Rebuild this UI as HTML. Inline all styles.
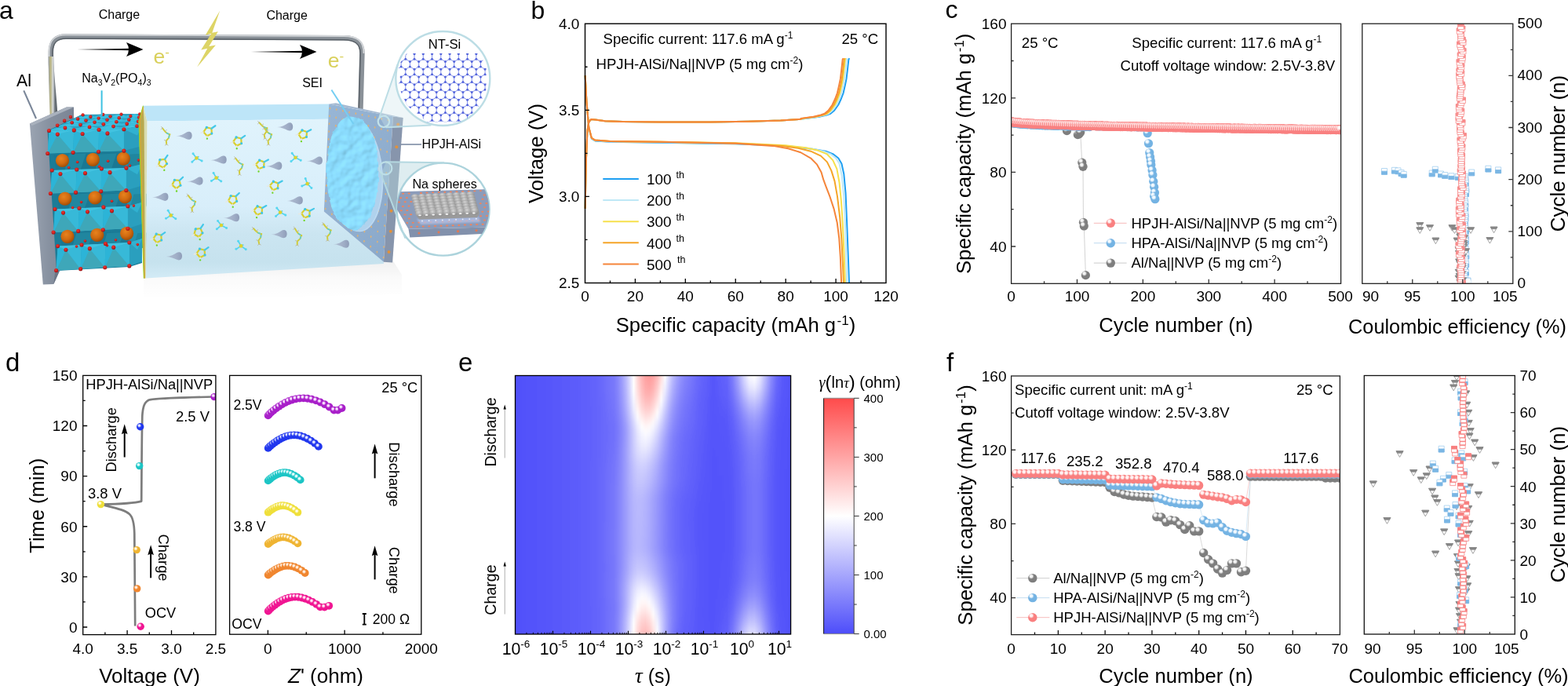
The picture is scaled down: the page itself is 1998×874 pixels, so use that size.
<!DOCTYPE html>
<html lang="en">
<head>
<meta charset="utf-8">
<title>Figure</title>
<style>
html,body{margin:0;padding:0;background:#fff;}
body{width:1998px;height:874px;overflow:hidden;}
svg{display:block;font-family:'Liberation Sans', sans-serif;}
</style>
</head>
<body>
<svg width="1998" height="874" viewBox="0 0 1998 874">
<defs>
<radialGradient id="aOr" cx="0.4" cy="0.35" r="0.7"><stop offset="0" stop-color="#e8821e"/><stop offset="0.55" stop-color="#d06a10"/><stop offset="1" stop-color="#9c4a06"/></radialGradient>
<radialGradient id="aRd" cx="0.42" cy="0.36" r="0.68"><stop offset="0" stop-color="#e8392f"/><stop offset="0.55" stop-color="#cf2020"/><stop offset="1" stop-color="#8f1010"/></radialGradient>
<linearGradient id="aAl" x1="0" y1="0" x2="1" y2="0"><stop offset="0" stop-color="#9ba4b2"/><stop offset="0.45" stop-color="#8791a0"/><stop offset="1" stop-color="#7a8494"/></linearGradient>
<linearGradient id="aBox" x1="0" y1="0" x2="0" y2="1"><stop offset="0" stop-color="#e0f3fc"/><stop offset="0.55" stop-color="#d8eefa"/><stop offset="0.72" stop-color="#cbe5f1"/><stop offset="0.9" stop-color="#c6e2ee"/><stop offset="1" stop-color="#d3ebf6"/></linearGradient>
<linearGradient id="aPl" x1="0" y1="0" x2="1" y2="1"><stop offset="0" stop-color="#98b6d6"/><stop offset="1" stop-color="#8aa8c9"/></linearGradient>
<linearGradient id="aSh" x1="0" y1="0" x2="0" y2="1"><stop offset="0" stop-color="#000" stop-opacity="0.06"/><stop offset="0.45" stop-color="#000" stop-opacity="0.02"/><stop offset="1" stop-color="#000" stop-opacity="0"/></linearGradient>
<linearGradient id="aTd" x1="0" y1="0" x2="1" y2="0"><stop offset="0" stop-color="#b0bccf" stop-opacity="0.35"/><stop offset="0.3" stop-color="#a9b6cc" stop-opacity="0.95"/><stop offset="0.7" stop-color="#9eacc5"/><stop offset="1" stop-color="#8f9db8"/></linearGradient>
<linearGradient id="aWh" x1="0" y1="0" x2="0" y2="1"><stop offset="0" stop-color="#aeb4ba"/><stop offset="0.3" stop-color="#e4e7ea"/><stop offset="0.55" stop-color="#4f565e"/><stop offset="0.8" stop-color="#8a9199"/><stop offset="1" stop-color="#6c737b"/></linearGradient>
<linearGradient id="aWv" x1="0" y1="0" x2="1" y2="0"><stop offset="0" stop-color="#9aa0a6"/><stop offset="0.3" stop-color="#dfe2e5"/><stop offset="0.6" stop-color="#555c64"/><stop offset="1" stop-color="#868d95"/></linearGradient>
<linearGradient id="aWv2" x1="0" y1="0" x2="1" y2="0"><stop offset="0" stop-color="#9da3a8"/><stop offset="0.22" stop-color="#b9b47e"/><stop offset="0.5" stop-color="#d4d7da"/><stop offset="0.72" stop-color="#6d747a"/><stop offset="1" stop-color="#4e555b"/></linearGradient>
<radialGradient id="aSei" cx="0.45" cy="0.4" r="0.75"><stop offset="0" stop-color="#6fcdf3"/><stop offset="0.7" stop-color="#58c0ec"/><stop offset="1" stop-color="#4bb3e2"/></radialGradient>
<radialGradient id="aNa" cx="0.4" cy="0.3" r="0.8"><stop offset="0" stop-color="#d4d4d4"/><stop offset="0.5" stop-color="#a9a9a9"/><stop offset="1" stop-color="#878787"/></radialGradient>
<clipPath id="aC1"><circle cx="564.3" cy="100" r="59.6"/></clipPath>
<clipPath id="aC2"><circle cx="564.6" cy="266.6" r="58.6"/></clipPath>
<filter id="aB1" x="-20%" y="-20%" width="140%" height="140%"><feGaussianBlur stdDeviation="1.1"/></filter>
<filter id="aB2" x="-20%" y="-20%" width="140%" height="140%"><feGaussianBlur stdDeviation="2.2"/></filter>
<filter id="aTex" x="-5%" y="-5%" width="110%" height="110%"><feTurbulence type="fractalNoise" baseFrequency="0.085" numOctaves="2" seed="7" result="n"/><feDiffuseLighting in="n" lighting-color="#8adbfd" surfaceScale="1.7" diffuseConstant="1.14" result="l"><feDistantLight azimuth="230" elevation="62"/></feDiffuseLighting><feDisplacementMap in="SourceGraphic" in2="n" scale="5" xChannelSelector="R" yChannelSelector="G" result="d"/><feComposite in="l" in2="d" operator="in"/></filter>
<clipPath id="aCs"><ellipse cx="450" cy="220.5" rx="34.5" ry="73" transform="rotate(-4 450 220.5)"/></clipPath>
<radialGradient id="gR" cx="0.36" cy="0.32" r="0.62" fx="0.34" fy="0.28"><stop offset="0" stop-color="#fff2f2"/><stop offset="0.22" stop-color="#fff2f2"/><stop offset="0.5" stop-color="#f98080"/><stop offset="1" stop-color="#f98080"/></radialGradient>
<radialGradient id="gB" cx="0.36" cy="0.32" r="0.62" fx="0.34" fy="0.28"><stop offset="0" stop-color="#f2f9ff"/><stop offset="0.22" stop-color="#f2f9ff"/><stop offset="0.5" stop-color="#74b3e3"/><stop offset="1" stop-color="#74b3e3"/></radialGradient>
<radialGradient id="gG" cx="0.36" cy="0.32" r="0.62" fx="0.34" fy="0.28"><stop offset="0" stop-color="#f4f4f4"/><stop offset="0.22" stop-color="#f4f4f4"/><stop offset="0.5" stop-color="#7e7e7e"/><stop offset="1" stop-color="#7e7e7e"/></radialGradient>
<radialGradient id="dP" cx="0.38" cy="0.36" r="0.6" fx="0.36" fy="0.32"><stop offset="0" stop-color="#fff"/><stop offset="0.2" stop-color="#f3d4fb"/><stop offset="0.48" stop-color="#a81fc9"/><stop offset="1" stop-color="#a81fc9"/></radialGradient>
<radialGradient id="dB" cx="0.38" cy="0.36" r="0.6" fx="0.36" fy="0.32"><stop offset="0" stop-color="#fff"/><stop offset="0.2" stop-color="#d5dbff"/><stop offset="0.48" stop-color="#2137ee"/><stop offset="1" stop-color="#2137ee"/></radialGradient>
<radialGradient id="dC" cx="0.38" cy="0.36" r="0.6" fx="0.36" fy="0.32"><stop offset="0" stop-color="#fff"/><stop offset="0.2" stop-color="#d8fbfb"/><stop offset="0.48" stop-color="#1cc5c5"/><stop offset="1" stop-color="#1cc5c5"/></radialGradient>
<radialGradient id="dY" cx="0.38" cy="0.36" r="0.6" fx="0.36" fy="0.32"><stop offset="0" stop-color="#fff"/><stop offset="0.2" stop-color="#fffbd8"/><stop offset="0.48" stop-color="#efdf3a"/><stop offset="1" stop-color="#efdf3a"/></radialGradient>
<radialGradient id="dO" cx="0.38" cy="0.36" r="0.6" fx="0.36" fy="0.32"><stop offset="0" stop-color="#fff"/><stop offset="0.2" stop-color="#fff1d2"/><stop offset="0.48" stop-color="#efb432"/><stop offset="1" stop-color="#efb432"/></radialGradient>
<radialGradient id="dR" cx="0.38" cy="0.36" r="0.6" fx="0.36" fy="0.32"><stop offset="0" stop-color="#fff"/><stop offset="0.2" stop-color="#ffe6d0"/><stop offset="0.48" stop-color="#f0862f"/><stop offset="1" stop-color="#f0862f"/></radialGradient>
<radialGradient id="dM" cx="0.38" cy="0.36" r="0.6" fx="0.36" fy="0.32"><stop offset="0" stop-color="#fff"/><stop offset="0.2" stop-color="#ffd3ec"/><stop offset="0.48" stop-color="#f01592"/><stop offset="1" stop-color="#f01592"/></radialGradient>
<marker id="ah" viewBox="0 0 10 10" refX="5" refY="5" markerWidth="10" markerHeight="10" orient="auto" markerUnits="userSpaceOnUse"><path d="M0 0L10 5L0 10z"/></marker>
<linearGradient id="cbar" x1="0" y1="0" x2="0" y2="1"><stop offset="0" stop-color="#ff4b4b"/><stop offset="0.5" stop-color="#ffffff"/><stop offset="1" stop-color="#4d4dfa"/></linearGradient>
<clipPath id="eclip"><rect x="656.5" y="478.5" width="351.1" height="329.5"/></clipPath>
<filter id="ebv" x="-5%" y="-10%" width="110%" height="120%"><feGaussianBlur stdDeviation="0 4"/></filter>
<linearGradient id="er0"><stop offset="0" stop-color="#5151fa"/><stop offset=".051" stop-color="#5252fa"/><stop offset=".103" stop-color="#5555fa"/><stop offset=".154" stop-color="#5959fa"/><stop offset=".205" stop-color="#5b5bfa"/><stop offset=".256" stop-color="#5f5ffb"/><stop offset=".308" stop-color="#6767fb"/><stop offset=".359" stop-color="#7a7afb"/><stop offset=".373" stop-color="#8888fc"/><stop offset=".387" stop-color="#9d9dfc"/><stop offset=".402" stop-color="#b9b9fd"/><stop offset=".416" stop-color="#dcdcfe"/><stop offset=".43" stop-color="#fffcfc"/><stop offset=".444" stop-color="#ffd6d6"/><stop offset=".459" stop-color="#ffb5b5"/><stop offset=".473" stop-color="#ffa0a0"/><stop offset=".487" stop-color="#ff9a9a"/><stop offset=".501" stop-color="#ffa3a3"/><stop offset=".516" stop-color="#ffbaba"/><stop offset=".53" stop-color="#ffdbdb"/><stop offset=".544" stop-color="#fefeff"/><stop offset=".558" stop-color="#dadafe"/><stop offset=".572" stop-color="#bbbbfd"/><stop offset=".587" stop-color="#a3a3fc"/><stop offset=".601" stop-color="#9292fc"/><stop offset=".615" stop-color="#8585fc"/><stop offset=".666" stop-color="#6868fb"/><stop offset=".718" stop-color="#5656fa"/><stop offset=".769" stop-color="#6464fb"/><stop offset=".789" stop-color="#7d7dfb"/><stop offset=".809" stop-color="#a4a4fc"/><stop offset=".829" stop-color="#d3d3fe"/><stop offset=".849" stop-color="#f7f7ff"/><stop offset=".869" stop-color="#ffffff"/><stop offset=".889" stop-color="#e5e5fe"/><stop offset=".909" stop-color="#b7b7fd"/><stop offset=".929" stop-color="#8a8afc"/><stop offset=".948" stop-color="#6a6afb"/><stop offset=".968" stop-color="#5a5afa"/><stop offset="1" stop-color="#5252fa"/></linearGradient>
<linearGradient id="er1"><stop offset="0" stop-color="#5151fa"/><stop offset=".051" stop-color="#5252fa"/><stop offset=".103" stop-color="#5555fa"/><stop offset=".154" stop-color="#5959fa"/><stop offset=".205" stop-color="#5b5bfa"/><stop offset=".256" stop-color="#5f5ffb"/><stop offset=".308" stop-color="#6767fb"/><stop offset=".359" stop-color="#7a7afb"/><stop offset=".373" stop-color="#8888fc"/><stop offset=".387" stop-color="#9d9dfc"/><stop offset=".402" stop-color="#b9b9fd"/><stop offset=".416" stop-color="#dcdcfe"/><stop offset=".43" stop-color="#fffcfc"/><stop offset=".444" stop-color="#ffd6d6"/><stop offset=".459" stop-color="#ffb5b5"/><stop offset=".473" stop-color="#ffa0a0"/><stop offset=".487" stop-color="#ff9a9a"/><stop offset=".501" stop-color="#ffa3a3"/><stop offset=".516" stop-color="#ffbaba"/><stop offset=".53" stop-color="#ffdbdb"/><stop offset=".544" stop-color="#fefeff"/><stop offset=".558" stop-color="#dadafe"/><stop offset=".572" stop-color="#bbbbfd"/><stop offset=".587" stop-color="#a3a3fc"/><stop offset=".601" stop-color="#9292fc"/><stop offset=".615" stop-color="#8585fc"/><stop offset=".666" stop-color="#6868fb"/><stop offset=".718" stop-color="#5656fa"/><stop offset=".769" stop-color="#6464fb"/><stop offset=".789" stop-color="#7d7dfb"/><stop offset=".809" stop-color="#a4a4fc"/><stop offset=".829" stop-color="#d3d3fe"/><stop offset=".849" stop-color="#f7f7ff"/><stop offset=".869" stop-color="#ffffff"/><stop offset=".889" stop-color="#e5e5fe"/><stop offset=".909" stop-color="#b7b7fd"/><stop offset=".929" stop-color="#8a8afc"/><stop offset=".948" stop-color="#6a6afb"/><stop offset=".968" stop-color="#5a5afa"/><stop offset="1" stop-color="#5252fa"/></linearGradient>
<linearGradient id="er2"><stop offset="0" stop-color="#5151fa"/><stop offset=".051" stop-color="#5252fa"/><stop offset=".103" stop-color="#5555fa"/><stop offset=".154" stop-color="#5959fa"/><stop offset=".205" stop-color="#5b5bfa"/><stop offset=".256" stop-color="#5f5ffb"/><stop offset=".308" stop-color="#6767fb"/><stop offset=".359" stop-color="#7979fb"/><stop offset=".373" stop-color="#8787fc"/><stop offset=".387" stop-color="#9c9cfc"/><stop offset=".402" stop-color="#b8b8fd"/><stop offset=".416" stop-color="#dadafe"/><stop offset=".43" stop-color="#fffefe"/><stop offset=".444" stop-color="#ffd9d9"/><stop offset=".459" stop-color="#ffb9b9"/><stop offset=".473" stop-color="#ffa6a6"/><stop offset=".487" stop-color="#ffa1a1"/><stop offset=".501" stop-color="#ffabab"/><stop offset=".516" stop-color="#ffc3c3"/><stop offset=".53" stop-color="#ffe4e4"/><stop offset=".544" stop-color="#f5f5ff"/><stop offset=".558" stop-color="#d3d3fe"/><stop offset=".572" stop-color="#b5b5fd"/><stop offset=".587" stop-color="#9e9efc"/><stop offset=".601" stop-color="#8e8efc"/><stop offset=".615" stop-color="#8282fb"/><stop offset=".666" stop-color="#6767fb"/><stop offset=".718" stop-color="#5656fa"/><stop offset=".769" stop-color="#6363fb"/><stop offset=".789" stop-color="#7a7afb"/><stop offset=".809" stop-color="#a0a0fc"/><stop offset=".829" stop-color="#ccccfe"/><stop offset=".849" stop-color="#eeeeff"/><stop offset=".869" stop-color="#f6f6ff"/><stop offset=".889" stop-color="#dedefe"/><stop offset=".909" stop-color="#b2b2fd"/><stop offset=".929" stop-color="#8787fc"/><stop offset=".948" stop-color="#6969fb"/><stop offset=".968" stop-color="#5959fa"/><stop offset="1" stop-color="#5252fa"/></linearGradient>
<linearGradient id="er3"><stop offset="0" stop-color="#5151fa"/><stop offset=".051" stop-color="#5252fa"/><stop offset=".103" stop-color="#5555fa"/><stop offset=".154" stop-color="#5959fa"/><stop offset=".205" stop-color="#5b5bfa"/><stop offset=".256" stop-color="#5f5ffb"/><stop offset=".308" stop-color="#6767fb"/><stop offset=".359" stop-color="#7979fb"/><stop offset=".373" stop-color="#8787fc"/><stop offset=".387" stop-color="#9b9bfc"/><stop offset=".402" stop-color="#b6b6fd"/><stop offset=".416" stop-color="#d8d8fe"/><stop offset=".43" stop-color="#fefeff"/><stop offset=".444" stop-color="#ffdcdc"/><stop offset=".459" stop-color="#ffbebe"/><stop offset=".473" stop-color="#ffabab"/><stop offset=".487" stop-color="#ffa7a7"/><stop offset=".501" stop-color="#ffb3b3"/><stop offset=".516" stop-color="#ffcccc"/><stop offset=".53" stop-color="#ffeded"/><stop offset=".544" stop-color="#ededff"/><stop offset=".558" stop-color="#ccccfe"/><stop offset=".572" stop-color="#afaffd"/><stop offset=".587" stop-color="#9999fc"/><stop offset=".601" stop-color="#8a8afc"/><stop offset=".615" stop-color="#7f7ffb"/><stop offset=".666" stop-color="#6666fb"/><stop offset=".718" stop-color="#5656fa"/><stop offset=".769" stop-color="#6161fb"/><stop offset=".789" stop-color="#7777fb"/><stop offset=".809" stop-color="#9999fc"/><stop offset=".829" stop-color="#c2c2fd"/><stop offset=".849" stop-color="#e2e2fe"/><stop offset=".869" stop-color="#e9e9fe"/><stop offset=".889" stop-color="#d3d3fe"/><stop offset=".909" stop-color="#ababfd"/><stop offset=".929" stop-color="#8383fc"/><stop offset=".948" stop-color="#6767fb"/><stop offset=".968" stop-color="#5959fa"/><stop offset="1" stop-color="#5252fa"/></linearGradient>
<linearGradient id="er4"><stop offset="0" stop-color="#5151fa"/><stop offset=".051" stop-color="#5252fa"/><stop offset=".103" stop-color="#5555fa"/><stop offset=".154" stop-color="#5959fa"/><stop offset=".205" stop-color="#5b5bfa"/><stop offset=".256" stop-color="#5f5ffb"/><stop offset=".308" stop-color="#6767fb"/><stop offset=".359" stop-color="#7878fb"/><stop offset=".373" stop-color="#8585fc"/><stop offset=".387" stop-color="#9999fc"/><stop offset=".402" stop-color="#b4b4fd"/><stop offset=".416" stop-color="#d6d6fe"/><stop offset=".43" stop-color="#fafaff"/><stop offset=".444" stop-color="#ffe0e0"/><stop offset=".459" stop-color="#ffc3c3"/><stop offset=".473" stop-color="#ffb2b2"/><stop offset=".487" stop-color="#ffb0b0"/><stop offset=".501" stop-color="#ffbdbd"/><stop offset=".516" stop-color="#ffd6d6"/><stop offset=".53" stop-color="#fff6f6"/><stop offset=".544" stop-color="#e5e5fe"/><stop offset=".558" stop-color="#c4c4fd"/><stop offset=".572" stop-color="#a9a9fd"/><stop offset=".587" stop-color="#9494fc"/><stop offset=".601" stop-color="#8686fc"/><stop offset=".615" stop-color="#7c7cfb"/><stop offset=".666" stop-color="#6464fb"/><stop offset=".718" stop-color="#5656fa"/><stop offset=".769" stop-color="#6060fb"/><stop offset=".789" stop-color="#7373fb"/><stop offset=".809" stop-color="#9191fc"/><stop offset=".829" stop-color="#b5b5fd"/><stop offset=".849" stop-color="#d2d2fe"/><stop offset=".869" stop-color="#d8d8fe"/><stop offset=".889" stop-color="#c5c5fd"/><stop offset=".909" stop-color="#a1a1fc"/><stop offset=".929" stop-color="#7d7dfb"/><stop offset=".948" stop-color="#6464fb"/><stop offset=".968" stop-color="#5858fa"/><stop offset="1" stop-color="#5252fa"/></linearGradient>
<linearGradient id="er5"><stop offset="0" stop-color="#5151fa"/><stop offset=".051" stop-color="#5252fa"/><stop offset=".103" stop-color="#5555fa"/><stop offset=".154" stop-color="#5959fa"/><stop offset=".205" stop-color="#5b5bfa"/><stop offset=".256" stop-color="#5f5ffb"/><stop offset=".308" stop-color="#6666fb"/><stop offset=".359" stop-color="#7777fb"/><stop offset=".373" stop-color="#8484fc"/><stop offset=".387" stop-color="#9797fc"/><stop offset=".402" stop-color="#b1b1fd"/><stop offset=".416" stop-color="#d1d1fe"/><stop offset=".43" stop-color="#f4f4ff"/><stop offset=".444" stop-color="#ffe8e8"/><stop offset=".459" stop-color="#ffcdcd"/><stop offset=".473" stop-color="#ffbdbd"/><stop offset=".487" stop-color="#ffbcbc"/><stop offset=".501" stop-color="#ffcaca"/><stop offset=".516" stop-color="#ffe3e3"/><stop offset=".53" stop-color="#fcfcff"/><stop offset=".544" stop-color="#dadafe"/><stop offset=".558" stop-color="#bbbbfd"/><stop offset=".572" stop-color="#a2a2fc"/><stop offset=".587" stop-color="#8f8ffc"/><stop offset=".601" stop-color="#8282fb"/><stop offset=".615" stop-color="#7979fb"/><stop offset=".666" stop-color="#6363fb"/><stop offset=".718" stop-color="#5555fa"/><stop offset=".769" stop-color="#5e5efa"/><stop offset=".789" stop-color="#6e6efb"/><stop offset=".809" stop-color="#8989fc"/><stop offset=".829" stop-color="#a8a8fd"/><stop offset=".849" stop-color="#c1c1fd"/><stop offset=".869" stop-color="#c7c7fd"/><stop offset=".889" stop-color="#b7b7fd"/><stop offset=".909" stop-color="#9797fc"/><stop offset=".929" stop-color="#7878fb"/><stop offset=".948" stop-color="#6262fb"/><stop offset=".968" stop-color="#5757fa"/><stop offset="1" stop-color="#5151fa"/></linearGradient>
<linearGradient id="er6"><stop offset="0" stop-color="#5151fa"/><stop offset=".051" stop-color="#5252fa"/><stop offset=".103" stop-color="#5555fa"/><stop offset=".154" stop-color="#5959fa"/><stop offset=".205" stop-color="#5b5bfa"/><stop offset=".256" stop-color="#5f5ffb"/><stop offset=".308" stop-color="#6666fb"/><stop offset=".359" stop-color="#7676fb"/><stop offset=".373" stop-color="#8282fb"/><stop offset=".387" stop-color="#9494fc"/><stop offset=".402" stop-color="#aeaefd"/><stop offset=".416" stop-color="#ccccfe"/><stop offset=".43" stop-color="#eeeeff"/><stop offset=".444" stop-color="#fff0f0"/><stop offset=".459" stop-color="#ffd6d6"/><stop offset=".473" stop-color="#ffc9c9"/><stop offset=".487" stop-color="#ffc9c9"/><stop offset=".501" stop-color="#ffd7d7"/><stop offset=".516" stop-color="#ffefef"/><stop offset=".53" stop-color="#f0f0ff"/><stop offset=".544" stop-color="#d0d0fe"/><stop offset=".558" stop-color="#b2b2fd"/><stop offset=".572" stop-color="#9b9bfc"/><stop offset=".587" stop-color="#8989fc"/><stop offset=".601" stop-color="#7e7efb"/><stop offset=".615" stop-color="#7676fb"/><stop offset=".666" stop-color="#6262fb"/><stop offset=".718" stop-color="#5555fa"/><stop offset=".769" stop-color="#5c5cfa"/><stop offset=".789" stop-color="#6a6afb"/><stop offset=".809" stop-color="#8080fb"/><stop offset=".829" stop-color="#9b9bfc"/><stop offset=".849" stop-color="#b0b0fd"/><stop offset=".869" stop-color="#b6b6fd"/><stop offset=".889" stop-color="#a8a8fd"/><stop offset=".909" stop-color="#8d8dfc"/><stop offset=".929" stop-color="#7272fb"/><stop offset=".948" stop-color="#5f5ffb"/><stop offset=".968" stop-color="#5656fa"/><stop offset="1" stop-color="#5151fa"/></linearGradient>
<linearGradient id="er7"><stop offset="0" stop-color="#5151fa"/><stop offset=".051" stop-color="#5252fa"/><stop offset=".103" stop-color="#5555fa"/><stop offset=".154" stop-color="#5959fa"/><stop offset=".205" stop-color="#5b5bfa"/><stop offset=".256" stop-color="#5f5ffb"/><stop offset=".308" stop-color="#6666fb"/><stop offset=".359" stop-color="#7474fb"/><stop offset=".373" stop-color="#8080fb"/><stop offset=".387" stop-color="#9191fc"/><stop offset=".402" stop-color="#a9a9fd"/><stop offset=".416" stop-color="#c6c6fd"/><stop offset=".43" stop-color="#e6e6fe"/><stop offset=".444" stop-color="#fffafa"/><stop offset=".459" stop-color="#ffe3e3"/><stop offset=".473" stop-color="#ffd7d7"/><stop offset=".487" stop-color="#ffd8d8"/><stop offset=".501" stop-color="#ffe6e6"/><stop offset=".516" stop-color="#fffefe"/><stop offset=".53" stop-color="#e4e4fe"/><stop offset=".544" stop-color="#c6c6fd"/><stop offset=".558" stop-color="#ababfd"/><stop offset=".572" stop-color="#9595fc"/><stop offset=".587" stop-color="#8686fc"/><stop offset=".601" stop-color="#7b7bfb"/><stop offset=".615" stop-color="#7474fb"/><stop offset=".666" stop-color="#6161fb"/><stop offset=".718" stop-color="#5555fa"/><stop offset=".769" stop-color="#5a5afa"/><stop offset=".789" stop-color="#6666fb"/><stop offset=".809" stop-color="#7979fb"/><stop offset=".829" stop-color="#9090fc"/><stop offset=".849" stop-color="#a3a3fc"/><stop offset=".869" stop-color="#a8a8fd"/><stop offset=".889" stop-color="#9c9cfc"/><stop offset=".909" stop-color="#8585fc"/><stop offset=".929" stop-color="#6e6efb"/><stop offset=".948" stop-color="#5d5dfa"/><stop offset=".968" stop-color="#5555fa"/><stop offset="1" stop-color="#5151fa"/></linearGradient>
<linearGradient id="er8"><stop offset="0" stop-color="#5151fa"/><stop offset=".051" stop-color="#5252fa"/><stop offset=".103" stop-color="#5555fa"/><stop offset=".154" stop-color="#5959fa"/><stop offset=".205" stop-color="#5b5bfa"/><stop offset=".256" stop-color="#5f5ffb"/><stop offset=".308" stop-color="#6666fb"/><stop offset=".359" stop-color="#7373fb"/><stop offset=".373" stop-color="#7d7dfb"/><stop offset=".387" stop-color="#8d8dfc"/><stop offset=".402" stop-color="#a4a4fc"/><stop offset=".416" stop-color="#bfbffd"/><stop offset=".43" stop-color="#dcdcfe"/><stop offset=".444" stop-color="#f8f8ff"/><stop offset=".459" stop-color="#fff1f1"/><stop offset=".473" stop-color="#ffe6e6"/><stop offset=".487" stop-color="#ffe9e9"/><stop offset=".501" stop-color="#fff6f6"/><stop offset=".516" stop-color="#f2f2ff"/><stop offset=".53" stop-color="#d8d8fe"/><stop offset=".544" stop-color="#bcbcfd"/><stop offset=".558" stop-color="#a4a4fc"/><stop offset=".572" stop-color="#9090fc"/><stop offset=".587" stop-color="#8282fb"/><stop offset=".601" stop-color="#7878fb"/><stop offset=".615" stop-color="#7272fb"/><stop offset=".666" stop-color="#6161fb"/><stop offset=".718" stop-color="#5454fa"/><stop offset=".769" stop-color="#5858fa"/><stop offset=".789" stop-color="#6262fb"/><stop offset=".809" stop-color="#7373fb"/><stop offset=".829" stop-color="#8686fc"/><stop offset=".849" stop-color="#9696fc"/><stop offset=".869" stop-color="#9b9bfc"/><stop offset=".889" stop-color="#9191fc"/><stop offset=".909" stop-color="#7e7efb"/><stop offset=".929" stop-color="#6969fb"/><stop offset=".948" stop-color="#5b5bfa"/><stop offset=".968" stop-color="#5454fa"/><stop offset="1" stop-color="#5151fa"/></linearGradient>
<linearGradient id="er9"><stop offset="0" stop-color="#5151fa"/><stop offset=".051" stop-color="#5252fa"/><stop offset=".103" stop-color="#5555fa"/><stop offset=".154" stop-color="#5959fa"/><stop offset=".205" stop-color="#5b5bfa"/><stop offset=".256" stop-color="#5f5ffb"/><stop offset=".308" stop-color="#6666fb"/><stop offset=".359" stop-color="#7171fb"/><stop offset=".373" stop-color="#7b7bfb"/><stop offset=".387" stop-color="#8a8afc"/><stop offset=".402" stop-color="#9e9efc"/><stop offset=".416" stop-color="#b8b8fd"/><stop offset=".43" stop-color="#d3d3fe"/><stop offset=".444" stop-color="#ededfe"/><stop offset=".459" stop-color="#ffffff"/><stop offset=".473" stop-color="#fff6f6"/><stop offset=".487" stop-color="#fff9f9"/><stop offset=".501" stop-color="#f8f8ff"/><stop offset=".516" stop-color="#e4e4fe"/><stop offset=".53" stop-color="#ccccfe"/><stop offset=".544" stop-color="#b3b3fd"/><stop offset=".558" stop-color="#9d9dfc"/><stop offset=".572" stop-color="#8b8bfc"/><stop offset=".587" stop-color="#7e7efb"/><stop offset=".601" stop-color="#7676fb"/><stop offset=".615" stop-color="#7070fb"/><stop offset=".666" stop-color="#6060fb"/><stop offset=".718" stop-color="#5454fa"/><stop offset=".769" stop-color="#5858fa"/><stop offset=".789" stop-color="#6060fb"/><stop offset=".809" stop-color="#6f6ffb"/><stop offset=".829" stop-color="#8080fb"/><stop offset=".849" stop-color="#8e8efc"/><stop offset=".869" stop-color="#9393fc"/><stop offset=".889" stop-color="#8b8bfc"/><stop offset=".909" stop-color="#7979fb"/><stop offset=".929" stop-color="#6767fb"/><stop offset=".948" stop-color="#5a5afa"/><stop offset=".968" stop-color="#5454fa"/><stop offset="1" stop-color="#5151fa"/></linearGradient>
<linearGradient id="er10"><stop offset="0" stop-color="#5151fa"/><stop offset=".051" stop-color="#5252fa"/><stop offset=".103" stop-color="#5555fa"/><stop offset=".154" stop-color="#5959fa"/><stop offset=".205" stop-color="#5b5bfa"/><stop offset=".256" stop-color="#5f5ffb"/><stop offset=".308" stop-color="#6666fb"/><stop offset=".359" stop-color="#7171fb"/><stop offset=".373" stop-color="#7a7afb"/><stop offset=".387" stop-color="#8989fc"/><stop offset=".402" stop-color="#9c9cfc"/><stop offset=".416" stop-color="#b5b5fd"/><stop offset=".43" stop-color="#cecefe"/><stop offset=".444" stop-color="#e6e6fe"/><stop offset=".459" stop-color="#f7f7ff"/><stop offset=".473" stop-color="#fdfdff"/><stop offset=".487" stop-color="#f9f9ff"/><stop offset=".501" stop-color="#ececfe"/><stop offset=".516" stop-color="#d8d8fe"/><stop offset=".53" stop-color="#c1c1fd"/><stop offset=".544" stop-color="#ababfd"/><stop offset=".558" stop-color="#9696fc"/><stop offset=".572" stop-color="#8686fc"/><stop offset=".587" stop-color="#7b7bfb"/><stop offset=".601" stop-color="#7373fb"/><stop offset=".615" stop-color="#6d6dfb"/><stop offset=".666" stop-color="#5f5ffa"/><stop offset=".718" stop-color="#5454fa"/><stop offset=".769" stop-color="#5757fa"/><stop offset=".789" stop-color="#5e5efa"/><stop offset=".809" stop-color="#6b6bfb"/><stop offset=".829" stop-color="#7a7afb"/><stop offset=".849" stop-color="#8787fc"/><stop offset=".869" stop-color="#8b8bfc"/><stop offset=".889" stop-color="#8484fc"/><stop offset=".909" stop-color="#7575fb"/><stop offset=".929" stop-color="#6464fb"/><stop offset=".948" stop-color="#5959fa"/><stop offset=".968" stop-color="#5353fa"/><stop offset="1" stop-color="#5151fa"/></linearGradient>
<linearGradient id="er11"><stop offset="0" stop-color="#5151fa"/><stop offset=".051" stop-color="#5252fa"/><stop offset=".103" stop-color="#5555fa"/><stop offset=".154" stop-color="#5959fa"/><stop offset=".205" stop-color="#5b5bfa"/><stop offset=".256" stop-color="#5f5ffb"/><stop offset=".308" stop-color="#6666fb"/><stop offset=".359" stop-color="#7171fb"/><stop offset=".373" stop-color="#7b7bfb"/><stop offset=".387" stop-color="#8989fc"/><stop offset=".402" stop-color="#9d9dfc"/><stop offset=".416" stop-color="#b5b5fd"/><stop offset=".43" stop-color="#cdcdfe"/><stop offset=".444" stop-color="#e3e3fe"/><stop offset=".459" stop-color="#f1f1ff"/><stop offset=".473" stop-color="#f5f5ff"/><stop offset=".487" stop-color="#efefff"/><stop offset=".501" stop-color="#e2e2fe"/><stop offset=".516" stop-color="#cecefe"/><stop offset=".53" stop-color="#b8b8fd"/><stop offset=".544" stop-color="#a3a3fc"/><stop offset=".558" stop-color="#9090fc"/><stop offset=".572" stop-color="#8181fb"/><stop offset=".587" stop-color="#7777fb"/><stop offset=".601" stop-color="#7070fb"/><stop offset=".615" stop-color="#6b6bfb"/><stop offset=".666" stop-color="#5e5efa"/><stop offset=".718" stop-color="#5454fa"/><stop offset=".769" stop-color="#5656fa"/><stop offset=".789" stop-color="#5d5dfa"/><stop offset=".809" stop-color="#6868fb"/><stop offset=".829" stop-color="#7575fb"/><stop offset=".849" stop-color="#8181fb"/><stop offset=".869" stop-color="#8585fc"/><stop offset=".889" stop-color="#7f7ffb"/><stop offset=".909" stop-color="#7171fb"/><stop offset=".929" stop-color="#6262fb"/><stop offset=".948" stop-color="#5858fa"/><stop offset=".968" stop-color="#5353fa"/><stop offset="1" stop-color="#5151fa"/></linearGradient>
<linearGradient id="er12"><stop offset="0" stop-color="#5151fa"/><stop offset=".051" stop-color="#5252fa"/><stop offset=".103" stop-color="#5555fa"/><stop offset=".154" stop-color="#5959fa"/><stop offset=".205" stop-color="#5b5bfa"/><stop offset=".256" stop-color="#5f5ffb"/><stop offset=".308" stop-color="#6666fb"/><stop offset=".359" stop-color="#7272fb"/><stop offset=".373" stop-color="#7c7cfb"/><stop offset=".387" stop-color="#8b8bfc"/><stop offset=".402" stop-color="#9e9efc"/><stop offset=".416" stop-color="#b5b5fd"/><stop offset=".43" stop-color="#ccccfe"/><stop offset=".444" stop-color="#dfdffe"/><stop offset=".459" stop-color="#ebebfe"/><stop offset=".473" stop-color="#ededfe"/><stop offset=".487" stop-color="#e6e6fe"/><stop offset=".501" stop-color="#d8d8fe"/><stop offset=".516" stop-color="#c6c6fd"/><stop offset=".53" stop-color="#b2b2fd"/><stop offset=".544" stop-color="#9e9efc"/><stop offset=".558" stop-color="#8d8dfc"/><stop offset=".572" stop-color="#7f7ffb"/><stop offset=".587" stop-color="#7676fb"/><stop offset=".601" stop-color="#6f6ffb"/><stop offset=".615" stop-color="#6a6afb"/><stop offset=".666" stop-color="#5d5dfa"/><stop offset=".718" stop-color="#5454fa"/><stop offset=".769" stop-color="#5656fa"/><stop offset=".789" stop-color="#5c5cfa"/><stop offset=".809" stop-color="#6666fb"/><stop offset=".829" stop-color="#7272fb"/><stop offset=".849" stop-color="#7d7dfb"/><stop offset=".869" stop-color="#8282fb"/><stop offset=".889" stop-color="#7c7cfb"/><stop offset=".909" stop-color="#6f6ffb"/><stop offset=".929" stop-color="#6161fb"/><stop offset=".948" stop-color="#5858fa"/><stop offset=".968" stop-color="#5353fa"/><stop offset="1" stop-color="#5151fa"/></linearGradient>
<linearGradient id="er13"><stop offset="0" stop-color="#5151fa"/><stop offset=".051" stop-color="#5252fa"/><stop offset=".103" stop-color="#5555fa"/><stop offset=".154" stop-color="#5959fa"/><stop offset=".205" stop-color="#5b5bfa"/><stop offset=".256" stop-color="#5f5ffb"/><stop offset=".308" stop-color="#6666fb"/><stop offset=".359" stop-color="#7373fb"/><stop offset=".373" stop-color="#7d7dfb"/><stop offset=".387" stop-color="#8c8cfc"/><stop offset=".402" stop-color="#9f9ffc"/><stop offset=".416" stop-color="#b5b5fd"/><stop offset=".43" stop-color="#cacafe"/><stop offset=".444" stop-color="#dbdbfe"/><stop offset=".459" stop-color="#e4e4fe"/><stop offset=".473" stop-color="#e4e4fe"/><stop offset=".487" stop-color="#ddddfe"/><stop offset=".501" stop-color="#cfcffe"/><stop offset=".516" stop-color="#bebefd"/><stop offset=".53" stop-color="#acacfd"/><stop offset=".544" stop-color="#9a9afc"/><stop offset=".558" stop-color="#8a8afc"/><stop offset=".572" stop-color="#7e7efb"/><stop offset=".587" stop-color="#7575fb"/><stop offset=".601" stop-color="#6e6efb"/><stop offset=".615" stop-color="#6a6afb"/><stop offset=".666" stop-color="#5d5dfa"/><stop offset=".718" stop-color="#5353fa"/><stop offset=".769" stop-color="#5555fa"/><stop offset=".789" stop-color="#5b5bfa"/><stop offset=".809" stop-color="#6464fb"/><stop offset=".829" stop-color="#7070fb"/><stop offset=".849" stop-color="#7a7afb"/><stop offset=".869" stop-color="#7e7efb"/><stop offset=".889" stop-color="#7979fb"/><stop offset=".909" stop-color="#6d6dfb"/><stop offset=".929" stop-color="#6060fb"/><stop offset=".948" stop-color="#5757fa"/><stop offset=".968" stop-color="#5353fa"/><stop offset="1" stop-color="#5151fa"/></linearGradient>
<linearGradient id="er14"><stop offset="0" stop-color="#5151fa"/><stop offset=".051" stop-color="#5252fa"/><stop offset=".103" stop-color="#5555fa"/><stop offset=".154" stop-color="#5959fa"/><stop offset=".205" stop-color="#5b5bfa"/><stop offset=".256" stop-color="#5f5ffb"/><stop offset=".308" stop-color="#6666fb"/><stop offset=".359" stop-color="#7474fb"/><stop offset=".373" stop-color="#7e7efb"/><stop offset=".387" stop-color="#8d8dfc"/><stop offset=".402" stop-color="#9f9ffc"/><stop offset=".416" stop-color="#b4b4fd"/><stop offset=".43" stop-color="#c7c7fd"/><stop offset=".444" stop-color="#d5d5fe"/><stop offset=".459" stop-color="#dcdcfe"/><stop offset=".473" stop-color="#dadafe"/><stop offset=".487" stop-color="#d2d2fe"/><stop offset=".501" stop-color="#c6c6fd"/><stop offset=".516" stop-color="#b6b6fd"/><stop offset=".53" stop-color="#a5a5fc"/><stop offset=".544" stop-color="#9595fc"/><stop offset=".558" stop-color="#8787fc"/><stop offset=".572" stop-color="#7c7cfb"/><stop offset=".587" stop-color="#7373fb"/><stop offset=".601" stop-color="#6d6dfb"/><stop offset=".615" stop-color="#6969fb"/><stop offset=".666" stop-color="#5c5cfa"/><stop offset=".718" stop-color="#5353fa"/><stop offset=".769" stop-color="#5555fa"/><stop offset=".789" stop-color="#5a5afa"/><stop offset=".809" stop-color="#6363fb"/><stop offset=".829" stop-color="#6d6dfb"/><stop offset=".849" stop-color="#7777fb"/><stop offset=".869" stop-color="#7b7bfb"/><stop offset=".889" stop-color="#7777fb"/><stop offset=".909" stop-color="#6b6bfb"/><stop offset=".929" stop-color="#5f5ffb"/><stop offset=".948" stop-color="#5757fa"/><stop offset=".968" stop-color="#5353fa"/><stop offset="1" stop-color="#5151fa"/></linearGradient>
<linearGradient id="er15"><stop offset="0" stop-color="#5151fa"/><stop offset=".051" stop-color="#5252fa"/><stop offset=".103" stop-color="#5555fa"/><stop offset=".154" stop-color="#5959fa"/><stop offset=".205" stop-color="#5b5bfa"/><stop offset=".256" stop-color="#5f5ffb"/><stop offset=".308" stop-color="#6666fb"/><stop offset=".359" stop-color="#7575fb"/><stop offset=".373" stop-color="#7f7ffb"/><stop offset=".387" stop-color="#8d8dfc"/><stop offset=".402" stop-color="#9f9ffc"/><stop offset=".416" stop-color="#b2b2fd"/><stop offset=".43" stop-color="#c3c3fd"/><stop offset=".444" stop-color="#cfcffe"/><stop offset=".459" stop-color="#d3d3fe"/><stop offset=".473" stop-color="#d0d0fe"/><stop offset=".487" stop-color="#c8c8fd"/><stop offset=".501" stop-color="#bdbdfd"/><stop offset=".516" stop-color="#aeaefd"/><stop offset=".53" stop-color="#9f9ffc"/><stop offset=".544" stop-color="#9090fc"/><stop offset=".558" stop-color="#8484fc"/><stop offset=".572" stop-color="#7a7afb"/><stop offset=".587" stop-color="#7272fb"/><stop offset=".601" stop-color="#6c6cfb"/><stop offset=".615" stop-color="#6868fb"/><stop offset=".666" stop-color="#5c5cfa"/><stop offset=".718" stop-color="#5353fa"/><stop offset=".769" stop-color="#5555fa"/><stop offset=".789" stop-color="#5a5afa"/><stop offset=".809" stop-color="#6262fb"/><stop offset=".829" stop-color="#6c6cfb"/><stop offset=".849" stop-color="#7676fb"/><stop offset=".869" stop-color="#7a7afb"/><stop offset=".889" stop-color="#7676fb"/><stop offset=".909" stop-color="#6b6bfb"/><stop offset=".929" stop-color="#5f5ffa"/><stop offset=".948" stop-color="#5656fa"/><stop offset=".968" stop-color="#5252fa"/><stop offset="1" stop-color="#5151fa"/></linearGradient>
<linearGradient id="er16"><stop offset="0" stop-color="#5151fa"/><stop offset=".051" stop-color="#5252fa"/><stop offset=".103" stop-color="#5555fa"/><stop offset=".154" stop-color="#5959fa"/><stop offset=".205" stop-color="#5b5bfa"/><stop offset=".256" stop-color="#5f5ffb"/><stop offset=".308" stop-color="#6767fb"/><stop offset=".359" stop-color="#7676fb"/><stop offset=".373" stop-color="#8080fb"/><stop offset=".387" stop-color="#8e8efc"/><stop offset=".402" stop-color="#9f9ffc"/><stop offset=".416" stop-color="#b0b0fd"/><stop offset=".43" stop-color="#c0c0fd"/><stop offset=".444" stop-color="#cacafe"/><stop offset=".459" stop-color="#cdcdfe"/><stop offset=".473" stop-color="#cacafe"/><stop offset=".487" stop-color="#c2c2fd"/><stop offset=".501" stop-color="#b7b7fd"/><stop offset=".516" stop-color="#aaaafd"/><stop offset=".53" stop-color="#9b9bfc"/><stop offset=".544" stop-color="#8e8efc"/><stop offset=".558" stop-color="#8282fb"/><stop offset=".572" stop-color="#7979fb"/><stop offset=".587" stop-color="#7171fb"/><stop offset=".601" stop-color="#6c6cfb"/><stop offset=".615" stop-color="#6868fb"/><stop offset=".666" stop-color="#5b5bfa"/><stop offset=".718" stop-color="#5353fa"/><stop offset=".769" stop-color="#5454fa"/><stop offset=".789" stop-color="#5959fa"/><stop offset=".809" stop-color="#6161fb"/><stop offset=".829" stop-color="#6c6cfb"/><stop offset=".849" stop-color="#7575fb"/><stop offset=".869" stop-color="#7979fb"/><stop offset=".889" stop-color="#7575fb"/><stop offset=".909" stop-color="#6a6afb"/><stop offset=".929" stop-color="#5e5efa"/><stop offset=".948" stop-color="#5656fa"/><stop offset=".968" stop-color="#5252fa"/><stop offset="1" stop-color="#5151fa"/></linearGradient>
<linearGradient id="er17"><stop offset="0" stop-color="#5151fa"/><stop offset=".051" stop-color="#5252fa"/><stop offset=".103" stop-color="#5555fa"/><stop offset=".154" stop-color="#5959fa"/><stop offset=".205" stop-color="#5b5bfa"/><stop offset=".256" stop-color="#5f5ffb"/><stop offset=".308" stop-color="#6767fb"/><stop offset=".359" stop-color="#7676fb"/><stop offset=".373" stop-color="#8181fb"/><stop offset=".387" stop-color="#8e8efc"/><stop offset=".402" stop-color="#9f9ffc"/><stop offset=".416" stop-color="#b0b0fd"/><stop offset=".43" stop-color="#bebefd"/><stop offset=".444" stop-color="#c7c7fd"/><stop offset=".459" stop-color="#c9c9fd"/><stop offset=".473" stop-color="#c5c5fd"/><stop offset=".487" stop-color="#bdbdfd"/><stop offset=".501" stop-color="#b3b3fd"/><stop offset=".516" stop-color="#a6a6fd"/><stop offset=".53" stop-color="#9999fc"/><stop offset=".544" stop-color="#8d8dfc"/><stop offset=".558" stop-color="#8181fb"/><stop offset=".572" stop-color="#7878fb"/><stop offset=".587" stop-color="#7171fb"/><stop offset=".601" stop-color="#6c6cfb"/><stop offset=".615" stop-color="#6767fb"/><stop offset=".666" stop-color="#5b5bfa"/><stop offset=".718" stop-color="#5353fa"/><stop offset=".769" stop-color="#5454fa"/><stop offset=".789" stop-color="#5959fa"/><stop offset=".809" stop-color="#6161fb"/><stop offset=".829" stop-color="#6b6bfb"/><stop offset=".849" stop-color="#7373fb"/><stop offset=".869" stop-color="#7777fb"/><stop offset=".889" stop-color="#7474fb"/><stop offset=".909" stop-color="#6969fb"/><stop offset=".929" stop-color="#5e5efa"/><stop offset=".948" stop-color="#5656fa"/><stop offset=".968" stop-color="#5252fa"/><stop offset="1" stop-color="#5151fa"/></linearGradient>
<linearGradient id="er18"><stop offset="0" stop-color="#5151fa"/><stop offset=".051" stop-color="#5252fa"/><stop offset=".103" stop-color="#5555fa"/><stop offset=".154" stop-color="#5959fa"/><stop offset=".205" stop-color="#5b5bfa"/><stop offset=".256" stop-color="#5f5ffb"/><stop offset=".308" stop-color="#6767fb"/><stop offset=".359" stop-color="#7777fb"/><stop offset=".373" stop-color="#8181fb"/><stop offset=".387" stop-color="#8f8ffc"/><stop offset=".402" stop-color="#9f9ffc"/><stop offset=".416" stop-color="#afaffd"/><stop offset=".43" stop-color="#bcbcfd"/><stop offset=".444" stop-color="#c4c4fd"/><stop offset=".459" stop-color="#c4c4fd"/><stop offset=".473" stop-color="#c0c0fd"/><stop offset=".487" stop-color="#b9b9fd"/><stop offset=".501" stop-color="#aeaefd"/><stop offset=".516" stop-color="#a2a2fc"/><stop offset=".53" stop-color="#9696fc"/><stop offset=".544" stop-color="#8a8afc"/><stop offset=".558" stop-color="#7f7ffb"/><stop offset=".572" stop-color="#7676fb"/><stop offset=".587" stop-color="#7070fb"/><stop offset=".601" stop-color="#6a6afb"/><stop offset=".615" stop-color="#6666fb"/><stop offset=".666" stop-color="#5a5afa"/><stop offset=".718" stop-color="#5353fa"/><stop offset=".769" stop-color="#5454fa"/><stop offset=".789" stop-color="#5959fa"/><stop offset=".809" stop-color="#6060fb"/><stop offset=".829" stop-color="#6a6afb"/><stop offset=".849" stop-color="#7272fb"/><stop offset=".869" stop-color="#7676fb"/><stop offset=".889" stop-color="#7272fb"/><stop offset=".909" stop-color="#6868fb"/><stop offset=".929" stop-color="#5e5efa"/><stop offset=".948" stop-color="#5656fa"/><stop offset=".968" stop-color="#5252fa"/><stop offset="1" stop-color="#5151fa"/></linearGradient>
<linearGradient id="er19"><stop offset="0" stop-color="#5151fa"/><stop offset=".051" stop-color="#5252fa"/><stop offset=".103" stop-color="#5555fa"/><stop offset=".154" stop-color="#5959fa"/><stop offset=".205" stop-color="#5b5bfa"/><stop offset=".256" stop-color="#5f5ffb"/><stop offset=".308" stop-color="#6767fb"/><stop offset=".359" stop-color="#7878fb"/><stop offset=".373" stop-color="#8282fb"/><stop offset=".387" stop-color="#8f8ffc"/><stop offset=".402" stop-color="#9e9efc"/><stop offset=".416" stop-color="#adadfd"/><stop offset=".43" stop-color="#b9b9fd"/><stop offset=".444" stop-color="#c0c0fd"/><stop offset=".459" stop-color="#c0c0fd"/><stop offset=".473" stop-color="#bbbbfd"/><stop offset=".487" stop-color="#b3b3fd"/><stop offset=".501" stop-color="#a9a9fd"/><stop offset=".516" stop-color="#9e9efc"/><stop offset=".53" stop-color="#9191fc"/><stop offset=".544" stop-color="#8686fc"/><stop offset=".558" stop-color="#7c7cfb"/><stop offset=".572" stop-color="#7474fb"/><stop offset=".587" stop-color="#6d6dfb"/><stop offset=".601" stop-color="#6868fb"/><stop offset=".615" stop-color="#6565fb"/><stop offset=".666" stop-color="#5959fa"/><stop offset=".718" stop-color="#5353fa"/><stop offset=".769" stop-color="#5454fa"/><stop offset=".789" stop-color="#5858fa"/><stop offset=".809" stop-color="#6060fb"/><stop offset=".829" stop-color="#6969fb"/><stop offset=".849" stop-color="#7171fb"/><stop offset=".869" stop-color="#7575fb"/><stop offset=".889" stop-color="#7272fb"/><stop offset=".909" stop-color="#6868fb"/><stop offset=".929" stop-color="#5d5dfa"/><stop offset=".948" stop-color="#5656fa"/><stop offset=".968" stop-color="#5252fa"/><stop offset="1" stop-color="#5151fa"/></linearGradient>
<linearGradient id="er20"><stop offset="0" stop-color="#5151fa"/><stop offset=".051" stop-color="#5252fa"/><stop offset=".103" stop-color="#5555fa"/><stop offset=".154" stop-color="#5959fa"/><stop offset=".205" stop-color="#5b5bfa"/><stop offset=".256" stop-color="#5f5ffb"/><stop offset=".308" stop-color="#6767fb"/><stop offset=".359" stop-color="#7878fb"/><stop offset=".373" stop-color="#8282fb"/><stop offset=".387" stop-color="#8f8ffc"/><stop offset=".402" stop-color="#9e9efc"/><stop offset=".416" stop-color="#acacfd"/><stop offset=".43" stop-color="#b7b7fd"/><stop offset=".444" stop-color="#bcbcfd"/><stop offset=".459" stop-color="#bbbbfd"/><stop offset=".473" stop-color="#b6b6fd"/><stop offset=".487" stop-color="#aeaefd"/><stop offset=".501" stop-color="#a4a4fc"/><stop offset=".516" stop-color="#9999fc"/><stop offset=".53" stop-color="#8d8dfc"/><stop offset=".544" stop-color="#8282fb"/><stop offset=".558" stop-color="#7979fb"/><stop offset=".572" stop-color="#7171fb"/><stop offset=".587" stop-color="#6b6bfb"/><stop offset=".601" stop-color="#6666fb"/><stop offset=".615" stop-color="#6363fb"/><stop offset=".666" stop-color="#5959fa"/><stop offset=".718" stop-color="#5252fa"/><stop offset=".769" stop-color="#5454fa"/><stop offset=".789" stop-color="#5858fa"/><stop offset=".809" stop-color="#6060fb"/><stop offset=".829" stop-color="#6969fb"/><stop offset=".849" stop-color="#7171fb"/><stop offset=".869" stop-color="#7575fb"/><stop offset=".889" stop-color="#7272fb"/><stop offset=".909" stop-color="#6868fb"/><stop offset=".929" stop-color="#5d5dfa"/><stop offset=".948" stop-color="#5656fa"/><stop offset=".968" stop-color="#5252fa"/><stop offset="1" stop-color="#5151fa"/></linearGradient>
<linearGradient id="er21"><stop offset="0" stop-color="#5151fa"/><stop offset=".051" stop-color="#5252fa"/><stop offset=".103" stop-color="#5555fa"/><stop offset=".154" stop-color="#5959fa"/><stop offset=".205" stop-color="#5b5bfa"/><stop offset=".256" stop-color="#5f5ffb"/><stop offset=".308" stop-color="#6767fb"/><stop offset=".359" stop-color="#7878fb"/><stop offset=".373" stop-color="#8282fc"/><stop offset=".387" stop-color="#8f8ffc"/><stop offset=".402" stop-color="#9d9dfc"/><stop offset=".416" stop-color="#ababfd"/><stop offset=".43" stop-color="#b5b5fd"/><stop offset=".444" stop-color="#b9b9fd"/><stop offset=".459" stop-color="#b8b8fd"/><stop offset=".473" stop-color="#b3b3fd"/><stop offset=".487" stop-color="#ababfd"/><stop offset=".501" stop-color="#a1a1fc"/><stop offset=".516" stop-color="#9696fc"/><stop offset=".53" stop-color="#8b8bfc"/><stop offset=".544" stop-color="#8080fb"/><stop offset=".558" stop-color="#7777fb"/><stop offset=".572" stop-color="#6f6ffb"/><stop offset=".587" stop-color="#6969fb"/><stop offset=".601" stop-color="#6565fb"/><stop offset=".615" stop-color="#6161fb"/><stop offset=".666" stop-color="#5858fa"/><stop offset=".718" stop-color="#5252fa"/><stop offset=".769" stop-color="#5454fa"/><stop offset=".789" stop-color="#5858fa"/><stop offset=".809" stop-color="#6060fb"/><stop offset=".829" stop-color="#6969fb"/><stop offset=".849" stop-color="#7171fb"/><stop offset=".869" stop-color="#7575fb"/><stop offset=".889" stop-color="#7272fb"/><stop offset=".909" stop-color="#6868fb"/><stop offset=".929" stop-color="#5d5dfa"/><stop offset=".948" stop-color="#5656fa"/><stop offset=".968" stop-color="#5252fa"/><stop offset="1" stop-color="#5151fa"/></linearGradient>
<linearGradient id="er22"><stop offset="0" stop-color="#5151fa"/><stop offset=".051" stop-color="#5252fa"/><stop offset=".103" stop-color="#5555fa"/><stop offset=".154" stop-color="#5959fa"/><stop offset=".205" stop-color="#5b5bfa"/><stop offset=".256" stop-color="#5f5ffb"/><stop offset=".308" stop-color="#6767fb"/><stop offset=".359" stop-color="#7878fb"/><stop offset=".373" stop-color="#8282fc"/><stop offset=".387" stop-color="#8f8ffc"/><stop offset=".402" stop-color="#9d9dfc"/><stop offset=".416" stop-color="#ababfd"/><stop offset=".43" stop-color="#b5b5fd"/><stop offset=".444" stop-color="#b9b9fd"/><stop offset=".459" stop-color="#b8b8fd"/><stop offset=".473" stop-color="#b3b3fd"/><stop offset=".487" stop-color="#ababfd"/><stop offset=".501" stop-color="#a1a1fc"/><stop offset=".516" stop-color="#9696fc"/><stop offset=".53" stop-color="#8b8bfc"/><stop offset=".544" stop-color="#8080fb"/><stop offset=".558" stop-color="#7777fb"/><stop offset=".572" stop-color="#6f6ffb"/><stop offset=".587" stop-color="#6969fb"/><stop offset=".601" stop-color="#6464fb"/><stop offset=".615" stop-color="#6161fb"/><stop offset=".666" stop-color="#5757fa"/><stop offset=".718" stop-color="#5252fa"/><stop offset=".769" stop-color="#5454fa"/><stop offset=".789" stop-color="#5858fa"/><stop offset=".809" stop-color="#6060fb"/><stop offset=".829" stop-color="#6969fb"/><stop offset=".849" stop-color="#7171fb"/><stop offset=".869" stop-color="#7575fb"/><stop offset=".889" stop-color="#7272fb"/><stop offset=".909" stop-color="#6868fb"/><stop offset=".929" stop-color="#5d5dfa"/><stop offset=".948" stop-color="#5656fa"/><stop offset=".968" stop-color="#5252fa"/><stop offset="1" stop-color="#5151fa"/></linearGradient>
<linearGradient id="er23"><stop offset="0" stop-color="#5151fa"/><stop offset=".051" stop-color="#5252fa"/><stop offset=".103" stop-color="#5555fa"/><stop offset=".154" stop-color="#5959fa"/><stop offset=".205" stop-color="#5b5bfa"/><stop offset=".256" stop-color="#5f5ffb"/><stop offset=".308" stop-color="#6767fb"/><stop offset=".359" stop-color="#7878fb"/><stop offset=".373" stop-color="#8282fc"/><stop offset=".387" stop-color="#8f8ffc"/><stop offset=".402" stop-color="#9d9dfc"/><stop offset=".416" stop-color="#aaaafd"/><stop offset=".43" stop-color="#b4b4fd"/><stop offset=".444" stop-color="#b9b9fd"/><stop offset=".459" stop-color="#b7b7fd"/><stop offset=".473" stop-color="#b2b2fd"/><stop offset=".487" stop-color="#aaaafd"/><stop offset=".501" stop-color="#a1a1fc"/><stop offset=".516" stop-color="#9696fc"/><stop offset=".53" stop-color="#8a8afc"/><stop offset=".544" stop-color="#8080fb"/><stop offset=".558" stop-color="#7676fb"/><stop offset=".572" stop-color="#6f6ffb"/><stop offset=".587" stop-color="#6969fb"/><stop offset=".601" stop-color="#6464fb"/><stop offset=".615" stop-color="#6060fb"/><stop offset=".666" stop-color="#5757fa"/><stop offset=".718" stop-color="#5252fa"/><stop offset=".769" stop-color="#5454fa"/><stop offset=".789" stop-color="#5858fa"/><stop offset=".809" stop-color="#6060fb"/><stop offset=".829" stop-color="#6969fb"/><stop offset=".849" stop-color="#7171fb"/><stop offset=".869" stop-color="#7575fb"/><stop offset=".889" stop-color="#7272fb"/><stop offset=".909" stop-color="#6868fb"/><stop offset=".929" stop-color="#5d5dfa"/><stop offset=".948" stop-color="#5656fa"/><stop offset=".968" stop-color="#5252fa"/><stop offset="1" stop-color="#5151fa"/></linearGradient>
<linearGradient id="er24"><stop offset="0" stop-color="#5151fa"/><stop offset=".051" stop-color="#5252fa"/><stop offset=".103" stop-color="#5555fa"/><stop offset=".154" stop-color="#5959fa"/><stop offset=".205" stop-color="#5b5bfa"/><stop offset=".256" stop-color="#5f5ffb"/><stop offset=".308" stop-color="#6767fb"/><stop offset=".359" stop-color="#7878fb"/><stop offset=".373" stop-color="#8282fc"/><stop offset=".387" stop-color="#8f8ffc"/><stop offset=".402" stop-color="#9d9dfc"/><stop offset=".416" stop-color="#aaaafd"/><stop offset=".43" stop-color="#b4b4fd"/><stop offset=".444" stop-color="#b8b8fd"/><stop offset=".459" stop-color="#b7b7fd"/><stop offset=".473" stop-color="#b2b2fd"/><stop offset=".487" stop-color="#aaaafd"/><stop offset=".501" stop-color="#a0a0fc"/><stop offset=".516" stop-color="#9595fc"/><stop offset=".53" stop-color="#8a8afc"/><stop offset=".544" stop-color="#8080fb"/><stop offset=".558" stop-color="#7676fb"/><stop offset=".572" stop-color="#6f6ffb"/><stop offset=".587" stop-color="#6969fb"/><stop offset=".601" stop-color="#6464fb"/><stop offset=".615" stop-color="#6060fb"/><stop offset=".666" stop-color="#5757fa"/><stop offset=".718" stop-color="#5252fa"/><stop offset=".769" stop-color="#5454fa"/><stop offset=".789" stop-color="#5858fa"/><stop offset=".809" stop-color="#6060fb"/><stop offset=".829" stop-color="#6969fb"/><stop offset=".849" stop-color="#7171fb"/><stop offset=".869" stop-color="#7575fb"/><stop offset=".889" stop-color="#7272fb"/><stop offset=".909" stop-color="#6868fb"/><stop offset=".929" stop-color="#5d5dfa"/><stop offset=".948" stop-color="#5656fa"/><stop offset=".968" stop-color="#5252fa"/><stop offset="1" stop-color="#5151fa"/></linearGradient>
<linearGradient id="er25"><stop offset="0" stop-color="#5151fa"/><stop offset=".051" stop-color="#5252fa"/><stop offset=".103" stop-color="#5555fa"/><stop offset=".154" stop-color="#5959fa"/><stop offset=".205" stop-color="#5b5bfa"/><stop offset=".256" stop-color="#5f5ffb"/><stop offset=".308" stop-color="#6767fb"/><stop offset=".359" stop-color="#7878fb"/><stop offset=".373" stop-color="#8282fc"/><stop offset=".387" stop-color="#8f8ffc"/><stop offset=".402" stop-color="#9d9dfc"/><stop offset=".416" stop-color="#aaaafd"/><stop offset=".43" stop-color="#b4b4fd"/><stop offset=".444" stop-color="#b8b8fd"/><stop offset=".459" stop-color="#b6b6fd"/><stop offset=".473" stop-color="#b1b1fd"/><stop offset=".487" stop-color="#aaaafd"/><stop offset=".501" stop-color="#a0a0fc"/><stop offset=".516" stop-color="#9595fc"/><stop offset=".53" stop-color="#8a8afc"/><stop offset=".544" stop-color="#7f7ffb"/><stop offset=".558" stop-color="#7676fb"/><stop offset=".572" stop-color="#6f6ffb"/><stop offset=".587" stop-color="#6969fb"/><stop offset=".601" stop-color="#6464fb"/><stop offset=".615" stop-color="#6060fb"/><stop offset=".666" stop-color="#5757fa"/><stop offset=".718" stop-color="#5252fa"/><stop offset=".769" stop-color="#5454fa"/><stop offset=".789" stop-color="#5858fa"/><stop offset=".809" stop-color="#6060fb"/><stop offset=".829" stop-color="#6969fb"/><stop offset=".849" stop-color="#7171fb"/><stop offset=".869" stop-color="#7575fb"/><stop offset=".889" stop-color="#7272fb"/><stop offset=".909" stop-color="#6868fb"/><stop offset=".929" stop-color="#5d5dfa"/><stop offset=".948" stop-color="#5656fa"/><stop offset=".968" stop-color="#5252fa"/><stop offset="1" stop-color="#5151fa"/></linearGradient>
<linearGradient id="er26"><stop offset="0" stop-color="#5151fa"/><stop offset=".051" stop-color="#5252fa"/><stop offset=".103" stop-color="#5555fa"/><stop offset=".154" stop-color="#5959fa"/><stop offset=".205" stop-color="#5b5bfa"/><stop offset=".256" stop-color="#5f5ffb"/><stop offset=".308" stop-color="#6767fb"/><stop offset=".359" stop-color="#7979fb"/><stop offset=".373" stop-color="#8383fc"/><stop offset=".387" stop-color="#8f8ffc"/><stop offset=".402" stop-color="#9d9dfc"/><stop offset=".416" stop-color="#aaaafd"/><stop offset=".43" stop-color="#b3b3fd"/><stop offset=".444" stop-color="#b7b7fd"/><stop offset=".459" stop-color="#b6b6fd"/><stop offset=".473" stop-color="#b1b1fd"/><stop offset=".487" stop-color="#a9a9fd"/><stop offset=".501" stop-color="#a0a0fc"/><stop offset=".516" stop-color="#9595fc"/><stop offset=".53" stop-color="#8a8afc"/><stop offset=".544" stop-color="#7f7ffb"/><stop offset=".558" stop-color="#7676fb"/><stop offset=".572" stop-color="#6f6ffb"/><stop offset=".587" stop-color="#6969fb"/><stop offset=".601" stop-color="#6464fb"/><stop offset=".615" stop-color="#6161fb"/><stop offset=".666" stop-color="#5757fa"/><stop offset=".718" stop-color="#5252fa"/><stop offset=".769" stop-color="#5454fa"/><stop offset=".789" stop-color="#5858fa"/><stop offset=".809" stop-color="#6060fb"/><stop offset=".829" stop-color="#6969fb"/><stop offset=".849" stop-color="#7171fb"/><stop offset=".869" stop-color="#7575fb"/><stop offset=".889" stop-color="#7272fb"/><stop offset=".909" stop-color="#6868fb"/><stop offset=".929" stop-color="#5d5dfa"/><stop offset=".948" stop-color="#5656fa"/><stop offset=".968" stop-color="#5252fa"/><stop offset="1" stop-color="#5151fa"/></linearGradient>
<linearGradient id="er27"><stop offset="0" stop-color="#5151fa"/><stop offset=".051" stop-color="#5252fa"/><stop offset=".103" stop-color="#5555fa"/><stop offset=".154" stop-color="#5959fa"/><stop offset=".205" stop-color="#5b5bfa"/><stop offset=".256" stop-color="#5f5ffb"/><stop offset=".308" stop-color="#6767fb"/><stop offset=".359" stop-color="#7979fb"/><stop offset=".373" stop-color="#8383fc"/><stop offset=".387" stop-color="#8f8ffc"/><stop offset=".402" stop-color="#9d9dfc"/><stop offset=".416" stop-color="#aaaafd"/><stop offset=".43" stop-color="#b3b3fd"/><stop offset=".444" stop-color="#b7b7fd"/><stop offset=".459" stop-color="#b5b5fd"/><stop offset=".473" stop-color="#b0b0fd"/><stop offset=".487" stop-color="#a9a9fd"/><stop offset=".501" stop-color="#9f9ffc"/><stop offset=".516" stop-color="#9494fc"/><stop offset=".53" stop-color="#8a8afc"/><stop offset=".544" stop-color="#7f7ffb"/><stop offset=".558" stop-color="#7676fb"/><stop offset=".572" stop-color="#6f6ffb"/><stop offset=".587" stop-color="#6969fb"/><stop offset=".601" stop-color="#6464fb"/><stop offset=".615" stop-color="#6161fb"/><stop offset=".666" stop-color="#5757fa"/><stop offset=".718" stop-color="#5252fa"/><stop offset=".769" stop-color="#5454fa"/><stop offset=".789" stop-color="#5858fa"/><stop offset=".809" stop-color="#6060fb"/><stop offset=".829" stop-color="#6969fb"/><stop offset=".849" stop-color="#7171fb"/><stop offset=".869" stop-color="#7575fb"/><stop offset=".889" stop-color="#7272fb"/><stop offset=".909" stop-color="#6868fb"/><stop offset=".929" stop-color="#5d5dfa"/><stop offset=".948" stop-color="#5656fa"/><stop offset=".968" stop-color="#5252fa"/><stop offset="1" stop-color="#5151fa"/></linearGradient>
<linearGradient id="er28"><stop offset="0" stop-color="#5151fa"/><stop offset=".051" stop-color="#5252fa"/><stop offset=".103" stop-color="#5555fa"/><stop offset=".154" stop-color="#5959fa"/><stop offset=".205" stop-color="#5b5bfa"/><stop offset=".256" stop-color="#5f5ffb"/><stop offset=".308" stop-color="#6767fb"/><stop offset=".359" stop-color="#7979fb"/><stop offset=".373" stop-color="#8383fc"/><stop offset=".387" stop-color="#8f8ffc"/><stop offset=".402" stop-color="#9d9dfc"/><stop offset=".416" stop-color="#a9a9fd"/><stop offset=".43" stop-color="#b3b3fd"/><stop offset=".444" stop-color="#b7b7fd"/><stop offset=".459" stop-color="#b5b5fd"/><stop offset=".473" stop-color="#b0b0fd"/><stop offset=".487" stop-color="#a8a8fd"/><stop offset=".501" stop-color="#9f9ffc"/><stop offset=".516" stop-color="#9494fc"/><stop offset=".53" stop-color="#8989fc"/><stop offset=".544" stop-color="#7f7ffb"/><stop offset=".558" stop-color="#7676fb"/><stop offset=".572" stop-color="#6f6ffb"/><stop offset=".587" stop-color="#6969fb"/><stop offset=".601" stop-color="#6464fb"/><stop offset=".615" stop-color="#6161fb"/><stop offset=".666" stop-color="#5757fa"/><stop offset=".718" stop-color="#5252fa"/><stop offset=".769" stop-color="#5454fa"/><stop offset=".789" stop-color="#5858fa"/><stop offset=".809" stop-color="#6060fb"/><stop offset=".829" stop-color="#6969fb"/><stop offset=".849" stop-color="#7171fb"/><stop offset=".869" stop-color="#7575fb"/><stop offset=".889" stop-color="#7272fb"/><stop offset=".909" stop-color="#6868fb"/><stop offset=".929" stop-color="#5d5dfa"/><stop offset=".948" stop-color="#5656fa"/><stop offset=".968" stop-color="#5252fa"/><stop offset="1" stop-color="#5151fa"/></linearGradient>
<linearGradient id="er29"><stop offset="0" stop-color="#5151fa"/><stop offset=".051" stop-color="#5252fa"/><stop offset=".103" stop-color="#5555fa"/><stop offset=".154" stop-color="#5959fa"/><stop offset=".205" stop-color="#5b5bfa"/><stop offset=".256" stop-color="#5f5ffb"/><stop offset=".308" stop-color="#6767fb"/><stop offset=".359" stop-color="#7979fb"/><stop offset=".373" stop-color="#8383fc"/><stop offset=".387" stop-color="#8f8ffc"/><stop offset=".402" stop-color="#9d9dfc"/><stop offset=".416" stop-color="#aaaafd"/><stop offset=".43" stop-color="#b4b4fd"/><stop offset=".444" stop-color="#b8b8fd"/><stop offset=".459" stop-color="#b6b6fd"/><stop offset=".473" stop-color="#b1b1fd"/><stop offset=".487" stop-color="#aaaafd"/><stop offset=".501" stop-color="#a0a0fc"/><stop offset=".516" stop-color="#9696fc"/><stop offset=".53" stop-color="#8b8bfc"/><stop offset=".544" stop-color="#8080fb"/><stop offset=".558" stop-color="#7777fb"/><stop offset=".572" stop-color="#7070fb"/><stop offset=".587" stop-color="#6a6afb"/><stop offset=".601" stop-color="#6565fb"/><stop offset=".615" stop-color="#6161fb"/><stop offset=".666" stop-color="#5858fa"/><stop offset=".718" stop-color="#5252fa"/><stop offset=".769" stop-color="#5454fa"/><stop offset=".789" stop-color="#5959fa"/><stop offset=".809" stop-color="#6060fb"/><stop offset=".829" stop-color="#6969fb"/><stop offset=".849" stop-color="#7272fb"/><stop offset=".869" stop-color="#7676fb"/><stop offset=".889" stop-color="#7272fb"/><stop offset=".909" stop-color="#6868fb"/><stop offset=".929" stop-color="#5d5dfa"/><stop offset=".948" stop-color="#5656fa"/><stop offset=".968" stop-color="#5252fa"/><stop offset="1" stop-color="#5151fa"/></linearGradient>
<linearGradient id="er30"><stop offset="0" stop-color="#5151fa"/><stop offset=".051" stop-color="#5252fa"/><stop offset=".103" stop-color="#5555fa"/><stop offset=".154" stop-color="#5959fa"/><stop offset=".205" stop-color="#5b5bfa"/><stop offset=".256" stop-color="#5f5ffb"/><stop offset=".308" stop-color="#6767fb"/><stop offset=".359" stop-color="#7878fb"/><stop offset=".373" stop-color="#8383fc"/><stop offset=".387" stop-color="#9090fc"/><stop offset=".402" stop-color="#9f9ffc"/><stop offset=".416" stop-color="#adadfd"/><stop offset=".43" stop-color="#b8b8fd"/><stop offset=".444" stop-color="#bdbdfd"/><stop offset=".459" stop-color="#bcbcfd"/><stop offset=".473" stop-color="#b8b8fd"/><stop offset=".487" stop-color="#b0b0fd"/><stop offset=".501" stop-color="#a6a6fd"/><stop offset=".516" stop-color="#9b9bfc"/><stop offset=".53" stop-color="#9090fc"/><stop offset=".544" stop-color="#8585fc"/><stop offset=".558" stop-color="#7b7bfb"/><stop offset=".572" stop-color="#7373fb"/><stop offset=".587" stop-color="#6c6cfb"/><stop offset=".601" stop-color="#6767fb"/><stop offset=".615" stop-color="#6363fb"/><stop offset=".666" stop-color="#5858fa"/><stop offset=".718" stop-color="#5252fa"/><stop offset=".769" stop-color="#5454fa"/><stop offset=".789" stop-color="#5959fa"/><stop offset=".809" stop-color="#6161fb"/><stop offset=".829" stop-color="#6b6bfb"/><stop offset=".849" stop-color="#7474fb"/><stop offset=".869" stop-color="#7878fb"/><stop offset=".889" stop-color="#7474fb"/><stop offset=".909" stop-color="#6969fb"/><stop offset=".929" stop-color="#5e5efa"/><stop offset=".948" stop-color="#5656fa"/><stop offset=".968" stop-color="#5252fa"/><stop offset="1" stop-color="#5151fa"/></linearGradient>
<linearGradient id="er31"><stop offset="0" stop-color="#5151fa"/><stop offset=".051" stop-color="#5252fa"/><stop offset=".103" stop-color="#5555fa"/><stop offset=".154" stop-color="#5959fa"/><stop offset=".205" stop-color="#5b5bfa"/><stop offset=".256" stop-color="#5f5ffb"/><stop offset=".308" stop-color="#6767fb"/><stop offset=".359" stop-color="#7878fb"/><stop offset=".373" stop-color="#8383fc"/><stop offset=".387" stop-color="#9090fc"/><stop offset=".402" stop-color="#a0a0fc"/><stop offset=".416" stop-color="#b0b0fd"/><stop offset=".43" stop-color="#bcbcfd"/><stop offset=".444" stop-color="#c3c3fd"/><stop offset=".459" stop-color="#c2c2fd"/><stop offset=".473" stop-color="#bebefd"/><stop offset=".487" stop-color="#b6b6fd"/><stop offset=".501" stop-color="#adadfd"/><stop offset=".516" stop-color="#a1a1fc"/><stop offset=".53" stop-color="#9595fc"/><stop offset=".544" stop-color="#8989fc"/><stop offset=".558" stop-color="#7f7ffb"/><stop offset=".572" stop-color="#7676fb"/><stop offset=".587" stop-color="#6e6efb"/><stop offset=".601" stop-color="#6969fb"/><stop offset=".615" stop-color="#6464fb"/><stop offset=".666" stop-color="#5858fa"/><stop offset=".718" stop-color="#5252fa"/><stop offset=".769" stop-color="#5555fa"/><stop offset=".789" stop-color="#5a5afa"/><stop offset=".809" stop-color="#6262fb"/><stop offset=".829" stop-color="#6d6dfb"/><stop offset=".849" stop-color="#7676fb"/><stop offset=".869" stop-color="#7a7afb"/><stop offset=".889" stop-color="#7575fb"/><stop offset=".909" stop-color="#6a6afb"/><stop offset=".929" stop-color="#5e5efa"/><stop offset=".948" stop-color="#5656fa"/><stop offset=".968" stop-color="#5252fa"/><stop offset="1" stop-color="#5151fa"/></linearGradient>
<linearGradient id="er32"><stop offset="0" stop-color="#5151fa"/><stop offset=".051" stop-color="#5252fa"/><stop offset=".103" stop-color="#5555fa"/><stop offset=".154" stop-color="#5959fa"/><stop offset=".205" stop-color="#5b5bfa"/><stop offset=".256" stop-color="#5f5ffb"/><stop offset=".308" stop-color="#6767fb"/><stop offset=".359" stop-color="#7878fb"/><stop offset=".373" stop-color="#8383fc"/><stop offset=".387" stop-color="#9191fc"/><stop offset=".402" stop-color="#a1a1fc"/><stop offset=".416" stop-color="#b2b2fd"/><stop offset=".43" stop-color="#c0c0fd"/><stop offset=".444" stop-color="#c8c8fd"/><stop offset=".459" stop-color="#c8c8fd"/><stop offset=".473" stop-color="#c4c4fd"/><stop offset=".487" stop-color="#bcbcfd"/><stop offset=".501" stop-color="#b2b2fd"/><stop offset=".516" stop-color="#a5a5fc"/><stop offset=".53" stop-color="#9898fc"/><stop offset=".544" stop-color="#8b8bfc"/><stop offset=".558" stop-color="#8080fb"/><stop offset=".572" stop-color="#7676fb"/><stop offset=".587" stop-color="#6f6ffb"/><stop offset=".601" stop-color="#6969fb"/><stop offset=".615" stop-color="#6464fb"/><stop offset=".666" stop-color="#5858fa"/><stop offset=".718" stop-color="#5252fa"/><stop offset=".769" stop-color="#5555fa"/><stop offset=".789" stop-color="#5a5afa"/><stop offset=".809" stop-color="#6363fb"/><stop offset=".829" stop-color="#6e6efb"/><stop offset=".849" stop-color="#7878fb"/><stop offset=".869" stop-color="#7c7cfb"/><stop offset=".889" stop-color="#7777fb"/><stop offset=".909" stop-color="#6b6bfb"/><stop offset=".929" stop-color="#5f5ffa"/><stop offset=".948" stop-color="#5656fa"/><stop offset=".968" stop-color="#5252fa"/><stop offset="1" stop-color="#5151fa"/></linearGradient>
<linearGradient id="er33"><stop offset="0" stop-color="#5151fa"/><stop offset=".051" stop-color="#5252fa"/><stop offset=".103" stop-color="#5555fa"/><stop offset=".154" stop-color="#5959fa"/><stop offset=".205" stop-color="#5b5bfa"/><stop offset=".256" stop-color="#5f5ffb"/><stop offset=".308" stop-color="#6767fb"/><stop offset=".359" stop-color="#7878fb"/><stop offset=".373" stop-color="#8484fc"/><stop offset=".387" stop-color="#9393fc"/><stop offset=".402" stop-color="#a5a5fc"/><stop offset=".416" stop-color="#b7b7fd"/><stop offset=".43" stop-color="#c7c7fd"/><stop offset=".444" stop-color="#d1d1fe"/><stop offset=".459" stop-color="#d3d3fe"/><stop offset=".473" stop-color="#cecefe"/><stop offset=".487" stop-color="#c6c6fd"/><stop offset=".501" stop-color="#babafd"/><stop offset=".516" stop-color="#acacfd"/><stop offset=".53" stop-color="#9d9dfc"/><stop offset=".544" stop-color="#8f8ffc"/><stop offset=".558" stop-color="#8282fb"/><stop offset=".572" stop-color="#7878fb"/><stop offset=".587" stop-color="#6f6ffb"/><stop offset=".601" stop-color="#6969fb"/><stop offset=".615" stop-color="#6464fb"/><stop offset=".666" stop-color="#5858fa"/><stop offset=".718" stop-color="#5252fa"/><stop offset=".769" stop-color="#5555fa"/><stop offset=".789" stop-color="#5b5bfa"/><stop offset=".809" stop-color="#6464fb"/><stop offset=".829" stop-color="#7070fb"/><stop offset=".849" stop-color="#7a7afb"/><stop offset=".869" stop-color="#7d7dfb"/><stop offset=".889" stop-color="#7878fb"/><stop offset=".909" stop-color="#6c6cfb"/><stop offset=".929" stop-color="#5f5ffb"/><stop offset=".948" stop-color="#5757fa"/><stop offset=".968" stop-color="#5252fa"/><stop offset="1" stop-color="#5151fa"/></linearGradient>
<linearGradient id="er34"><stop offset="0" stop-color="#5151fa"/><stop offset=".051" stop-color="#5252fa"/><stop offset=".103" stop-color="#5555fa"/><stop offset=".154" stop-color="#5959fa"/><stop offset=".205" stop-color="#5b5bfa"/><stop offset=".256" stop-color="#5f5ffb"/><stop offset=".308" stop-color="#6767fb"/><stop offset=".359" stop-color="#7979fb"/><stop offset=".373" stop-color="#8686fc"/><stop offset=".387" stop-color="#9696fc"/><stop offset=".402" stop-color="#aaaafd"/><stop offset=".416" stop-color="#bfbffd"/><stop offset=".43" stop-color="#d1d1fe"/><stop offset=".444" stop-color="#ddddfe"/><stop offset=".459" stop-color="#e1e1fe"/><stop offset=".473" stop-color="#dcdcfe"/><stop offset=".487" stop-color="#d3d3fe"/><stop offset=".501" stop-color="#c6c6fd"/><stop offset=".516" stop-color="#b6b6fd"/><stop offset=".53" stop-color="#a5a5fc"/><stop offset=".544" stop-color="#9494fc"/><stop offset=".558" stop-color="#8686fc"/><stop offset=".572" stop-color="#7979fb"/><stop offset=".587" stop-color="#7070fb"/><stop offset=".601" stop-color="#6969fb"/><stop offset=".615" stop-color="#6363fb"/><stop offset=".666" stop-color="#5858fa"/><stop offset=".718" stop-color="#5252fa"/><stop offset=".769" stop-color="#5555fa"/><stop offset=".789" stop-color="#5c5cfa"/><stop offset=".809" stop-color="#6666fb"/><stop offset=".829" stop-color="#7373fb"/><stop offset=".849" stop-color="#7d7dfb"/><stop offset=".869" stop-color="#8181fb"/><stop offset=".889" stop-color="#7b7bfb"/><stop offset=".909" stop-color="#6e6efb"/><stop offset=".929" stop-color="#6060fb"/><stop offset=".948" stop-color="#5757fa"/><stop offset=".968" stop-color="#5353fa"/><stop offset="1" stop-color="#5151fa"/></linearGradient>
<linearGradient id="er35"><stop offset="0" stop-color="#5151fa"/><stop offset=".051" stop-color="#5252fa"/><stop offset=".103" stop-color="#5555fa"/><stop offset=".154" stop-color="#5959fa"/><stop offset=".205" stop-color="#5b5bfa"/><stop offset=".256" stop-color="#5f5ffb"/><stop offset=".308" stop-color="#6767fb"/><stop offset=".359" stop-color="#7979fb"/><stop offset=".373" stop-color="#8686fc"/><stop offset=".387" stop-color="#9898fc"/><stop offset=".402" stop-color="#adadfd"/><stop offset=".416" stop-color="#c4c4fd"/><stop offset=".43" stop-color="#dadafe"/><stop offset=".444" stop-color="#e9e9fe"/><stop offset=".459" stop-color="#eeeeff"/><stop offset=".473" stop-color="#ebebfe"/><stop offset=".487" stop-color="#e1e1fe"/><stop offset=".501" stop-color="#d2d2fe"/><stop offset=".516" stop-color="#c0c0fd"/><stop offset=".53" stop-color="#adadfd"/><stop offset=".544" stop-color="#9a9afc"/><stop offset=".558" stop-color="#8989fc"/><stop offset=".572" stop-color="#7b7bfb"/><stop offset=".587" stop-color="#7171fb"/><stop offset=".601" stop-color="#6969fb"/><stop offset=".615" stop-color="#6363fb"/><stop offset=".666" stop-color="#5858fa"/><stop offset=".718" stop-color="#5252fa"/><stop offset=".769" stop-color="#5656fa"/><stop offset=".789" stop-color="#5e5efa"/><stop offset=".809" stop-color="#6a6afb"/><stop offset=".829" stop-color="#7979fb"/><stop offset=".849" stop-color="#8484fc"/><stop offset=".869" stop-color="#8888fc"/><stop offset=".889" stop-color="#8080fb"/><stop offset=".909" stop-color="#7171fb"/><stop offset=".929" stop-color="#6262fb"/><stop offset=".948" stop-color="#5858fa"/><stop offset=".968" stop-color="#5353fa"/><stop offset="1" stop-color="#5151fa"/></linearGradient>
<linearGradient id="er36"><stop offset="0" stop-color="#5151fa"/><stop offset=".051" stop-color="#5252fa"/><stop offset=".103" stop-color="#5555fa"/><stop offset=".154" stop-color="#5959fa"/><stop offset=".205" stop-color="#5b5bfa"/><stop offset=".256" stop-color="#5f5ffb"/><stop offset=".308" stop-color="#6767fb"/><stop offset=".359" stop-color="#7979fb"/><stop offset=".373" stop-color="#8686fc"/><stop offset=".387" stop-color="#9898fc"/><stop offset=".402" stop-color="#afaffd"/><stop offset=".416" stop-color="#c8c8fd"/><stop offset=".43" stop-color="#e0e0fe"/><stop offset=".444" stop-color="#f2f2ff"/><stop offset=".459" stop-color="#fafaff"/><stop offset=".473" stop-color="#f8f8ff"/><stop offset=".487" stop-color="#eeeeff"/><stop offset=".501" stop-color="#dedefe"/><stop offset=".516" stop-color="#cacafe"/><stop offset=".53" stop-color="#b4b4fd"/><stop offset=".544" stop-color="#9f9ffc"/><stop offset=".558" stop-color="#8c8cfc"/><stop offset=".572" stop-color="#7d7dfb"/><stop offset=".587" stop-color="#7171fb"/><stop offset=".601" stop-color="#6969fb"/><stop offset=".615" stop-color="#6363fb"/><stop offset=".666" stop-color="#5858fa"/><stop offset=".718" stop-color="#5252fa"/><stop offset=".769" stop-color="#5757fa"/><stop offset=".789" stop-color="#6060fb"/><stop offset=".809" stop-color="#6e6efb"/><stop offset=".829" stop-color="#7e7efb"/><stop offset=".849" stop-color="#8b8bfc"/><stop offset=".869" stop-color="#8e8efc"/><stop offset=".889" stop-color="#8585fc"/><stop offset=".909" stop-color="#7474fb"/><stop offset=".929" stop-color="#6363fb"/><stop offset=".948" stop-color="#5858fa"/><stop offset=".968" stop-color="#5353fa"/><stop offset="1" stop-color="#5151fa"/></linearGradient>
<linearGradient id="er37"><stop offset="0" stop-color="#5151fa"/><stop offset=".051" stop-color="#5252fa"/><stop offset=".103" stop-color="#5555fa"/><stop offset=".154" stop-color="#5959fa"/><stop offset=".205" stop-color="#5b5bfa"/><stop offset=".256" stop-color="#5f5ffb"/><stop offset=".308" stop-color="#6666fb"/><stop offset=".359" stop-color="#7878fb"/><stop offset=".373" stop-color="#8585fc"/><stop offset=".387" stop-color="#9797fc"/><stop offset=".402" stop-color="#afaffd"/><stop offset=".416" stop-color="#cacafe"/><stop offset=".43" stop-color="#e5e5fe"/><stop offset=".444" stop-color="#fafaff"/><stop offset=".459" stop-color="#fff9f9"/><stop offset=".473" stop-color="#fff9f9"/><stop offset=".487" stop-color="#fbfbff"/><stop offset=".501" stop-color="#eaeafe"/><stop offset=".516" stop-color="#d4d4fe"/><stop offset=".53" stop-color="#bcbcfd"/><stop offset=".544" stop-color="#a4a4fc"/><stop offset=".558" stop-color="#8f8ffc"/><stop offset=".572" stop-color="#7e7efb"/><stop offset=".587" stop-color="#7272fb"/><stop offset=".601" stop-color="#6969fb"/><stop offset=".615" stop-color="#6363fb"/><stop offset=".666" stop-color="#5757fa"/><stop offset=".718" stop-color="#5252fa"/><stop offset=".769" stop-color="#5959fa"/><stop offset=".789" stop-color="#6363fb"/><stop offset=".809" stop-color="#7474fb"/><stop offset=".829" stop-color="#8787fc"/><stop offset=".849" stop-color="#9696fc"/><stop offset=".869" stop-color="#9999fc"/><stop offset=".889" stop-color="#8d8dfc"/><stop offset=".909" stop-color="#7979fb"/><stop offset=".929" stop-color="#6666fb"/><stop offset=".948" stop-color="#5959fa"/><stop offset=".968" stop-color="#5353fa"/><stop offset="1" stop-color="#5151fa"/></linearGradient>
<linearGradient id="er38"><stop offset="0" stop-color="#5151fa"/><stop offset=".051" stop-color="#5252fa"/><stop offset=".103" stop-color="#5555fa"/><stop offset=".154" stop-color="#5959fa"/><stop offset=".205" stop-color="#5b5bfa"/><stop offset=".256" stop-color="#5f5ffb"/><stop offset=".308" stop-color="#6666fb"/><stop offset=".359" stop-color="#7777fb"/><stop offset=".373" stop-color="#8484fc"/><stop offset=".387" stop-color="#9898fc"/><stop offset=".402" stop-color="#b1b1fd"/><stop offset=".416" stop-color="#cdcdfe"/><stop offset=".43" stop-color="#eaeafe"/><stop offset=".444" stop-color="#fffcfc"/><stop offset=".459" stop-color="#ffeeee"/><stop offset=".473" stop-color="#ffecec"/><stop offset=".487" stop-color="#fff6f6"/><stop offset=".501" stop-color="#f6f6ff"/><stop offset=".516" stop-color="#dedefe"/><stop offset=".53" stop-color="#c3c3fd"/><stop offset=".544" stop-color="#a9a9fd"/><stop offset=".558" stop-color="#9292fc"/><stop offset=".572" stop-color="#8080fb"/><stop offset=".587" stop-color="#7272fb"/><stop offset=".601" stop-color="#6969fb"/><stop offset=".615" stop-color="#6363fb"/><stop offset=".666" stop-color="#5757fa"/><stop offset=".718" stop-color="#5252fa"/><stop offset=".769" stop-color="#5a5afa"/><stop offset=".789" stop-color="#6666fb"/><stop offset=".809" stop-color="#7a7afb"/><stop offset=".829" stop-color="#9191fc"/><stop offset=".849" stop-color="#a2a2fc"/><stop offset=".869" stop-color="#a4a4fc"/><stop offset=".889" stop-color="#9696fc"/><stop offset=".909" stop-color="#7f7ffb"/><stop offset=".929" stop-color="#6868fb"/><stop offset=".948" stop-color="#5a5afa"/><stop offset=".968" stop-color="#5454fa"/><stop offset="1" stop-color="#5151fa"/></linearGradient>
<linearGradient id="er39"><stop offset="0" stop-color="#5151fa"/><stop offset=".051" stop-color="#5252fa"/><stop offset=".103" stop-color="#5555fa"/><stop offset=".154" stop-color="#5959fa"/><stop offset=".205" stop-color="#5b5bfa"/><stop offset=".256" stop-color="#5f5ffb"/><stop offset=".308" stop-color="#6666fb"/><stop offset=".359" stop-color="#7878fb"/><stop offset=".373" stop-color="#8686fc"/><stop offset=".387" stop-color="#9a9afc"/><stop offset=".402" stop-color="#b5b5fd"/><stop offset=".416" stop-color="#d4d4fe"/><stop offset=".43" stop-color="#f3f3ff"/><stop offset=".444" stop-color="#fff0f0"/><stop offset=".459" stop-color="#ffe0e0"/><stop offset=".473" stop-color="#ffdede"/><stop offset=".487" stop-color="#ffe8e8"/><stop offset=".501" stop-color="#fffcfc"/><stop offset=".516" stop-color="#e7e7fe"/><stop offset=".53" stop-color="#cacafd"/><stop offset=".544" stop-color="#adadfd"/><stop offset=".558" stop-color="#9494fc"/><stop offset=".572" stop-color="#8080fb"/><stop offset=".587" stop-color="#7272fb"/><stop offset=".601" stop-color="#6868fb"/><stop offset=".615" stop-color="#6262fb"/><stop offset=".666" stop-color="#5757fa"/><stop offset=".718" stop-color="#5252fa"/><stop offset=".769" stop-color="#5c5cfa"/><stop offset=".789" stop-color="#6a6afb"/><stop offset=".809" stop-color="#8282fb"/><stop offset=".829" stop-color="#9c9cfc"/><stop offset=".849" stop-color="#b0b0fd"/><stop offset=".869" stop-color="#b2b2fd"/><stop offset=".889" stop-color="#a1a1fc"/><stop offset=".909" stop-color="#8585fc"/><stop offset=".929" stop-color="#6c6cfb"/><stop offset=".948" stop-color="#5c5cfa"/><stop offset=".968" stop-color="#5454fa"/><stop offset="1" stop-color="#5151fa"/></linearGradient>
<linearGradient id="er40"><stop offset="0" stop-color="#5151fa"/><stop offset=".051" stop-color="#5252fa"/><stop offset=".103" stop-color="#5555fa"/><stop offset=".154" stop-color="#5959fa"/><stop offset=".205" stop-color="#5b5bfa"/><stop offset=".256" stop-color="#5f5ffb"/><stop offset=".308" stop-color="#6666fb"/><stop offset=".359" stop-color="#7979fb"/><stop offset=".373" stop-color="#8787fc"/><stop offset=".387" stop-color="#9d9dfc"/><stop offset=".402" stop-color="#b9b9fd"/><stop offset=".416" stop-color="#dadafe"/><stop offset=".43" stop-color="#fcfcff"/><stop offset=".444" stop-color="#ffe5e5"/><stop offset=".459" stop-color="#ffd3d3"/><stop offset=".473" stop-color="#ffcfcf"/><stop offset=".487" stop-color="#ffdada"/><stop offset=".501" stop-color="#fff0f0"/><stop offset=".516" stop-color="#f0f0ff"/><stop offset=".53" stop-color="#cfcffe"/><stop offset=".544" stop-color="#b0b0fd"/><stop offset=".558" stop-color="#9595fc"/><stop offset=".572" stop-color="#8080fb"/><stop offset=".587" stop-color="#7171fb"/><stop offset=".601" stop-color="#6767fb"/><stop offset=".615" stop-color="#6161fb"/><stop offset=".666" stop-color="#5757fa"/><stop offset=".718" stop-color="#5252fa"/><stop offset=".769" stop-color="#5d5dfa"/><stop offset=".789" stop-color="#6f6ffb"/><stop offset=".809" stop-color="#8a8afc"/><stop offset=".829" stop-color="#a8a8fd"/><stop offset=".849" stop-color="#bebefd"/><stop offset=".869" stop-color="#bfbffd"/><stop offset=".889" stop-color="#ababfd"/><stop offset=".909" stop-color="#8c8cfc"/><stop offset=".929" stop-color="#6f6ffb"/><stop offset=".948" stop-color="#5d5dfa"/><stop offset=".968" stop-color="#5555fa"/><stop offset="1" stop-color="#5151fa"/></linearGradient>
<linearGradient id="er41"><stop offset="0" stop-color="#5151fa"/><stop offset=".051" stop-color="#5252fa"/><stop offset=".103" stop-color="#5555fa"/><stop offset=".154" stop-color="#5959fa"/><stop offset=".205" stop-color="#5b5bfa"/><stop offset=".256" stop-color="#5f5ffb"/><stop offset=".308" stop-color="#6666fb"/><stop offset=".359" stop-color="#7979fb"/><stop offset=".373" stop-color="#8888fc"/><stop offset=".387" stop-color="#9e9efc"/><stop offset=".402" stop-color="#bbbbfd"/><stop offset=".416" stop-color="#ddddfe"/><stop offset=".43" stop-color="#fffdfd"/><stop offset=".444" stop-color="#ffdede"/><stop offset=".459" stop-color="#ffcaca"/><stop offset=".473" stop-color="#ffc5c5"/><stop offset=".487" stop-color="#ffd0d0"/><stop offset=".501" stop-color="#ffe8e8"/><stop offset=".516" stop-color="#f6f6ff"/><stop offset=".53" stop-color="#d2d2fe"/><stop offset=".544" stop-color="#b0b0fd"/><stop offset=".558" stop-color="#9494fc"/><stop offset=".572" stop-color="#7e7efb"/><stop offset=".587" stop-color="#6f6ffb"/><stop offset=".601" stop-color="#6666fb"/><stop offset=".615" stop-color="#6060fb"/><stop offset=".666" stop-color="#5757fa"/><stop offset=".718" stop-color="#5353fa"/><stop offset=".769" stop-color="#5f5ffb"/><stop offset=".789" stop-color="#7373fb"/><stop offset=".809" stop-color="#9292fc"/><stop offset=".829" stop-color="#b5b5fd"/><stop offset=".849" stop-color="#cdcdfe"/><stop offset=".869" stop-color="#cecefe"/><stop offset=".889" stop-color="#b7b7fd"/><stop offset=".909" stop-color="#9393fc"/><stop offset=".929" stop-color="#7373fb"/><stop offset=".948" stop-color="#5e5efa"/><stop offset=".968" stop-color="#5555fa"/><stop offset="1" stop-color="#5151fa"/></linearGradient>
<linearGradient id="er42"><stop offset="0" stop-color="#5151fa"/><stop offset=".051" stop-color="#5252fa"/><stop offset=".103" stop-color="#5555fa"/><stop offset=".154" stop-color="#5959fa"/><stop offset=".205" stop-color="#5b5bfa"/><stop offset=".256" stop-color="#5f5ffb"/><stop offset=".308" stop-color="#6666fb"/><stop offset=".359" stop-color="#7979fb"/><stop offset=".373" stop-color="#8888fc"/><stop offset=".387" stop-color="#9e9efc"/><stop offset=".402" stop-color="#bcbcfd"/><stop offset=".416" stop-color="#e0e0fe"/><stop offset=".43" stop-color="#fff9f9"/><stop offset=".444" stop-color="#ffd8d8"/><stop offset=".459" stop-color="#ffc2c2"/><stop offset=".473" stop-color="#ffbcbc"/><stop offset=".487" stop-color="#ffc6c6"/><stop offset=".501" stop-color="#ffe0e0"/><stop offset=".516" stop-color="#fbfbff"/><stop offset=".53" stop-color="#d4d4fe"/><stop offset=".544" stop-color="#b0b0fd"/><stop offset=".558" stop-color="#9292fc"/><stop offset=".572" stop-color="#7c7cfb"/><stop offset=".587" stop-color="#6d6dfb"/><stop offset=".601" stop-color="#6464fb"/><stop offset=".615" stop-color="#5f5ffb"/><stop offset=".666" stop-color="#5757fa"/><stop offset=".718" stop-color="#5353fa"/><stop offset=".769" stop-color="#6161fb"/><stop offset=".789" stop-color="#7878fb"/><stop offset=".809" stop-color="#9b9bfc"/><stop offset=".829" stop-color="#c2c2fd"/><stop offset=".849" stop-color="#ddddfe"/><stop offset=".869" stop-color="#dedefe"/><stop offset=".889" stop-color="#c3c3fd"/><stop offset=".909" stop-color="#9a9afc"/><stop offset=".929" stop-color="#7676fb"/><stop offset=".948" stop-color="#6060fb"/><stop offset=".968" stop-color="#5555fa"/><stop offset="1" stop-color="#5151fa"/></linearGradient>
<linearGradient id="er43"><stop offset="0" stop-color="#5151fa"/><stop offset=".051" stop-color="#5252fa"/><stop offset=".103" stop-color="#5555fa"/><stop offset=".154" stop-color="#5959fa"/><stop offset=".205" stop-color="#5b5bfa"/><stop offset=".256" stop-color="#5f5ffb"/><stop offset=".308" stop-color="#6666fb"/><stop offset=".359" stop-color="#7979fb"/><stop offset=".373" stop-color="#8888fc"/><stop offset=".387" stop-color="#9f9ffc"/><stop offset=".402" stop-color="#bdbdfd"/><stop offset=".416" stop-color="#e1e1fe"/><stop offset=".43" stop-color="#fff8f8"/><stop offset=".444" stop-color="#ffd7d7"/><stop offset=".459" stop-color="#ffc0c0"/><stop offset=".473" stop-color="#ffbaba"/><stop offset=".487" stop-color="#ffc5c5"/><stop offset=".501" stop-color="#ffdede"/><stop offset=".516" stop-color="#fcfcff"/><stop offset=".53" stop-color="#d5d5fe"/><stop offset=".544" stop-color="#b0b0fd"/><stop offset=".558" stop-color="#9292fc"/><stop offset=".572" stop-color="#7c7cfb"/><stop offset=".587" stop-color="#6d6dfb"/><stop offset=".601" stop-color="#6464fb"/><stop offset=".615" stop-color="#5f5ffb"/><stop offset=".666" stop-color="#5757fa"/><stop offset=".718" stop-color="#5353fa"/><stop offset=".769" stop-color="#6262fb"/><stop offset=".789" stop-color="#7878fb"/><stop offset=".809" stop-color="#9c9cfc"/><stop offset=".829" stop-color="#c4c4fd"/><stop offset=".849" stop-color="#e0e0fe"/><stop offset=".869" stop-color="#e0e0fe"/><stop offset=".889" stop-color="#c5c5fd"/><stop offset=".909" stop-color="#9c9cfc"/><stop offset=".929" stop-color="#7777fb"/><stop offset=".948" stop-color="#6060fb"/><stop offset=".968" stop-color="#5656fa"/><stop offset="1" stop-color="#5151fa"/></linearGradient>
<linearGradient id="er44"><stop offset="0" stop-color="#5151fa"/><stop offset=".051" stop-color="#5252fa"/><stop offset=".103" stop-color="#5555fa"/><stop offset=".154" stop-color="#5959fa"/><stop offset=".205" stop-color="#5b5bfa"/><stop offset=".256" stop-color="#5f5ffb"/><stop offset=".308" stop-color="#6666fb"/><stop offset=".359" stop-color="#7979fb"/><stop offset=".373" stop-color="#8888fc"/><stop offset=".387" stop-color="#9f9ffc"/><stop offset=".402" stop-color="#bdbdfd"/><stop offset=".416" stop-color="#e1e1fe"/><stop offset=".43" stop-color="#fff8f8"/><stop offset=".444" stop-color="#ffd7d7"/><stop offset=".459" stop-color="#ffc0c0"/><stop offset=".473" stop-color="#ffbaba"/><stop offset=".487" stop-color="#ffc5c5"/><stop offset=".501" stop-color="#ffdede"/><stop offset=".516" stop-color="#fcfcff"/><stop offset=".53" stop-color="#d5d5fe"/><stop offset=".544" stop-color="#b0b0fd"/><stop offset=".558" stop-color="#9292fc"/><stop offset=".572" stop-color="#7c7cfb"/><stop offset=".587" stop-color="#6d6dfb"/><stop offset=".601" stop-color="#6464fb"/><stop offset=".615" stop-color="#5f5ffb"/><stop offset=".666" stop-color="#5757fa"/><stop offset=".718" stop-color="#5353fa"/><stop offset=".769" stop-color="#6262fb"/><stop offset=".789" stop-color="#7878fb"/><stop offset=".809" stop-color="#9c9cfc"/><stop offset=".829" stop-color="#c4c4fd"/><stop offset=".849" stop-color="#e0e0fe"/><stop offset=".869" stop-color="#e0e0fe"/><stop offset=".889" stop-color="#c5c5fd"/><stop offset=".909" stop-color="#9c9cfc"/><stop offset=".929" stop-color="#7777fb"/><stop offset=".948" stop-color="#6060fb"/><stop offset=".968" stop-color="#5656fa"/><stop offset="1" stop-color="#5151fa"/></linearGradient>
</defs>
<rect width="1998" height="874" fill="#fff"/>
<g id="panel-a">
<text x="-1" y="23.5" font-size="32">a</text>
<text x="125.7" y="24" font-size="16">Charge</text>
<text x="339.4" y="24.8" font-size="16">Charge</text>
<polygon points="183,350 500,331 512,350 512,375 183,382" fill="url(#aSh)"/>
<path d="M68.6 146C67.4 120 64.6 95 64.9 66C65.1 52.5 71 46.6 84 46.6L438 48.3C454 48.3 461.4 54 461.4 68L459.4 139" fill="none" stroke="#8a9198" stroke-width="6.6" stroke-linejoin="round"/>
<path d="M66.3 146C65.2 120 62.3 95 62.6 66C62.8 50.5 70 44.3 84 44.3L438 46C455.5 46 463.5 52.5 463.5 68" fill="none" stroke="#d3d6d9" stroke-width="1.8"/>
<path d="M70.4 146C69.3 120 66.6 95 66.9 67C67.1 54.5 72.5 49 84 49L438 50.7C452 50.7 459.2 55.5 459.2 68L457.3 139" fill="none" stroke="#5a6168" stroke-width="1.5"/>
<path d="M61.7 72C61.6 96 63 124 63.6 146L73.3 146C72.4 124 68.6 96 68.2 72Z" fill="url(#aWv2)"/>
<polygon points="37.9,157.6 84.8,136.5 94,136.5 94,170 76,345.3 68.4,362 54.8,362.6" fill="url(#aAl)"/>
<polygon points="37.9,157.6 84.8,136.5 94,136.5 41,160" fill="#a9b1bd"/>
<polygon points="68.4,362 75.8,345.3 70.3,345.3" fill="#6c7686"/>
<polygon points="60.5,166.5 104,146 181,145 181,335 165,340 72,345" fill="#1b7c97"/><polygon points="62.5,166.5 105,146.3 181,145.2 181,163 157.9,164.7" fill="#2fb2d2"/><polygon points="62.5,166.5 181,164.25 181,161.87 67.81,163.97" fill="#3cc1e0"/><polygon points="62.5,166.5 77.31,166.22 67.81,163.97" fill="#34b9da"/><polygon points="77.31,166.22 106.94,165.66 96.11,163.45" fill="#34b9da"/><polygon points="106.94,165.66 136.56,165.09 124.41,162.92" fill="#34b9da"/><polygon points="136.56,165.09 166.19,164.53 152.7,162.4" fill="#34b9da"/><polygon points="166.19,164.53 181,164.25 181,161.87" fill="#34b9da"/><polygon points="67.81,163.97 181,161.87 181,159.49 73.12,161.45" fill="#2a9fc0"/><polygon points="67.81,163.97 96.11,163.45 86.61,161.2" fill="#3fc4e3"/><polygon points="96.11,163.45 124.41,162.92 113.58,160.71" fill="#3fc4e3"/><polygon points="124.41,162.92 152.7,162.4 140.55,160.22" fill="#3fc4e3"/><polygon points="152.7,162.4 181,161.87 167.52,159.73" fill="#3fc4e3"/><polygon points="181,161.87 181,161.87 181,159.49" fill="#3fc4e3"/><polygon points="73.12,161.45 181,159.49 181,157.11 78.44,158.93" fill="#3cc1e0"/><polygon points="73.12,161.45 86.61,161.2 78.44,158.93" fill="#34b9da"/><polygon points="86.61,161.2 113.58,160.71 104.08,158.47" fill="#34b9da"/><polygon points="113.58,160.71 140.55,160.22 129.72,158.02" fill="#34b9da"/><polygon points="140.55,160.22 167.52,159.73 155.36,157.56" fill="#34b9da"/><polygon points="167.52,159.73 181,159.49 181,157.11" fill="#34b9da"/><polygon points="78.44,158.93 181,157.11 181,154.72 83.75,156.4" fill="#2a9fc0"/><polygon points="78.44,158.93 104.08,158.47 95.91,156.19" fill="#3fc4e3"/><polygon points="104.08,158.47 129.72,158.02 120.22,155.77" fill="#3fc4e3"/><polygon points="129.72,158.02 155.36,157.56 144.53,155.35" fill="#3fc4e3"/><polygon points="155.36,157.56 181,157.11 168.84,154.93" fill="#3fc4e3"/><polygon points="181,157.11 181,157.11 181,154.72" fill="#3fc4e3"/><polygon points="83.75,156.4 181,154.72 181,152.34 89.06,153.88" fill="#3cc1e0"/><polygon points="83.75,156.4 95.91,156.19 89.06,153.88" fill="#34b9da"/><polygon points="95.91,156.19 120.22,155.77 112.05,153.49" fill="#34b9da"/><polygon points="120.22,155.77 144.53,155.35 135.03,153.11" fill="#34b9da"/><polygon points="144.53,155.35 168.84,154.93 158.02,152.73" fill="#34b9da"/><polygon points="168.84,154.93 181,154.72 181,152.34" fill="#34b9da"/><polygon points="89.06,153.88 181,152.34 181,149.96 94.38,151.35" fill="#2a9fc0"/><polygon points="89.06,153.88 112.05,153.49 105.2,151.18" fill="#3fc4e3"/><polygon points="112.05,153.49 135.03,153.11 126.86,150.83" fill="#3fc4e3"/><polygon points="135.03,153.11 158.02,152.73 148.52,150.48" fill="#3fc4e3"/><polygon points="158.02,152.73 181,152.34 170.17,150.14" fill="#3fc4e3"/><polygon points="181,152.34 181,152.34 181,149.96" fill="#3fc4e3"/><polygon points="94.38,151.35 181,149.96 181,147.58 99.69,148.83" fill="#3cc1e0"/><polygon points="94.38,151.35 105.2,151.18 99.69,148.83" fill="#34b9da"/><polygon points="105.2,151.18 126.86,150.83 120.02,148.51" fill="#34b9da"/><polygon points="126.86,150.83 148.52,150.48 140.34,148.2" fill="#34b9da"/><polygon points="148.52,150.48 170.17,150.14 160.67,147.89" fill="#34b9da"/><polygon points="170.17,150.14 181,149.96 181,147.58" fill="#34b9da"/><polygon points="99.69,148.83 181,147.58 181,145.2 105,146.3" fill="#2a9fc0"/><polygon points="99.69,148.83 120.02,148.51 114.5,146.16" fill="#3fc4e3"/><polygon points="120.02,148.51 140.34,148.2 133.5,145.89" fill="#3fc4e3"/><polygon points="140.34,148.2 160.67,147.89 152.5,145.61" fill="#3fc4e3"/><polygon points="160.67,147.89 181,147.58 171.5,145.34" fill="#3fc4e3"/><polygon points="181,147.58 181,147.58 181,145.2" fill="#3fc4e3"/><polygon points="158,164.7 181,160 181,334 165,339" fill="#2392b0"/><polygon points="157.9,164.7 181,159.7 181,186.1 157.9,192.1" fill="#2a9fbe"/><polygon points="157.9,164.7 181,159.7 175,172.4" fill="#31b1d0"/><polygon points="62.5,166.5 94.3,165.9 93.1,194.37 60.7,195.5" fill="#31b3d3"/><polygon points="60.7,195.5 73.31,171.1 93.1,194.37" fill="#3ea7b9"/><polygon points="62.5,166.5 73.31,171.1 60.7,195.5" fill="#2cb4d7"/><polygon points="73.31,171.1 94.3,165.9 93.1,194.37" fill="#37b9d8"/><polygon points="62.5,166.5 94.3,165.9 73.31,171.1" fill="#41c2e0"/><polygon points="94.3,165.9 126.1,165.3 125.5,193.23 93.1,194.37" fill="#31b3d3"/><polygon points="93.1,194.37 105.11,170.5 125.5,193.23" fill="#3ea7b9"/><polygon points="94.3,165.9 105.11,170.5 93.1,194.37" fill="#2cb4d7"/><polygon points="105.11,170.5 126.1,165.3 125.5,193.23" fill="#37b9d8"/><polygon points="94.3,165.9 126.1,165.3 105.11,170.5" fill="#41c2e0"/><polygon points="126.1,165.3 157.9,164.7 157.9,192.1 125.5,193.23" fill="#31b3d3"/><polygon points="125.5,193.23 136.91,169.9 157.9,192.1" fill="#3ea7b9"/><polygon points="126.1,165.3 136.91,169.9 125.5,193.23" fill="#2cb4d7"/><polygon points="136.91,169.9 157.9,164.7 157.9,192.1" fill="#37b9d8"/><polygon points="126.1,165.3 157.9,164.7 136.91,169.9" fill="#41c2e0"/><polygon points="68.7,197.5 157.9,194.5 158.9,218 72.2,220" fill="#1a7893"/><polygon points="87.7,196.5 109.7,195.5 101.7,219 81.7,220" fill="#20869f"/><polygon points="126.6,196.5 148.6,195.5 140.6,219 120.6,220" fill="#20869f"/><polygon points="165.5,196.5 187.5,195.5 179.5,219 159.5,220" fill="#20869f"/><polygon points="160.9,214.1 181,209.1 181,236.5 160.8,242.5" fill="#2a9fbe"/><polygon points="160.9,214.1 181,209.1 175,222.3" fill="#31b1d0"/><polygon points="66.2,217 97.77,216.03 96.53,245.17 64.4,246.5" fill="#31b3d3"/><polygon points="64.4,246.5 76.93,221.6 96.53,245.17" fill="#3ea7b9"/><polygon points="66.2,217 76.93,221.6 64.4,246.5" fill="#2cb4d7"/><polygon points="76.93,221.6 97.77,216.03 96.53,245.17" fill="#37b9d8"/><polygon points="66.2,217 97.77,216.03 76.93,221.6" fill="#41c2e0"/><polygon points="97.77,216.03 129.33,215.07 128.67,243.83 96.53,245.17" fill="#31b3d3"/><polygon points="96.53,245.17 108.5,220.63 128.67,243.83" fill="#3ea7b9"/><polygon points="97.77,216.03 108.5,220.63 96.53,245.17" fill="#2cb4d7"/><polygon points="108.5,220.63 129.33,215.07 128.67,243.83" fill="#37b9d8"/><polygon points="97.77,216.03 129.33,215.07 108.5,220.63" fill="#41c2e0"/><polygon points="129.33,215.07 160.9,214.1 160.8,242.5 128.67,243.83" fill="#31b3d3"/><polygon points="128.67,243.83 140.07,219.67 160.8,242.5" fill="#3ea7b9"/><polygon points="129.33,215.07 140.07,219.67 128.67,243.83" fill="#2cb4d7"/><polygon points="140.07,219.67 160.9,214.1 160.8,242.5" fill="#37b9d8"/><polygon points="129.33,215.07 160.9,214.1 140.07,219.67" fill="#41c2e0"/><polygon points="72.4,248.5 160.8,245.5 161.8,267.5 76,269.5" fill="#1a7893"/><polygon points="92.6,247.5 114.6,246.5 106.6,268.5 86.6,269.5" fill="#20869f"/><polygon points="131.5,247.5 153.5,246.5 145.5,268.5 125.5,269.5" fill="#20869f"/><polygon points="170.4,247.5 192.4,246.5 184.4,268.5 164.4,269.5" fill="#20869f"/><polygon points="162.9,262.8 181,257.8 181,285.2 162.9,291.2" fill="#2a9fbe"/><polygon points="162.9,262.8 181,257.8 175,271" fill="#31b1d0"/><polygon points="70,266.5 100.97,265.27 99.7,294.4 68.1,296" fill="#31b3d3"/><polygon points="68.1,296 80.53,271.1 99.7,294.4" fill="#3ea7b9"/><polygon points="70,266.5 80.53,271.1 68.1,296" fill="#2cb4d7"/><polygon points="80.53,271.1 100.97,265.27 99.7,294.4" fill="#37b9d8"/><polygon points="70,266.5 100.97,265.27 80.53,271.1" fill="#41c2e0"/><polygon points="100.97,265.27 131.93,264.03 131.3,292.8 99.7,294.4" fill="#31b3d3"/><polygon points="99.7,294.4 111.5,269.87 131.3,292.8" fill="#3ea7b9"/><polygon points="100.97,265.27 111.5,269.87 99.7,294.4" fill="#2cb4d7"/><polygon points="111.5,269.87 131.93,264.03 131.3,292.8" fill="#37b9d8"/><polygon points="100.97,265.27 131.93,264.03 111.5,269.87" fill="#41c2e0"/><polygon points="131.93,264.03 162.9,262.8 162.9,291.2 131.3,292.8" fill="#31b3d3"/><polygon points="131.3,292.8 142.46,268.63 162.9,291.2" fill="#3ea7b9"/><polygon points="131.93,264.03 142.46,268.63 131.3,292.8" fill="#2cb4d7"/><polygon points="142.46,268.63 162.9,262.8 162.9,291.2" fill="#37b9d8"/><polygon points="131.93,264.03 162.9,262.8 142.46,268.63" fill="#41c2e0"/><polygon points="76.1,298 162.9,295 163.9,314.6 79.6,316.6" fill="#1a7893"/><polygon points="97.5,297 119.5,296 111.5,315.6 91.5,316.6" fill="#20869f"/><polygon points="136.4,297 158.4,296 150.4,315.6 130.4,316.6" fill="#20869f"/><polygon points="175.3,297 197.3,296 189.3,315.6 169.3,316.6" fill="#20869f"/><polygon points="164.8,309 181,304 181,332.9 164.8,338.9" fill="#2a9fbe"/><polygon points="164.8,309 181,304 175,317.95" fill="#31b1d0"/><polygon points="73.6,313.6 104,312.07 102.67,342.63 71.6,344.5" fill="#31b3d3"/><polygon points="71.6,344.5 83.94,318.2 102.67,342.63" fill="#3ea7b9"/><polygon points="73.6,313.6 83.94,318.2 71.6,344.5" fill="#2cb4d7"/><polygon points="83.94,318.2 104,312.07 102.67,342.63" fill="#37b9d8"/><polygon points="73.6,313.6 104,312.07 83.94,318.2" fill="#41c2e0"/><polygon points="104,312.07 134.4,310.53 133.73,340.77 102.67,342.63" fill="#31b3d3"/><polygon points="102.67,342.63 114.34,316.67 133.73,340.77" fill="#3ea7b9"/><polygon points="104,312.07 114.34,316.67 102.67,342.63" fill="#2cb4d7"/><polygon points="114.34,316.67 134.4,310.53 133.73,340.77" fill="#37b9d8"/><polygon points="104,312.07 134.4,310.53 114.34,316.67" fill="#41c2e0"/><polygon points="134.4,310.53 164.8,309 164.8,338.9 133.73,340.77" fill="#31b3d3"/><polygon points="133.73,340.77 144.74,315.13 164.8,338.9" fill="#3ea7b9"/><polygon points="134.4,310.53 144.74,315.13 133.73,340.77" fill="#2cb4d7"/><polygon points="144.74,315.13 164.8,309 164.8,338.9" fill="#37b9d8"/><polygon points="134.4,310.53 164.8,309 144.74,315.13" fill="#41c2e0"/><circle cx="98.7" cy="206.5" r="1.8" fill="url(#aRd)"/><circle cx="87.7" cy="213.5" r="1.8" fill="url(#aRd)"/><circle cx="137.6" cy="205.3" r="1.8" fill="url(#aRd)"/><circle cx="126.6" cy="212.3" r="1.8" fill="url(#aRd)"/><circle cx="176.5" cy="204.1" r="1.8" fill="url(#aRd)"/><circle cx="165.5" cy="211.1" r="1.8" fill="url(#aRd)"/><circle cx="103.6" cy="257.5" r="1.8" fill="url(#aRd)"/><circle cx="92.6" cy="264.5" r="1.8" fill="url(#aRd)"/><circle cx="142.5" cy="256.3" r="1.8" fill="url(#aRd)"/><circle cx="131.5" cy="263.3" r="1.8" fill="url(#aRd)"/><circle cx="181.4" cy="255.1" r="1.8" fill="url(#aRd)"/><circle cx="170.4" cy="262.1" r="1.8" fill="url(#aRd)"/><circle cx="108.5" cy="307" r="1.8" fill="url(#aRd)"/><circle cx="97.5" cy="314" r="1.8" fill="url(#aRd)"/><circle cx="147.4" cy="305.8" r="1.8" fill="url(#aRd)"/><circle cx="136.4" cy="312.8" r="1.8" fill="url(#aRd)"/><circle cx="186.3" cy="304.6" r="1.8" fill="url(#aRd)"/><circle cx="175.3" cy="311.6" r="1.8" fill="url(#aRd)"/><circle cx="79.5" cy="204.5" r="8.6" fill="url(#aOr)"/><circle cx="118.4" cy="203.3" r="8.6" fill="url(#aOr)"/><circle cx="157.3" cy="202.1" r="8.6" fill="url(#aOr)"/><circle cx="82.8" cy="253.2" r="8.6" fill="url(#aOr)"/><circle cx="121.1" cy="251.9" r="8.6" fill="url(#aOr)"/><circle cx="159.4" cy="250.6" r="8.6" fill="url(#aOr)"/><circle cx="86" cy="301.3" r="8.6" fill="url(#aOr)"/><circle cx="123.8" cy="299.3" r="8.6" fill="url(#aOr)"/><circle cx="161.6" cy="297.3" r="8.6" fill="url(#aOr)"/><circle cx="82.94" cy="162.94" r="2.46" fill="url(#aRd)"/><circle cx="114.03" cy="161.91" r="2.44" fill="url(#aRd)"/><circle cx="144.5" cy="161.09" r="2.42" fill="url(#aRd)"/><circle cx="174.56" cy="160.68" r="2.41" fill="url(#aRd)"/><circle cx="73.16" cy="159.85" r="2.4" fill="url(#aRd)"/><circle cx="102.5" cy="159.03" r="2.38" fill="url(#aRd)"/><circle cx="131.84" cy="158.31" r="2.37" fill="url(#aRd)"/><circle cx="161.69" cy="157.79" r="2.36" fill="url(#aRd)"/><circle cx="91.69" cy="156.25" r="2.33" fill="url(#aRd)"/><circle cx="120.52" cy="155.74" r="2.31" fill="url(#aRd)"/><circle cx="148.31" cy="155.22" r="2.3" fill="url(#aRd)"/><circle cx="176.11" cy="154.71" r="2.29" fill="url(#aRd)"/><circle cx="82.12" cy="153.88" r="2.28" fill="url(#aRd)"/><circle cx="109.5" cy="153.47" r="2.27" fill="url(#aRd)"/><circle cx="136.47" cy="152.85" r="2.26" fill="url(#aRd)"/><circle cx="164.27" cy="152.44" r="2.25" fill="url(#aRd)"/><circle cx="99.21" cy="151.41" r="2.23" fill="url(#aRd)"/><circle cx="125.66" cy="150.59" r="2.21" fill="url(#aRd)"/><circle cx="151.71" cy="150.28" r="2.21" fill="url(#aRd)"/><circle cx="177.14" cy="149.56" r="2.19" fill="url(#aRd)"/><circle cx="89.94" cy="149.04" r="2.18" fill="url(#aRd)"/><circle cx="115.37" cy="148.74" r="2.17" fill="url(#aRd)"/><circle cx="140.59" cy="148.32" r="2.17" fill="url(#aRd)"/><circle cx="166.33" cy="148.02" r="2.16" fill="url(#aRd)"/><circle cx="105.59" cy="146.47" r="2.13" fill="url(#aRd)"/><circle cx="131.33" cy="145.96" r="2.12" fill="url(#aRd)"/><circle cx="154.49" cy="145.65" r="2.11" fill="url(#aRd)"/><circle cx="178.17" cy="145.24" r="2.1" fill="url(#aRd)"/><circle cx="73.31" cy="171.1" r="2.55" fill="url(#aRd)"/><circle cx="60.7" cy="195.5" r="2.55" fill="url(#aRd)"/><circle cx="62.5" cy="166.5" r="2.55" fill="url(#aRd)"/><circle cx="105.11" cy="170.5" r="2.55" fill="url(#aRd)"/><circle cx="93.1" cy="194.37" r="2.55" fill="url(#aRd)"/><circle cx="94.3" cy="165.9" r="2.55" fill="url(#aRd)"/><circle cx="136.91" cy="169.9" r="2.55" fill="url(#aRd)"/><circle cx="125.5" cy="193.23" r="2.55" fill="url(#aRd)"/><circle cx="126.1" cy="165.3" r="2.55" fill="url(#aRd)"/><circle cx="157.9" cy="192.1" r="2.55" fill="url(#aRd)"/><circle cx="157.9" cy="164.7" r="2.55" fill="url(#aRd)"/><circle cx="76.93" cy="221.6" r="2.55" fill="url(#aRd)"/><circle cx="64.4" cy="246.5" r="2.55" fill="url(#aRd)"/><circle cx="66.2" cy="217" r="2.55" fill="url(#aRd)"/><circle cx="108.5" cy="220.63" r="2.55" fill="url(#aRd)"/><circle cx="96.53" cy="245.17" r="2.55" fill="url(#aRd)"/><circle cx="97.77" cy="216.03" r="2.55" fill="url(#aRd)"/><circle cx="140.07" cy="219.67" r="2.55" fill="url(#aRd)"/><circle cx="128.67" cy="243.83" r="2.55" fill="url(#aRd)"/><circle cx="129.33" cy="215.07" r="2.55" fill="url(#aRd)"/><circle cx="160.8" cy="242.5" r="2.55" fill="url(#aRd)"/><circle cx="160.9" cy="214.1" r="2.55" fill="url(#aRd)"/><circle cx="80.53" cy="271.1" r="2.55" fill="url(#aRd)"/><circle cx="68.1" cy="296" r="2.55" fill="url(#aRd)"/><circle cx="70" cy="266.5" r="2.55" fill="url(#aRd)"/><circle cx="111.5" cy="269.87" r="2.55" fill="url(#aRd)"/><circle cx="99.7" cy="294.4" r="2.55" fill="url(#aRd)"/><circle cx="100.97" cy="265.27" r="2.55" fill="url(#aRd)"/><circle cx="142.46" cy="268.63" r="2.55" fill="url(#aRd)"/><circle cx="131.3" cy="292.8" r="2.55" fill="url(#aRd)"/><circle cx="131.93" cy="264.03" r="2.55" fill="url(#aRd)"/><circle cx="162.9" cy="291.2" r="2.55" fill="url(#aRd)"/><circle cx="162.9" cy="262.8" r="2.55" fill="url(#aRd)"/><circle cx="83.94" cy="318.2" r="2.55" fill="url(#aRd)"/><circle cx="71.6" cy="344.5" r="2.55" fill="url(#aRd)"/><circle cx="73.6" cy="313.6" r="2.55" fill="url(#aRd)"/><circle cx="114.34" cy="316.67" r="2.55" fill="url(#aRd)"/><circle cx="102.67" cy="342.63" r="2.55" fill="url(#aRd)"/><circle cx="104" cy="312.07" r="2.55" fill="url(#aRd)"/><circle cx="144.74" cy="315.13" r="2.55" fill="url(#aRd)"/><circle cx="133.73" cy="340.77" r="2.55" fill="url(#aRd)"/><circle cx="134.4" cy="310.53" r="2.55" fill="url(#aRd)"/><circle cx="164.8" cy="338.9" r="2.55" fill="url(#aRd)"/><circle cx="164.8" cy="309" r="2.55" fill="url(#aRd)"/>
<polygon points="182.4,134.7 419.2,132.4 419.2,151.8 187.3,154.5" fill="#bde5f8"/>
<polygon points="187.3,154.5 419.2,151.8 412.8,269.6 488.9,333.7 488.9,336 340,345 185.7,354.5" fill="url(#aBox)"/>
<polygon points="182.4,134.7 187.4,154.5 185.9,354.5 183.2,354.5 176.8,154.5" fill="#d9dcb0"/>
<polygon points="182.4,134.7 183.6,154.5 184.9,354.5 183.2,354.5 176.8,154.5" fill="#b7a94f"/>
<path d="M182.4 134.7L176.9 154.5L183.3 354.5" fill="none" stroke="#8fd424" stroke-width="1"/>
<path d="M182.9 136L178.4 154.5L184.2 354.5" fill="none" stroke="#f0a428" stroke-width="0.7"/>
<g transform="translate(265.5 167.4) rotate(8) scale(1.3)"><path d="M-4.6 1.2L-2.2 -3.6L2.6 -3.2L3.6 1.6L-0.6 4.6Z" fill="none" stroke="#d9cf2e" stroke-width="1.7" stroke-linejoin="round"/><path d="M2.6 -3.2L6 -6.4" stroke="#45c8e8" stroke-width="1.7" stroke-linecap="round"/><circle cx="-2.2" cy="-3.6" r="1.3" fill="#3fc6e6"/><circle cx="3.6" cy="1.6" r="1.2" fill="#3fc6e6"/><path d="M-4.6 1.2L-7 2.4M-0.6 4.6L-0.2 7" stroke="#e8e8e0" stroke-width="1.1" stroke-linecap="round"/><circle cx="-0.2" cy="7.2" r="0.9" fill="#6fd628"/></g><g transform="translate(303.3 180) rotate(8) scale(1.3)"><path d="M-4.6 1.2L-2.2 -3.6L2.6 -3.2L3.6 1.6L-0.6 4.6Z" fill="none" stroke="#d9cf2e" stroke-width="1.7" stroke-linejoin="round"/><path d="M2.6 -3.2L6 -6.4" stroke="#45c8e8" stroke-width="1.7" stroke-linecap="round"/><circle cx="-2.2" cy="-3.6" r="1.3" fill="#3fc6e6"/><circle cx="3.6" cy="1.6" r="1.2" fill="#3fc6e6"/><path d="M-4.6 1.2L-7 2.4M-0.6 4.6L-0.2 7" stroke="#e8e8e0" stroke-width="1.1" stroke-linecap="round"/><circle cx="-0.2" cy="7.2" r="0.9" fill="#6fd628"/></g><g transform="translate(207.6 207.6) rotate(-12) scale(1.3)"><path d="M-4.6 1.2L-2.2 -3.6L2.6 -3.2L3.6 1.6L-0.6 4.6Z" fill="none" stroke="#d9cf2e" stroke-width="1.7" stroke-linejoin="round"/><path d="M2.6 -3.2L6 -6.4" stroke="#45c8e8" stroke-width="1.7" stroke-linecap="round"/><circle cx="-2.2" cy="-3.6" r="1.3" fill="#3fc6e6"/><circle cx="3.6" cy="1.6" r="1.2" fill="#3fc6e6"/><path d="M-4.6 1.2L-7 2.4M-0.6 4.6L-0.2 7" stroke="#e8e8e0" stroke-width="1.1" stroke-linecap="round"/><circle cx="-0.2" cy="7.2" r="0.9" fill="#6fd628"/></g><g transform="translate(332.2 209.5) rotate(15) scale(1.3)"><path d="M-4.6 1.2L-2.2 -3.6L2.6 -3.2L3.6 1.6L-0.6 4.6Z" fill="none" stroke="#d9cf2e" stroke-width="1.7" stroke-linejoin="round"/><path d="M2.6 -3.2L6 -6.4" stroke="#45c8e8" stroke-width="1.7" stroke-linecap="round"/><circle cx="-2.2" cy="-3.6" r="1.3" fill="#3fc6e6"/><circle cx="3.6" cy="1.6" r="1.2" fill="#3fc6e6"/><path d="M-4.6 1.2L-7 2.4M-0.6 4.6L-0.2 7" stroke="#e8e8e0" stroke-width="1.1" stroke-linecap="round"/><circle cx="-0.2" cy="7.2" r="0.9" fill="#6fd628"/></g><g transform="translate(225.3 234.1) rotate(0) scale(1.3)"><path d="M-4.6 1.2L-2.2 -3.6L2.6 -3.2L3.6 1.6L-0.6 4.6Z" fill="none" stroke="#d9cf2e" stroke-width="1.7" stroke-linejoin="round"/><path d="M2.6 -3.2L6 -6.4" stroke="#45c8e8" stroke-width="1.7" stroke-linecap="round"/><circle cx="-2.2" cy="-3.6" r="1.3" fill="#3fc6e6"/><circle cx="3.6" cy="1.6" r="1.2" fill="#3fc6e6"/><path d="M-4.6 1.2L-7 2.4M-0.6 4.6L-0.2 7" stroke="#e8e8e0" stroke-width="1.1" stroke-linecap="round"/><circle cx="-0.2" cy="7.2" r="0.9" fill="#6fd628"/></g><g transform="translate(297 254.3) rotate(0) scale(1.3)"><path d="M-4.6 1.2L-2.2 -3.6L2.6 -3.2L3.6 1.6L-0.6 4.6Z" fill="none" stroke="#d9cf2e" stroke-width="1.7" stroke-linejoin="round"/><path d="M2.6 -3.2L6 -6.4" stroke="#45c8e8" stroke-width="1.7" stroke-linecap="round"/><circle cx="-2.2" cy="-3.6" r="1.3" fill="#3fc6e6"/><circle cx="3.6" cy="1.6" r="1.2" fill="#3fc6e6"/><path d="M-4.6 1.2L-7 2.4M-0.6 4.6L-0.2 7" stroke="#e8e8e0" stroke-width="1.1" stroke-linecap="round"/><circle cx="-0.2" cy="7.2" r="0.9" fill="#6fd628"/></g><g transform="translate(329.7 268.1) rotate(15) scale(1.3)"><path d="M-4.6 1.2L-2.2 -3.6L2.6 -3.2L3.6 1.6L-0.6 4.6Z" fill="none" stroke="#d9cf2e" stroke-width="1.7" stroke-linejoin="round"/><path d="M2.6 -3.2L6 -6.4" stroke="#45c8e8" stroke-width="1.7" stroke-linecap="round"/><circle cx="-2.2" cy="-3.6" r="1.3" fill="#3fc6e6"/><circle cx="3.6" cy="1.6" r="1.2" fill="#3fc6e6"/><path d="M-4.6 1.2L-7 2.4M-0.6 4.6L-0.2 7" stroke="#e8e8e0" stroke-width="1.1" stroke-linecap="round"/><circle cx="-0.2" cy="7.2" r="0.9" fill="#6fd628"/></g><g transform="translate(253 295.8) rotate(-12) scale(1.3)"><path d="M-4.6 1.2L-2.2 -3.6L2.6 -3.2L3.6 1.6L-0.6 4.6Z" fill="none" stroke="#d9cf2e" stroke-width="1.7" stroke-linejoin="round"/><path d="M2.6 -3.2L6 -6.4" stroke="#45c8e8" stroke-width="1.7" stroke-linecap="round"/><circle cx="-2.2" cy="-3.6" r="1.3" fill="#3fc6e6"/><circle cx="3.6" cy="1.6" r="1.2" fill="#3fc6e6"/><path d="M-4.6 1.2L-7 2.4M-0.6 4.6L-0.2 7" stroke="#e8e8e0" stroke-width="1.1" stroke-linecap="round"/><circle cx="-0.2" cy="7.2" r="0.9" fill="#6fd628"/></g><g transform="translate(201.4 303.3) rotate(8) scale(1.3)"><path d="M-4.6 1.2L-2.2 -3.6L2.6 -3.2L3.6 1.6L-0.6 4.6Z" fill="none" stroke="#d9cf2e" stroke-width="1.7" stroke-linejoin="round"/><path d="M2.6 -3.2L6 -6.4" stroke="#45c8e8" stroke-width="1.7" stroke-linecap="round"/><circle cx="-2.2" cy="-3.6" r="1.3" fill="#3fc6e6"/><circle cx="3.6" cy="1.6" r="1.2" fill="#3fc6e6"/><path d="M-4.6 1.2L-7 2.4M-0.6 4.6L-0.2 7" stroke="#e8e8e0" stroke-width="1.1" stroke-linecap="round"/><circle cx="-0.2" cy="7.2" r="0.9" fill="#6fd628"/></g><g transform="translate(256.7 322.2) rotate(8) scale(1.3)"><path d="M-4.6 1.2L-2.2 -3.6L2.6 -3.2L3.6 1.6L-0.6 4.6Z" fill="none" stroke="#d9cf2e" stroke-width="1.7" stroke-linejoin="round"/><path d="M2.6 -3.2L6 -6.4" stroke="#45c8e8" stroke-width="1.7" stroke-linecap="round"/><circle cx="-2.2" cy="-3.6" r="1.3" fill="#3fc6e6"/><circle cx="3.6" cy="1.6" r="1.2" fill="#3fc6e6"/><path d="M-4.6 1.2L-7 2.4M-0.6 4.6L-0.2 7" stroke="#e8e8e0" stroke-width="1.1" stroke-linecap="round"/><circle cx="-0.2" cy="7.2" r="0.9" fill="#6fd628"/></g><g transform="translate(386.6 171.2) rotate(15) scale(1.3)"><path d="M-4.6 1.2L-2.2 -3.6L2.6 -3.2L3.6 1.6L-0.6 4.6Z" fill="none" stroke="#d9cf2e" stroke-width="1.7" stroke-linejoin="round"/><path d="M2.6 -3.2L6 -6.4" stroke="#45c8e8" stroke-width="1.7" stroke-linecap="round"/><circle cx="-2.2" cy="-3.6" r="1.3" fill="#3fc6e6"/><circle cx="3.6" cy="1.6" r="1.2" fill="#3fc6e6"/><path d="M-4.6 1.2L-7 2.4M-0.6 4.6L-0.2 7" stroke="#e8e8e0" stroke-width="1.1" stroke-linecap="round"/><circle cx="-0.2" cy="7.2" r="0.9" fill="#6fd628"/></g><g transform="translate(350 236.6) rotate(15) scale(1.3)"><path d="M-4.6 1.2L-2.2 -3.6L2.6 -3.2L3.6 1.6L-0.6 4.6Z" fill="none" stroke="#d9cf2e" stroke-width="1.7" stroke-linejoin="round"/><path d="M2.6 -3.2L6 -6.4" stroke="#45c8e8" stroke-width="1.7" stroke-linecap="round"/><circle cx="-2.2" cy="-3.6" r="1.3" fill="#3fc6e6"/><circle cx="3.6" cy="1.6" r="1.2" fill="#3fc6e6"/><path d="M-4.6 1.2L-7 2.4M-0.6 4.6L-0.2 7" stroke="#e8e8e0" stroke-width="1.1" stroke-linecap="round"/><circle cx="-0.2" cy="7.2" r="0.9" fill="#6fd628"/></g><g transform="translate(390.3 271.9) rotate(15) scale(1.3)"><path d="M-4.6 1.2L-2.2 -3.6L2.6 -3.2L3.6 1.6L-0.6 4.6Z" fill="none" stroke="#d9cf2e" stroke-width="1.7" stroke-linejoin="round"/><path d="M2.6 -3.2L6 -6.4" stroke="#45c8e8" stroke-width="1.7" stroke-linecap="round"/><circle cx="-2.2" cy="-3.6" r="1.3" fill="#3fc6e6"/><circle cx="3.6" cy="1.6" r="1.2" fill="#3fc6e6"/><path d="M-4.6 1.2L-7 2.4M-0.6 4.6L-0.2 7" stroke="#e8e8e0" stroke-width="1.1" stroke-linecap="round"/><circle cx="-0.2" cy="7.2" r="0.9" fill="#6fd628"/></g><g transform="translate(250.4 201.4) rotate(-8) scale(0.88)"><path d="M0 0L-4 -7M0 0L-7 4.5M0 0L7 5M0 0L3 -1.5" stroke="#52d3ee" stroke-width="1.9" stroke-linecap="round"/><circle cx="-4" cy="-7" r="1.7" fill="#58d7f0"/><circle cx="-7" cy="4.5" r="1.7" fill="#58d7f0"/><circle cx="7" cy="5" r="1.7" fill="#58d7f0"/><circle cx="0" cy="0" r="2.6" fill="#dcd230"/></g><g transform="translate(275.6 226.6) rotate(0) scale(0.88)"><path d="M0 0L-4 -7M0 0L-7 4.5M0 0L7 5M0 0L3 -1.5" stroke="#52d3ee" stroke-width="1.9" stroke-linecap="round"/><circle cx="-4" cy="-7" r="1.7" fill="#58d7f0"/><circle cx="-7" cy="4.5" r="1.7" fill="#58d7f0"/><circle cx="7" cy="5" r="1.7" fill="#58d7f0"/><circle cx="0" cy="0" r="2.6" fill="#dcd230"/></g><g transform="translate(217.7 274.4) rotate(0) scale(0.88)"><path d="M0 0L-4 -7M0 0L-7 4.5M0 0L7 5M0 0L3 -1.5" stroke="#52d3ee" stroke-width="1.9" stroke-linecap="round"/><circle cx="-4" cy="-7" r="1.7" fill="#58d7f0"/><circle cx="-7" cy="4.5" r="1.7" fill="#58d7f0"/><circle cx="7" cy="5" r="1.7" fill="#58d7f0"/><circle cx="0" cy="0" r="2.6" fill="#dcd230"/></g><g transform="translate(281.9 287) rotate(-8) scale(0.88)"><path d="M0 0L-4 -7M0 0L-7 4.5M0 0L7 5M0 0L3 -1.5" stroke="#52d3ee" stroke-width="1.9" stroke-linecap="round"/><circle cx="-4" cy="-7" r="1.7" fill="#58d7f0"/><circle cx="-7" cy="4.5" r="1.7" fill="#58d7f0"/><circle cx="7" cy="5" r="1.7" fill="#58d7f0"/><circle cx="0" cy="0" r="2.6" fill="#dcd230"/></g><g transform="translate(307.1 313.4) rotate(0) scale(0.88)"><path d="M0 0L-4 -7M0 0L-7 4.5M0 0L7 5M0 0L3 -1.5" stroke="#52d3ee" stroke-width="1.9" stroke-linecap="round"/><circle cx="-4" cy="-7" r="1.7" fill="#58d7f0"/><circle cx="-7" cy="4.5" r="1.7" fill="#58d7f0"/><circle cx="7" cy="5" r="1.7" fill="#58d7f0"/><circle cx="0" cy="0" r="2.6" fill="#dcd230"/></g><g transform="translate(376.5 200.8) rotate(-8) scale(0.88)"><path d="M0 0L-4 -7M0 0L-7 4.5M0 0L7 5M0 0L3 -1.5" stroke="#52d3ee" stroke-width="1.9" stroke-linecap="round"/><circle cx="-4" cy="-7" r="1.7" fill="#58d7f0"/><circle cx="-7" cy="4.5" r="1.7" fill="#58d7f0"/><circle cx="7" cy="5" r="1.7" fill="#58d7f0"/><circle cx="0" cy="0" r="2.6" fill="#dcd230"/></g><g transform="translate(391.6 234.1) rotate(10) scale(0.88)"><path d="M0 0L-4 -7M0 0L-7 4.5M0 0L7 5M0 0L3 -1.5" stroke="#52d3ee" stroke-width="1.9" stroke-linecap="round"/><circle cx="-4" cy="-7" r="1.7" fill="#58d7f0"/><circle cx="-7" cy="4.5" r="1.7" fill="#58d7f0"/><circle cx="7" cy="5" r="1.7" fill="#58d7f0"/><circle cx="0" cy="0" r="2.6" fill="#dcd230"/></g><g transform="translate(357.1 270.6) rotate(-8) scale(0.88)"><path d="M0 0L-4 -7M0 0L-7 4.5M0 0L7 5M0 0L3 -1.5" stroke="#52d3ee" stroke-width="1.9" stroke-linecap="round"/><circle cx="-4" cy="-7" r="1.7" fill="#58d7f0"/><circle cx="-7" cy="4.5" r="1.7" fill="#58d7f0"/><circle cx="7" cy="5" r="1.7" fill="#58d7f0"/><circle cx="0" cy="0" r="2.6" fill="#dcd230"/></g><g transform="translate(212.7 173.7) rotate(0) scale(0.95)"><path d="M-6 -11L-3 -7L-0.5 -4.5L3.5 -2.5L2.5 2L-1 6L-0.5 10.5" fill="none" stroke="#d2cd30" stroke-width="2" stroke-linejoin="round" stroke-linecap="round"/><path d="M-0.5 -4.5L3.5 -2.5L2.5 2" fill="none" stroke="#4fcbe6" stroke-width="1.5" stroke-linecap="round"/><path d="M-6 -11L-7.5 -13M-6 -11L-8 -9.5M-3 -7L-0.5 -8.5M-1 6L-3.5 5M-0.5 10.5L1.5 12M-0.5 10.5L-2.5 12" stroke="#b9b9a8" stroke-width="0.9" stroke-linecap="round"/><circle cx="3.8" cy="-2.5" r="1.2" fill="#d6cc30"/></g><g transform="translate(337 166) rotate(-6) scale(0.95)"><path d="M-6 -11L-3 -7L-0.5 -4.5L3.5 -2.5L2.5 2L-1 6L-0.5 10.5" fill="none" stroke="#d2cd30" stroke-width="2" stroke-linejoin="round" stroke-linecap="round"/><path d="M-0.5 -4.5L3.5 -2.5L2.5 2" fill="none" stroke="#4fcbe6" stroke-width="1.5" stroke-linecap="round"/><path d="M-6 -11L-7.5 -13M-6 -11L-8 -9.5M-3 -7L-0.5 -8.5M-1 6L-3.5 5M-0.5 10.5L1.5 12M-0.5 10.5L-2.5 12" stroke="#b9b9a8" stroke-width="0.9" stroke-linecap="round"/><circle cx="3.8" cy="-2.5" r="1.2" fill="#d6cc30"/></g><g transform="translate(305.8 212) rotate(0) scale(0.95)"><path d="M-6 -11L-3 -7L-0.5 -4.5L3.5 -2.5L2.5 2L-1 6L-0.5 10.5" fill="none" stroke="#d2cd30" stroke-width="2" stroke-linejoin="round" stroke-linecap="round"/><path d="M-0.5 -4.5L3.5 -2.5L2.5 2" fill="none" stroke="#4fcbe6" stroke-width="1.5" stroke-linecap="round"/><path d="M-6 -11L-7.5 -13M-6 -11L-8 -9.5M-3 -7L-0.5 -8.5M-1 6L-3.5 5M-0.5 10.5L1.5 12M-0.5 10.5L-2.5 12" stroke="#b9b9a8" stroke-width="0.9" stroke-linecap="round"/><circle cx="3.8" cy="-2.5" r="1.2" fill="#d6cc30"/></g><g transform="translate(245.4 259.3) rotate(0) scale(0.95)"><path d="M-6 -11L-3 -7L-0.5 -4.5L3.5 -2.5L2.5 2L-1 6L-0.5 10.5" fill="none" stroke="#d2cd30" stroke-width="2" stroke-linejoin="round" stroke-linecap="round"/><path d="M-0.5 -4.5L3.5 -2.5L2.5 2" fill="none" stroke="#4fcbe6" stroke-width="1.5" stroke-linecap="round"/><path d="M-6 -11L-7.5 -13M-6 -11L-8 -9.5M-3 -7L-0.5 -8.5M-1 6L-3.5 5M-0.5 10.5L1.5 12M-0.5 10.5L-2.5 12" stroke="#b9b9a8" stroke-width="0.9" stroke-linecap="round"/><circle cx="3.8" cy="-2.5" r="1.2" fill="#d6cc30"/></g><g transform="translate(329.7 300.8) rotate(-6) scale(0.95)"><path d="M-6 -11L-3 -7L-0.5 -4.5L3.5 -2.5L2.5 2L-1 6L-0.5 10.5" fill="none" stroke="#d2cd30" stroke-width="2" stroke-linejoin="round" stroke-linecap="round"/><path d="M-0.5 -4.5L3.5 -2.5L2.5 2" fill="none" stroke="#4fcbe6" stroke-width="1.5" stroke-linecap="round"/><path d="M-6 -11L-7.5 -13M-6 -11L-8 -9.5M-3 -7L-0.5 -8.5M-1 6L-3.5 5M-0.5 10.5L1.5 12M-0.5 10.5L-2.5 12" stroke="#b9b9a8" stroke-width="0.9" stroke-linecap="round"/><circle cx="3.8" cy="-2.5" r="1.2" fill="#d6cc30"/></g><g transform="translate(342.5 173.7) rotate(0) scale(0.95)"><path d="M-6 -11L-3 -7L-0.5 -4.5L3.5 -2.5L2.5 2L-1 6L-0.5 10.5" fill="none" stroke="#d2cd30" stroke-width="2" stroke-linejoin="round" stroke-linecap="round"/><path d="M-0.5 -4.5L3.5 -2.5L2.5 2" fill="none" stroke="#4fcbe6" stroke-width="1.5" stroke-linecap="round"/><path d="M-6 -11L-7.5 -13M-6 -11L-8 -9.5M-3 -7L-0.5 -8.5M-1 6L-3.5 5M-0.5 10.5L1.5 12M-0.5 10.5L-2.5 12" stroke="#b9b9a8" stroke-width="0.9" stroke-linecap="round"/><circle cx="3.8" cy="-2.5" r="1.2" fill="#d6cc30"/></g><g transform="translate(380.3 302) rotate(6) scale(0.95)"><path d="M-6 -11L-3 -7L-0.5 -4.5L3.5 -2.5L2.5 2L-1 6L-0.5 10.5" fill="none" stroke="#d2cd30" stroke-width="2" stroke-linejoin="round" stroke-linecap="round"/><path d="M-0.5 -4.5L3.5 -2.5L2.5 2" fill="none" stroke="#4fcbe6" stroke-width="1.5" stroke-linecap="round"/><path d="M-6 -11L-7.5 -13M-6 -11L-8 -9.5M-3 -7L-0.5 -8.5M-1 6L-3.5 5M-0.5 10.5L1.5 12M-0.5 10.5L-2.5 12" stroke="#b9b9a8" stroke-width="0.9" stroke-linecap="round"/><circle cx="3.8" cy="-2.5" r="1.2" fill="#d6cc30"/></g><g transform="translate(418 295.8) rotate(0) scale(0.95)"><path d="M-6 -11L-3 -7L-0.5 -4.5L3.5 -2.5L2.5 2L-1 6L-0.5 10.5" fill="none" stroke="#d2cd30" stroke-width="2" stroke-linejoin="round" stroke-linecap="round"/><path d="M-0.5 -4.5L3.5 -2.5L2.5 2" fill="none" stroke="#4fcbe6" stroke-width="1.5" stroke-linecap="round"/><path d="M-6 -11L-7.5 -13M-6 -11L-8 -9.5M-3 -7L-0.5 -8.5M-1 6L-3.5 5M-0.5 10.5L1.5 12M-0.5 10.5L-2.5 12" stroke="#b9b9a8" stroke-width="0.9" stroke-linecap="round"/><circle cx="3.8" cy="-2.5" r="1.2" fill="#d6cc30"/></g><path transform="translate(239.3 172.7) scale(1.1)" d="M-13.8 0.6C-8 0 -4.6 -1.6 -1.8 -3.6C0.2 -5 2.6 -4.9 3.9 -3.4C5.2 -1.9 5.2 1.9 3.9 3.4C2.6 4.9 0.2 5 -1.8 3.9C-4.6 2.4 -8 1.2 -13.8 0.6Z" fill="url(#aTd)"/><path transform="translate(283.4 203.5) scale(1.1)" d="M-13.8 0.6C-8 0 -4.6 -1.6 -1.8 -3.6C0.2 -5 2.6 -4.9 3.9 -3.4C5.2 -1.9 5.2 1.9 3.9 3.4C2.6 4.9 0.2 5 -1.8 3.9C-4.6 2.4 -8 1.2 -13.8 0.6Z" fill="url(#aTd)"/><path transform="translate(253.2 230.6) scale(1.1)" d="M-13.8 0.6C-8 0 -4.6 -1.6 -1.8 -3.6C0.2 -5 2.6 -4.9 3.9 -3.4C5.2 -1.9 5.2 1.9 3.9 3.4C2.6 4.9 0.2 5 -1.8 3.9C-4.6 2.4 -8 1.2 -13.8 0.6Z" fill="url(#aTd)"/><path transform="translate(209.1 250.8) scale(1.1)" d="M-13.8 0.6C-8 0 -4.6 -1.6 -1.8 -3.6C0.2 -5 2.6 -4.9 3.9 -3.4C5.2 -1.9 5.2 1.9 3.9 3.4C2.6 4.9 0.2 5 -1.8 3.9C-4.6 2.4 -8 1.2 -13.8 0.6Z" fill="url(#aTd)"/><path transform="translate(299.7 277.2) scale(1.1)" d="M-13.8 0.6C-8 0 -4.6 -1.6 -1.8 -3.6C0.2 -5 2.6 -4.9 3.9 -3.4C5.2 -1.9 5.2 1.9 3.9 3.4C2.6 4.9 0.2 5 -1.8 3.9C-4.6 2.4 -8 1.2 -13.8 0.6Z" fill="url(#aTd)"/><path transform="translate(226.7 326.3) scale(1.1)" d="M-13.8 0.6C-8 0 -4.6 -1.6 -1.8 -3.6C0.2 -5 2.6 -4.9 3.9 -3.4C5.2 -1.9 5.2 1.9 3.9 3.4C2.6 4.9 0.2 5 -1.8 3.9C-4.6 2.4 -8 1.2 -13.8 0.6Z" fill="url(#aTd)"/><path transform="translate(367.9 161.4) scale(1.1)" d="M-13.8 0.6C-8 0 -4.6 -1.6 -1.8 -3.6C0.2 -5 2.6 -4.9 3.9 -3.4C5.2 -1.9 5.2 1.9 3.9 3.4C2.6 4.9 0.2 5 -1.8 3.9C-4.6 2.4 -8 1.2 -13.8 0.6Z" fill="url(#aTd)"/><path transform="translate(405.6 204.6) scale(1.1)" d="M-13.8 0.6C-8 0 -4.6 -1.6 -1.8 -3.6C0.2 -5 2.6 -4.9 3.9 -3.4C5.2 -1.9 5.2 1.9 3.9 3.4C2.6 4.9 0.2 5 -1.8 3.9C-4.6 2.4 -8 1.2 -13.8 0.6Z" fill="url(#aTd)"/><path transform="translate(354 211.3) scale(1.1)" d="M-13.8 0.6C-8 0 -4.6 -1.6 -1.8 -3.6C0.2 -5 2.6 -4.9 3.9 -3.4C5.2 -1.9 5.2 1.9 3.9 3.4C2.6 4.9 0.2 5 -1.8 3.9C-4.6 2.4 -8 1.2 -13.8 0.6Z" fill="url(#aTd)"/><path transform="translate(380.5 255.3) scale(1.1)" d="M-13.8 0.6C-8 0 -4.6 -1.6 -1.8 -3.6C0.2 -5 2.6 -4.9 3.9 -3.4C5.2 -1.9 5.2 1.9 3.9 3.4C2.6 4.9 0.2 5 -1.8 3.9C-4.6 2.4 -8 1.2 -13.8 0.6Z" fill="url(#aTd)"/><path transform="translate(360.3 298.1) scale(1.1)" d="M-13.8 0.6C-8 0 -4.6 -1.6 -1.8 -3.6C0.2 -5 2.6 -4.9 3.9 -3.4C5.2 -1.9 5.2 1.9 3.9 3.4C2.6 4.9 0.2 5 -1.8 3.9C-4.6 2.4 -8 1.2 -13.8 0.6Z" fill="url(#aTd)"/><path transform="translate(439.6 310.7) scale(1.1)" d="M-13.8 0.6C-8 0 -4.6 -1.6 -1.8 -3.6C0.2 -5 2.6 -4.9 3.9 -3.4C5.2 -1.9 5.2 1.9 3.9 3.4C2.6 4.9 0.2 5 -1.8 3.9C-4.6 2.4 -8 1.2 -13.8 0.6Z" fill="url(#aTd)"/>
<polygon points="419.2,132.4 500.9,148.4 488.9,333.7 412.8,269.6" fill="url(#aPl)"/>
<polygon points="500.9,148.4 513.7,150 500.1,334.5 488.9,333.7" fill="#8795ac"/>
<polygon points="419.2,132.4 428,131.3 513.7,150 500.9,148.4" fill="#a5bad2"/>
<g fill="#e2b373"><ellipse cx="420.5" cy="138" rx="0.85" ry="1.35"/><ellipse cx="428.72" cy="139.67" rx="0.85" ry="1.35"/><ellipse cx="436.94" cy="141.33" rx="0.85" ry="1.35"/><ellipse cx="445.17" cy="143" rx="0.85" ry="1.35"/><ellipse cx="453.39" cy="144.67" rx="0.85" ry="1.35"/><ellipse cx="461.61" cy="146.33" rx="0.85" ry="1.35"/><ellipse cx="469.83" cy="148" rx="0.85" ry="1.35"/><ellipse cx="478.06" cy="149.67" rx="0.85" ry="1.35"/><ellipse cx="486.28" cy="151.33" rx="0.85" ry="1.35"/><ellipse cx="494.5" cy="153" rx="0.85" ry="1.35"/><ellipse cx="420.05" cy="147.85" rx="0.85" ry="1.35"/><ellipse cx="428.27" cy="149.91" rx="0.85" ry="1.35"/><ellipse cx="436.49" cy="151.98" rx="0.85" ry="1.35"/><ellipse cx="444.72" cy="154.05" rx="0.85" ry="1.35"/><ellipse cx="452.94" cy="156.12" rx="0.85" ry="1.35"/><ellipse cx="461.16" cy="158.19" rx="0.85" ry="1.35"/><ellipse cx="469.38" cy="160.26" rx="0.85" ry="1.35"/><ellipse cx="477.61" cy="162.32" rx="0.85" ry="1.35"/><ellipse cx="485.83" cy="164.39" rx="0.85" ry="1.35"/><ellipse cx="494.05" cy="166.46" rx="0.85" ry="1.35"/><ellipse cx="419.6" cy="157.69" rx="0.85" ry="1.35"/><ellipse cx="427.82" cy="160.16" rx="0.85" ry="1.35"/><ellipse cx="436.04" cy="162.63" rx="0.85" ry="1.35"/><ellipse cx="444.27" cy="165.1" rx="0.85" ry="1.35"/><ellipse cx="452.49" cy="167.57" rx="0.85" ry="1.35"/><ellipse cx="460.71" cy="170.04" rx="0.85" ry="1.35"/><ellipse cx="468.93" cy="172.51" rx="0.85" ry="1.35"/><ellipse cx="477.16" cy="174.98" rx="0.85" ry="1.35"/><ellipse cx="485.38" cy="177.45" rx="0.85" ry="1.35"/><ellipse cx="493.6" cy="179.92" rx="0.85" ry="1.35"/><ellipse cx="419.15" cy="167.54" rx="0.85" ry="1.35"/><ellipse cx="427.37" cy="170.41" rx="0.85" ry="1.35"/><ellipse cx="435.59" cy="173.28" rx="0.85" ry="1.35"/><ellipse cx="443.82" cy="176.15" rx="0.85" ry="1.35"/><ellipse cx="452.04" cy="179.03" rx="0.85" ry="1.35"/><ellipse cx="460.26" cy="181.9" rx="0.85" ry="1.35"/><ellipse cx="468.48" cy="184.77" rx="0.85" ry="1.35"/><ellipse cx="476.71" cy="187.64" rx="0.85" ry="1.35"/><ellipse cx="484.93" cy="190.51" rx="0.85" ry="1.35"/><ellipse cx="493.15" cy="193.38" rx="0.85" ry="1.35"/><ellipse cx="418.7" cy="177.38" rx="0.85" ry="1.35"/><ellipse cx="426.92" cy="180.66" rx="0.85" ry="1.35"/><ellipse cx="435.14" cy="183.93" rx="0.85" ry="1.35"/><ellipse cx="443.37" cy="187.21" rx="0.85" ry="1.35"/><ellipse cx="451.59" cy="190.48" rx="0.85" ry="1.35"/><ellipse cx="459.81" cy="193.75" rx="0.85" ry="1.35"/><ellipse cx="468.03" cy="197.03" rx="0.85" ry="1.35"/><ellipse cx="476.26" cy="200.3" rx="0.85" ry="1.35"/><ellipse cx="484.48" cy="203.57" rx="0.85" ry="1.35"/><ellipse cx="492.7" cy="206.85" rx="0.85" ry="1.35"/><ellipse cx="418.25" cy="187.23" rx="0.85" ry="1.35"/><ellipse cx="426.47" cy="190.91" rx="0.85" ry="1.35"/><ellipse cx="434.69" cy="194.58" rx="0.85" ry="1.35"/><ellipse cx="442.92" cy="198.26" rx="0.85" ry="1.35"/><ellipse cx="451.14" cy="201.93" rx="0.85" ry="1.35"/><ellipse cx="459.36" cy="205.61" rx="0.85" ry="1.35"/><ellipse cx="467.58" cy="209.28" rx="0.85" ry="1.35"/><ellipse cx="475.81" cy="212.96" rx="0.85" ry="1.35"/><ellipse cx="484.03" cy="216.63" rx="0.85" ry="1.35"/><ellipse cx="492.25" cy="220.31" rx="0.85" ry="1.35"/><ellipse cx="417.8" cy="197.08" rx="0.85" ry="1.35"/><ellipse cx="426.02" cy="201.15" rx="0.85" ry="1.35"/><ellipse cx="434.24" cy="205.23" rx="0.85" ry="1.35"/><ellipse cx="442.47" cy="209.31" rx="0.85" ry="1.35"/><ellipse cx="450.69" cy="213.38" rx="0.85" ry="1.35"/><ellipse cx="458.91" cy="217.46" rx="0.85" ry="1.35"/><ellipse cx="467.13" cy="221.54" rx="0.85" ry="1.35"/><ellipse cx="475.36" cy="225.62" rx="0.85" ry="1.35"/><ellipse cx="483.58" cy="229.69" rx="0.85" ry="1.35"/><ellipse cx="491.8" cy="233.77" rx="0.85" ry="1.35"/><ellipse cx="417.35" cy="206.92" rx="0.85" ry="1.35"/><ellipse cx="425.57" cy="211.4" rx="0.85" ry="1.35"/><ellipse cx="433.79" cy="215.88" rx="0.85" ry="1.35"/><ellipse cx="442.02" cy="220.36" rx="0.85" ry="1.35"/><ellipse cx="450.24" cy="224.84" rx="0.85" ry="1.35"/><ellipse cx="458.46" cy="229.32" rx="0.85" ry="1.35"/><ellipse cx="466.68" cy="233.79" rx="0.85" ry="1.35"/><ellipse cx="474.91" cy="238.27" rx="0.85" ry="1.35"/><ellipse cx="483.13" cy="242.75" rx="0.85" ry="1.35"/><ellipse cx="491.35" cy="247.23" rx="0.85" ry="1.35"/><ellipse cx="416.9" cy="216.77" rx="0.85" ry="1.35"/><ellipse cx="425.12" cy="221.65" rx="0.85" ry="1.35"/><ellipse cx="433.34" cy="226.53" rx="0.85" ry="1.35"/><ellipse cx="441.57" cy="231.41" rx="0.85" ry="1.35"/><ellipse cx="449.79" cy="236.29" rx="0.85" ry="1.35"/><ellipse cx="458.01" cy="241.17" rx="0.85" ry="1.35"/><ellipse cx="466.23" cy="246.05" rx="0.85" ry="1.35"/><ellipse cx="474.46" cy="250.93" rx="0.85" ry="1.35"/><ellipse cx="482.68" cy="255.81" rx="0.85" ry="1.35"/><ellipse cx="490.9" cy="260.69" rx="0.85" ry="1.35"/><ellipse cx="416.45" cy="226.62" rx="0.85" ry="1.35"/><ellipse cx="424.67" cy="231.9" rx="0.85" ry="1.35"/><ellipse cx="432.89" cy="237.18" rx="0.85" ry="1.35"/><ellipse cx="441.12" cy="242.46" rx="0.85" ry="1.35"/><ellipse cx="449.34" cy="247.74" rx="0.85" ry="1.35"/><ellipse cx="457.56" cy="253.03" rx="0.85" ry="1.35"/><ellipse cx="465.78" cy="258.31" rx="0.85" ry="1.35"/><ellipse cx="474.01" cy="263.59" rx="0.85" ry="1.35"/><ellipse cx="482.23" cy="268.87" rx="0.85" ry="1.35"/><ellipse cx="490.45" cy="274.15" rx="0.85" ry="1.35"/><ellipse cx="416" cy="236.46" rx="0.85" ry="1.35"/><ellipse cx="424.22" cy="242.15" rx="0.85" ry="1.35"/><ellipse cx="432.44" cy="247.83" rx="0.85" ry="1.35"/><ellipse cx="440.67" cy="253.51" rx="0.85" ry="1.35"/><ellipse cx="448.89" cy="259.2" rx="0.85" ry="1.35"/><ellipse cx="457.11" cy="264.88" rx="0.85" ry="1.35"/><ellipse cx="465.33" cy="270.56" rx="0.85" ry="1.35"/><ellipse cx="473.56" cy="276.25" rx="0.85" ry="1.35"/><ellipse cx="481.78" cy="281.93" rx="0.85" ry="1.35"/><ellipse cx="490" cy="287.62" rx="0.85" ry="1.35"/><ellipse cx="415.55" cy="246.31" rx="0.85" ry="1.35"/><ellipse cx="423.77" cy="252.39" rx="0.85" ry="1.35"/><ellipse cx="431.99" cy="258.48" rx="0.85" ry="1.35"/><ellipse cx="440.22" cy="264.56" rx="0.85" ry="1.35"/><ellipse cx="448.44" cy="270.65" rx="0.85" ry="1.35"/><ellipse cx="456.66" cy="276.74" rx="0.85" ry="1.35"/><ellipse cx="464.88" cy="282.82" rx="0.85" ry="1.35"/><ellipse cx="473.11" cy="288.91" rx="0.85" ry="1.35"/><ellipse cx="481.33" cy="294.99" rx="0.85" ry="1.35"/><ellipse cx="489.55" cy="301.08" rx="0.85" ry="1.35"/><ellipse cx="415.1" cy="256.15" rx="0.85" ry="1.35"/><ellipse cx="423.32" cy="262.64" rx="0.85" ry="1.35"/><ellipse cx="431.54" cy="269.13" rx="0.85" ry="1.35"/><ellipse cx="439.77" cy="275.62" rx="0.85" ry="1.35"/><ellipse cx="447.99" cy="282.1" rx="0.85" ry="1.35"/><ellipse cx="456.21" cy="288.59" rx="0.85" ry="1.35"/><ellipse cx="464.43" cy="295.08" rx="0.85" ry="1.35"/><ellipse cx="472.66" cy="301.56" rx="0.85" ry="1.35"/><ellipse cx="480.88" cy="308.05" rx="0.85" ry="1.35"/><ellipse cx="489.1" cy="314.54" rx="0.85" ry="1.35"/><ellipse cx="414.65" cy="266" rx="0.85" ry="1.35"/><ellipse cx="422.87" cy="272.89" rx="0.85" ry="1.35"/><ellipse cx="431.09" cy="279.78" rx="0.85" ry="1.35"/><ellipse cx="439.32" cy="286.67" rx="0.85" ry="1.35"/><ellipse cx="447.54" cy="293.56" rx="0.85" ry="1.35"/><ellipse cx="455.76" cy="300.44" rx="0.85" ry="1.35"/><ellipse cx="463.98" cy="307.33" rx="0.85" ry="1.35"/><ellipse cx="472.21" cy="314.22" rx="0.85" ry="1.35"/><ellipse cx="480.43" cy="321.11" rx="0.85" ry="1.35"/><ellipse cx="488.65" cy="328" rx="0.85" ry="1.35"/></g>
<circle cx="507.2" cy="158.5" r="2" fill="#e0913c"/>
<circle cx="505.3" cy="187.2" r="2" fill="#e0913c"/>
<circle cx="498.5" cy="268.8" r="2" fill="#e0913c"/>
<circle cx="497.8" cy="294.8" r="2" fill="#e0913c"/>
<circle cx="495.5" cy="321" r="2" fill="#e0913c"/>
<ellipse cx="453.8" cy="223" rx="34.2" ry="72.5" transform="rotate(-4 453.8 223)" fill="#bcd9f1"/>
<ellipse cx="452.6" cy="222.5" rx="33.6" ry="72" transform="rotate(-4 452.6 222.5)" fill="#a9cdeb" opacity="0.6"/>
<g filter="url(#aTex)"><path d="M446 147.5C458 147 470 158 476.5 178C483 198 484 226 479.5 250C475 272 466 289 455 292.5C444 295 431 285 423.5 266C416 247 414.5 218 418 193C421.5 169 433 148.5 446 147.5Z" fill="#6ccaf3"/></g>
<line x1="30.3" y1="115.3" x2="46" y2="151" stroke="#7b8799" stroke-width="2.1"/>
<text x="21" y="109.7" font-size="21.2">Al</text>
<line x1="129.6" y1="115.3" x2="129.6" y2="147.5" stroke="#3dc1e2" stroke-width="2"/>
<text x="104.3" y="105.3" font-size="16">Na<tspan font-size="10.5" dy="3.5">3</tspan><tspan dy="-3.5">V</tspan><tspan font-size="10.5" dy="3.5">2</tspan><tspan dy="-3.5">(PO</tspan><tspan font-size="10.5" dy="3.5">4</tspan><tspan dy="-3.5">)</tspan><tspan font-size="10.5" dy="3.5">3</tspan></text>
<line x1="422.4" y1="114.5" x2="450.5" y2="158" stroke="#74cef3" stroke-width="2"/>
<text x="385.2" y="110.8" font-size="16">SEI</text>
<line x1="510.5" y1="184" x2="537" y2="184" stroke="#7d8ca4" stroke-width="1.6"/>
<text x="537.6" y="189.4" font-size="16">HPJH-AlSi</text>
<path d="M98 63L167.5 61.7L167.5 64.3Z" fill="#000"/>
<path d="M182.5 63L161 54Q167 63 161 72Z" fill="#000"/>
<path d="M319.5 66L388.5 64.7L388.5 67.3Z" fill="#000"/>
<path d="M403.5 66L382 57Q388 66 382 75Z" fill="#000"/>
<text x="195.5" y="80.7" font-size="26.5" fill="#d9d05c">e<tspan font-size="17" baseline-shift="9">-</tspan></text>
<text x="417.8" y="85.8" font-size="26.5" fill="#d9d05c">e<tspan font-size="17" baseline-shift="9">-</tspan></text>
<polygon points="280.14,13.84 261.77,44.8 269.32,42.79 256.23,63.43 264.28,61.67 251.2,85.58 274.86,57.39 266.3,58.9 277.88,40.27 270.32,41.78" fill="#ddd466"/>
<path d="M483.6 148.8L506.3 83L564 100L549 159.3L491 162.2Z" fill="#cfe6ea" opacity="0.35"/>
<circle cx="564.3" cy="100" r="60" fill="#fff" stroke="#bcdde5" stroke-width="2.4"/>
<path d="M483.4 149.5L506.6 82M491.5 162.3L549.5 159.4" fill="none" stroke="#bcdde5" stroke-width="2"/>
<circle cx="488.9" cy="154.8" r="7.2" fill="none" stroke="#c3e2e9" stroke-width="2.2"/>
<g clip-path="url(#aC1)"><g><clipPath id="aC1h"><path d="M518.4 68.1L609.7 68.1L619.7 82.9L619.7 113.3L611.3 134.1L592.1 155.2L544.1 155.2L518.4 134.1L508.0 110.1L508.0 82.9Z"/></clipPath><g clip-path="url(#aC1h)"><path d="M505.5 68.75l5.63 -3.25l5.63 3.25M505.5 68.75v6.5M516.76 68.75l5.63 -3.25l5.63 3.25M516.76 68.75v6.5M528.02 68.75l5.63 -3.25l5.63 3.25M528.02 68.75v6.5M539.27 68.75l5.63 -3.25l5.63 3.25M539.27 68.75v6.5M550.53 68.75l5.63 -3.25l5.63 3.25M550.53 68.75v6.5M561.79 68.75l5.63 -3.25l5.63 3.25M561.79 68.75v6.5M573.05 68.75l5.63 -3.25l5.63 3.25M573.05 68.75v6.5M584.31 68.75l5.63 -3.25l5.63 3.25M584.31 68.75v6.5M595.57 68.75l5.63 -3.25l5.63 3.25M595.57 68.75v6.5M606.82 68.75l5.63 -3.25l5.63 3.25M606.82 68.75v6.5M618.08 68.75l5.63 -3.25l5.63 3.25M618.08 68.75v6.5M629.34 68.75l5.63 -3.25l5.63 3.25M629.34 68.75v6.5M511.13 78.5l5.63 -3.25l5.63 3.25M511.13 78.5v6.5M522.39 78.5l5.63 -3.25l5.63 3.25M522.39 78.5v6.5M533.65 78.5l5.63 -3.25l5.63 3.25M533.65 78.5v6.5M544.9 78.5l5.63 -3.25l5.63 3.25M544.9 78.5v6.5M556.16 78.5l5.63 -3.25l5.63 3.25M556.16 78.5v6.5M567.42 78.5l5.63 -3.25l5.63 3.25M567.42 78.5v6.5M578.68 78.5l5.63 -3.25l5.63 3.25M578.68 78.5v6.5M589.94 78.5l5.63 -3.25l5.63 3.25M589.94 78.5v6.5M601.2 78.5l5.63 -3.25l5.63 3.25M601.2 78.5v6.5M612.45 78.5l5.63 -3.25l5.63 3.25M612.45 78.5v6.5M623.71 78.5l5.63 -3.25l5.63 3.25M623.71 78.5v6.5M634.97 78.5l5.63 -3.25l5.63 3.25M634.97 78.5v6.5M505.5 88.25l5.63 -3.25l5.63 3.25M505.5 88.25v6.5M516.76 88.25l5.63 -3.25l5.63 3.25M516.76 88.25v6.5M528.02 88.25l5.63 -3.25l5.63 3.25M528.02 88.25v6.5M539.27 88.25l5.63 -3.25l5.63 3.25M539.27 88.25v6.5M550.53 88.25l5.63 -3.25l5.63 3.25M550.53 88.25v6.5M561.79 88.25l5.63 -3.25l5.63 3.25M561.79 88.25v6.5M573.05 88.25l5.63 -3.25l5.63 3.25M573.05 88.25v6.5M584.31 88.25l5.63 -3.25l5.63 3.25M584.31 88.25v6.5M595.57 88.25l5.63 -3.25l5.63 3.25M595.57 88.25v6.5M606.82 88.25l5.63 -3.25l5.63 3.25M606.82 88.25v6.5M618.08 88.25l5.63 -3.25l5.63 3.25M618.08 88.25v6.5M629.34 88.25l5.63 -3.25l5.63 3.25M629.34 88.25v6.5M511.13 98l5.63 -3.25l5.63 3.25M511.13 98v6.5M522.39 98l5.63 -3.25l5.63 3.25M522.39 98v6.5M533.65 98l5.63 -3.25l5.63 3.25M533.65 98v6.5M544.9 98l5.63 -3.25l5.63 3.25M544.9 98v6.5M556.16 98l5.63 -3.25l5.63 3.25M556.16 98v6.5M567.42 98l5.63 -3.25l5.63 3.25M567.42 98v6.5M578.68 98l5.63 -3.25l5.63 3.25M578.68 98v6.5M589.94 98l5.63 -3.25l5.63 3.25M589.94 98v6.5M601.2 98l5.63 -3.25l5.63 3.25M601.2 98v6.5M612.45 98l5.63 -3.25l5.63 3.25M612.45 98v6.5M623.71 98l5.63 -3.25l5.63 3.25M623.71 98v6.5M634.97 98l5.63 -3.25l5.63 3.25M634.97 98v6.5M505.5 107.75l5.63 -3.25l5.63 3.25M505.5 107.75v6.5M516.76 107.75l5.63 -3.25l5.63 3.25M516.76 107.75v6.5M528.02 107.75l5.63 -3.25l5.63 3.25M528.02 107.75v6.5M539.27 107.75l5.63 -3.25l5.63 3.25M539.27 107.75v6.5M550.53 107.75l5.63 -3.25l5.63 3.25M550.53 107.75v6.5M561.79 107.75l5.63 -3.25l5.63 3.25M561.79 107.75v6.5M573.05 107.75l5.63 -3.25l5.63 3.25M573.05 107.75v6.5M584.31 107.75l5.63 -3.25l5.63 3.25M584.31 107.75v6.5M595.57 107.75l5.63 -3.25l5.63 3.25M595.57 107.75v6.5M606.82 107.75l5.63 -3.25l5.63 3.25M606.82 107.75v6.5M618.08 107.75l5.63 -3.25l5.63 3.25M618.08 107.75v6.5M629.34 107.75l5.63 -3.25l5.63 3.25M629.34 107.75v6.5M511.13 117.5l5.63 -3.25l5.63 3.25M511.13 117.5v6.5M522.39 117.5l5.63 -3.25l5.63 3.25M522.39 117.5v6.5M533.65 117.5l5.63 -3.25l5.63 3.25M533.65 117.5v6.5M544.9 117.5l5.63 -3.25l5.63 3.25M544.9 117.5v6.5M556.16 117.5l5.63 -3.25l5.63 3.25M556.16 117.5v6.5M567.42 117.5l5.63 -3.25l5.63 3.25M567.42 117.5v6.5M578.68 117.5l5.63 -3.25l5.63 3.25M578.68 117.5v6.5M589.94 117.5l5.63 -3.25l5.63 3.25M589.94 117.5v6.5M601.2 117.5l5.63 -3.25l5.63 3.25M601.2 117.5v6.5M612.45 117.5l5.63 -3.25l5.63 3.25M612.45 117.5v6.5M623.71 117.5l5.63 -3.25l5.63 3.25M623.71 117.5v6.5M634.97 117.5l5.63 -3.25l5.63 3.25M634.97 117.5v6.5M505.5 127.25l5.63 -3.25l5.63 3.25M505.5 127.25v6.5M516.76 127.25l5.63 -3.25l5.63 3.25M516.76 127.25v6.5M528.02 127.25l5.63 -3.25l5.63 3.25M528.02 127.25v6.5M539.27 127.25l5.63 -3.25l5.63 3.25M539.27 127.25v6.5M550.53 127.25l5.63 -3.25l5.63 3.25M550.53 127.25v6.5M561.79 127.25l5.63 -3.25l5.63 3.25M561.79 127.25v6.5M573.05 127.25l5.63 -3.25l5.63 3.25M573.05 127.25v6.5M584.31 127.25l5.63 -3.25l5.63 3.25M584.31 127.25v6.5M595.57 127.25l5.63 -3.25l5.63 3.25M595.57 127.25v6.5M606.82 127.25l5.63 -3.25l5.63 3.25M606.82 127.25v6.5M618.08 127.25l5.63 -3.25l5.63 3.25M618.08 127.25v6.5M629.34 127.25l5.63 -3.25l5.63 3.25M629.34 127.25v6.5M511.13 137l5.63 -3.25l5.63 3.25M511.13 137v6.5M522.39 137l5.63 -3.25l5.63 3.25M522.39 137v6.5M533.65 137l5.63 -3.25l5.63 3.25M533.65 137v6.5M544.9 137l5.63 -3.25l5.63 3.25M544.9 137v6.5M556.16 137l5.63 -3.25l5.63 3.25M556.16 137v6.5M567.42 137l5.63 -3.25l5.63 3.25M567.42 137v6.5M578.68 137l5.63 -3.25l5.63 3.25M578.68 137v6.5M589.94 137l5.63 -3.25l5.63 3.25M589.94 137v6.5M601.2 137l5.63 -3.25l5.63 3.25M601.2 137v6.5M612.45 137l5.63 -3.25l5.63 3.25M612.45 137v6.5M623.71 137l5.63 -3.25l5.63 3.25M623.71 137v6.5M634.97 137l5.63 -3.25l5.63 3.25M634.97 137v6.5M505.5 146.75l5.63 -3.25l5.63 3.25M505.5 146.75v6.5M516.76 146.75l5.63 -3.25l5.63 3.25M516.76 146.75v6.5M528.02 146.75l5.63 -3.25l5.63 3.25M528.02 146.75v6.5M539.27 146.75l5.63 -3.25l5.63 3.25M539.27 146.75v6.5M550.53 146.75l5.63 -3.25l5.63 3.25M550.53 146.75v6.5M561.79 146.75l5.63 -3.25l5.63 3.25M561.79 146.75v6.5M573.05 146.75l5.63 -3.25l5.63 3.25M573.05 146.75v6.5M584.31 146.75l5.63 -3.25l5.63 3.25M584.31 146.75v6.5M595.57 146.75l5.63 -3.25l5.63 3.25M595.57 146.75v6.5M606.82 146.75l5.63 -3.25l5.63 3.25M606.82 146.75v6.5M618.08 146.75l5.63 -3.25l5.63 3.25M618.08 146.75v6.5M629.34 146.75l5.63 -3.25l5.63 3.25M629.34 146.75v6.5M511.13 156.5l5.63 -3.25l5.63 3.25M511.13 156.5v6.5M522.39 156.5l5.63 -3.25l5.63 3.25M522.39 156.5v6.5M533.65 156.5l5.63 -3.25l5.63 3.25M533.65 156.5v6.5M544.9 156.5l5.63 -3.25l5.63 3.25M544.9 156.5v6.5M556.16 156.5l5.63 -3.25l5.63 3.25M556.16 156.5v6.5M567.42 156.5l5.63 -3.25l5.63 3.25M567.42 156.5v6.5M578.68 156.5l5.63 -3.25l5.63 3.25M578.68 156.5v6.5M589.94 156.5l5.63 -3.25l5.63 3.25M589.94 156.5v6.5M601.2 156.5l5.63 -3.25l5.63 3.25M601.2 156.5v6.5M612.45 156.5l5.63 -3.25l5.63 3.25M612.45 156.5v6.5M623.71 156.5l5.63 -3.25l5.63 3.25M623.71 156.5v6.5M634.97 156.5l5.63 -3.25l5.63 3.25M634.97 156.5v6.5" stroke="#8794ea" stroke-width="1" fill="none"/><g fill="#5566dc"><circle cx="505.5" cy="68.75" r="1.5"/><circle cx="511.13" cy="65.5" r="1.5"/><circle cx="516.76" cy="68.75" r="1.5"/><circle cx="522.39" cy="65.5" r="1.5"/><circle cx="528.02" cy="68.75" r="1.5"/><circle cx="533.65" cy="65.5" r="1.5"/><circle cx="539.27" cy="68.75" r="1.5"/><circle cx="544.9" cy="65.5" r="1.5"/><circle cx="550.53" cy="68.75" r="1.5"/><circle cx="556.16" cy="65.5" r="1.5"/><circle cx="561.79" cy="68.75" r="1.5"/><circle cx="567.42" cy="65.5" r="1.5"/><circle cx="573.05" cy="68.75" r="1.5"/><circle cx="578.68" cy="65.5" r="1.5"/><circle cx="584.31" cy="68.75" r="1.5"/><circle cx="589.94" cy="65.5" r="1.5"/><circle cx="595.57" cy="68.75" r="1.5"/><circle cx="601.2" cy="65.5" r="1.5"/><circle cx="606.82" cy="68.75" r="1.5"/><circle cx="612.45" cy="65.5" r="1.5"/><circle cx="618.08" cy="68.75" r="1.5"/><circle cx="623.71" cy="65.5" r="1.5"/><circle cx="629.34" cy="68.75" r="1.5"/><circle cx="634.97" cy="65.5" r="1.5"/><circle cx="511.13" cy="78.5" r="1.5"/><circle cx="516.76" cy="75.25" r="1.5"/><circle cx="522.39" cy="78.5" r="1.5"/><circle cx="528.02" cy="75.25" r="1.5"/><circle cx="533.65" cy="78.5" r="1.5"/><circle cx="539.27" cy="75.25" r="1.5"/><circle cx="544.9" cy="78.5" r="1.5"/><circle cx="550.53" cy="75.25" r="1.5"/><circle cx="556.16" cy="78.5" r="1.5"/><circle cx="561.79" cy="75.25" r="1.5"/><circle cx="567.42" cy="78.5" r="1.5"/><circle cx="573.05" cy="75.25" r="1.5"/><circle cx="578.68" cy="78.5" r="1.5"/><circle cx="584.31" cy="75.25" r="1.5"/><circle cx="589.94" cy="78.5" r="1.5"/><circle cx="595.57" cy="75.25" r="1.5"/><circle cx="601.2" cy="78.5" r="1.5"/><circle cx="606.82" cy="75.25" r="1.5"/><circle cx="612.45" cy="78.5" r="1.5"/><circle cx="618.08" cy="75.25" r="1.5"/><circle cx="623.71" cy="78.5" r="1.5"/><circle cx="629.34" cy="75.25" r="1.5"/><circle cx="634.97" cy="78.5" r="1.5"/><circle cx="640.6" cy="75.25" r="1.5"/><circle cx="505.5" cy="88.25" r="1.5"/><circle cx="511.13" cy="85" r="1.5"/><circle cx="516.76" cy="88.25" r="1.5"/><circle cx="522.39" cy="85" r="1.5"/><circle cx="528.02" cy="88.25" r="1.5"/><circle cx="533.65" cy="85" r="1.5"/><circle cx="539.27" cy="88.25" r="1.5"/><circle cx="544.9" cy="85" r="1.5"/><circle cx="550.53" cy="88.25" r="1.5"/><circle cx="556.16" cy="85" r="1.5"/><circle cx="561.79" cy="88.25" r="1.5"/><circle cx="567.42" cy="85" r="1.5"/><circle cx="573.05" cy="88.25" r="1.5"/><circle cx="578.68" cy="85" r="1.5"/><circle cx="584.31" cy="88.25" r="1.5"/><circle cx="589.94" cy="85" r="1.5"/><circle cx="595.57" cy="88.25" r="1.5"/><circle cx="601.2" cy="85" r="1.5"/><circle cx="606.82" cy="88.25" r="1.5"/><circle cx="612.45" cy="85" r="1.5"/><circle cx="618.08" cy="88.25" r="1.5"/><circle cx="623.71" cy="85" r="1.5"/><circle cx="629.34" cy="88.25" r="1.5"/><circle cx="634.97" cy="85" r="1.5"/><circle cx="511.13" cy="98" r="1.5"/><circle cx="516.76" cy="94.75" r="1.5"/><circle cx="522.39" cy="98" r="1.5"/><circle cx="528.02" cy="94.75" r="1.5"/><circle cx="533.65" cy="98" r="1.5"/><circle cx="539.27" cy="94.75" r="1.5"/><circle cx="544.9" cy="98" r="1.5"/><circle cx="550.53" cy="94.75" r="1.5"/><circle cx="556.16" cy="98" r="1.5"/><circle cx="561.79" cy="94.75" r="1.5"/><circle cx="567.42" cy="98" r="1.5"/><circle cx="573.05" cy="94.75" r="1.5"/><circle cx="578.68" cy="98" r="1.5"/><circle cx="584.31" cy="94.75" r="1.5"/><circle cx="589.94" cy="98" r="1.5"/><circle cx="595.57" cy="94.75" r="1.5"/><circle cx="601.2" cy="98" r="1.5"/><circle cx="606.82" cy="94.75" r="1.5"/><circle cx="612.45" cy="98" r="1.5"/><circle cx="618.08" cy="94.75" r="1.5"/><circle cx="623.71" cy="98" r="1.5"/><circle cx="629.34" cy="94.75" r="1.5"/><circle cx="634.97" cy="98" r="1.5"/><circle cx="640.6" cy="94.75" r="1.5"/><circle cx="505.5" cy="107.75" r="1.5"/><circle cx="511.13" cy="104.5" r="1.5"/><circle cx="516.76" cy="107.75" r="1.5"/><circle cx="522.39" cy="104.5" r="1.5"/><circle cx="528.02" cy="107.75" r="1.5"/><circle cx="533.65" cy="104.5" r="1.5"/><circle cx="539.27" cy="107.75" r="1.5"/><circle cx="544.9" cy="104.5" r="1.5"/><circle cx="550.53" cy="107.75" r="1.5"/><circle cx="556.16" cy="104.5" r="1.5"/><circle cx="561.79" cy="107.75" r="1.5"/><circle cx="567.42" cy="104.5" r="1.5"/><circle cx="573.05" cy="107.75" r="1.5"/><circle cx="578.68" cy="104.5" r="1.5"/><circle cx="584.31" cy="107.75" r="1.5"/><circle cx="589.94" cy="104.5" r="1.5"/><circle cx="595.57" cy="107.75" r="1.5"/><circle cx="601.2" cy="104.5" r="1.5"/><circle cx="606.82" cy="107.75" r="1.5"/><circle cx="612.45" cy="104.5" r="1.5"/><circle cx="618.08" cy="107.75" r="1.5"/><circle cx="623.71" cy="104.5" r="1.5"/><circle cx="629.34" cy="107.75" r="1.5"/><circle cx="634.97" cy="104.5" r="1.5"/><circle cx="511.13" cy="117.5" r="1.5"/><circle cx="516.76" cy="114.25" r="1.5"/><circle cx="522.39" cy="117.5" r="1.5"/><circle cx="528.02" cy="114.25" r="1.5"/><circle cx="533.65" cy="117.5" r="1.5"/><circle cx="539.27" cy="114.25" r="1.5"/><circle cx="544.9" cy="117.5" r="1.5"/><circle cx="550.53" cy="114.25" r="1.5"/><circle cx="556.16" cy="117.5" r="1.5"/><circle cx="561.79" cy="114.25" r="1.5"/><circle cx="567.42" cy="117.5" r="1.5"/><circle cx="573.05" cy="114.25" r="1.5"/><circle cx="578.68" cy="117.5" r="1.5"/><circle cx="584.31" cy="114.25" r="1.5"/><circle cx="589.94" cy="117.5" r="1.5"/><circle cx="595.57" cy="114.25" r="1.5"/><circle cx="601.2" cy="117.5" r="1.5"/><circle cx="606.82" cy="114.25" r="1.5"/><circle cx="612.45" cy="117.5" r="1.5"/><circle cx="618.08" cy="114.25" r="1.5"/><circle cx="623.71" cy="117.5" r="1.5"/><circle cx="629.34" cy="114.25" r="1.5"/><circle cx="634.97" cy="117.5" r="1.5"/><circle cx="640.6" cy="114.25" r="1.5"/><circle cx="505.5" cy="127.25" r="1.5"/><circle cx="511.13" cy="124" r="1.5"/><circle cx="516.76" cy="127.25" r="1.5"/><circle cx="522.39" cy="124" r="1.5"/><circle cx="528.02" cy="127.25" r="1.5"/><circle cx="533.65" cy="124" r="1.5"/><circle cx="539.27" cy="127.25" r="1.5"/><circle cx="544.9" cy="124" r="1.5"/><circle cx="550.53" cy="127.25" r="1.5"/><circle cx="556.16" cy="124" r="1.5"/><circle cx="561.79" cy="127.25" r="1.5"/><circle cx="567.42" cy="124" r="1.5"/><circle cx="573.05" cy="127.25" r="1.5"/><circle cx="578.68" cy="124" r="1.5"/><circle cx="584.31" cy="127.25" r="1.5"/><circle cx="589.94" cy="124" r="1.5"/><circle cx="595.57" cy="127.25" r="1.5"/><circle cx="601.2" cy="124" r="1.5"/><circle cx="606.82" cy="127.25" r="1.5"/><circle cx="612.45" cy="124" r="1.5"/><circle cx="618.08" cy="127.25" r="1.5"/><circle cx="623.71" cy="124" r="1.5"/><circle cx="629.34" cy="127.25" r="1.5"/><circle cx="634.97" cy="124" r="1.5"/><circle cx="511.13" cy="137" r="1.5"/><circle cx="516.76" cy="133.75" r="1.5"/><circle cx="522.39" cy="137" r="1.5"/><circle cx="528.02" cy="133.75" r="1.5"/><circle cx="533.65" cy="137" r="1.5"/><circle cx="539.27" cy="133.75" r="1.5"/><circle cx="544.9" cy="137" r="1.5"/><circle cx="550.53" cy="133.75" r="1.5"/><circle cx="556.16" cy="137" r="1.5"/><circle cx="561.79" cy="133.75" r="1.5"/><circle cx="567.42" cy="137" r="1.5"/><circle cx="573.05" cy="133.75" r="1.5"/><circle cx="578.68" cy="137" r="1.5"/><circle cx="584.31" cy="133.75" r="1.5"/><circle cx="589.94" cy="137" r="1.5"/><circle cx="595.57" cy="133.75" r="1.5"/><circle cx="601.2" cy="137" r="1.5"/><circle cx="606.82" cy="133.75" r="1.5"/><circle cx="612.45" cy="137" r="1.5"/><circle cx="618.08" cy="133.75" r="1.5"/><circle cx="623.71" cy="137" r="1.5"/><circle cx="629.34" cy="133.75" r="1.5"/><circle cx="634.97" cy="137" r="1.5"/><circle cx="640.6" cy="133.75" r="1.5"/><circle cx="505.5" cy="146.75" r="1.5"/><circle cx="511.13" cy="143.5" r="1.5"/><circle cx="516.76" cy="146.75" r="1.5"/><circle cx="522.39" cy="143.5" r="1.5"/><circle cx="528.02" cy="146.75" r="1.5"/><circle cx="533.65" cy="143.5" r="1.5"/><circle cx="539.27" cy="146.75" r="1.5"/><circle cx="544.9" cy="143.5" r="1.5"/><circle cx="550.53" cy="146.75" r="1.5"/><circle cx="556.16" cy="143.5" r="1.5"/><circle cx="561.79" cy="146.75" r="1.5"/><circle cx="567.42" cy="143.5" r="1.5"/><circle cx="573.05" cy="146.75" r="1.5"/><circle cx="578.68" cy="143.5" r="1.5"/><circle cx="584.31" cy="146.75" r="1.5"/><circle cx="589.94" cy="143.5" r="1.5"/><circle cx="595.57" cy="146.75" r="1.5"/><circle cx="601.2" cy="143.5" r="1.5"/><circle cx="606.82" cy="146.75" r="1.5"/><circle cx="612.45" cy="143.5" r="1.5"/><circle cx="618.08" cy="146.75" r="1.5"/><circle cx="623.71" cy="143.5" r="1.5"/><circle cx="629.34" cy="146.75" r="1.5"/><circle cx="634.97" cy="143.5" r="1.5"/><circle cx="511.13" cy="156.5" r="1.5"/><circle cx="516.76" cy="153.25" r="1.5"/><circle cx="522.39" cy="156.5" r="1.5"/><circle cx="528.02" cy="153.25" r="1.5"/><circle cx="533.65" cy="156.5" r="1.5"/><circle cx="539.27" cy="153.25" r="1.5"/><circle cx="544.9" cy="156.5" r="1.5"/><circle cx="550.53" cy="153.25" r="1.5"/><circle cx="556.16" cy="156.5" r="1.5"/><circle cx="561.79" cy="153.25" r="1.5"/><circle cx="567.42" cy="156.5" r="1.5"/><circle cx="573.05" cy="153.25" r="1.5"/><circle cx="578.68" cy="156.5" r="1.5"/><circle cx="584.31" cy="153.25" r="1.5"/><circle cx="589.94" cy="156.5" r="1.5"/><circle cx="595.57" cy="153.25" r="1.5"/><circle cx="601.2" cy="156.5" r="1.5"/><circle cx="606.82" cy="153.25" r="1.5"/><circle cx="612.45" cy="156.5" r="1.5"/><circle cx="618.08" cy="153.25" r="1.5"/><circle cx="623.71" cy="156.5" r="1.5"/><circle cx="629.34" cy="153.25" r="1.5"/><circle cx="634.97" cy="156.5" r="1.5"/><circle cx="640.6" cy="153.25" r="1.5"/></g></g></g></g>
<text x="566.5" y="61.8" font-size="16.6" text-anchor="middle">NT-Si</text>
<path d="M486 220.5L516 304L564 266L566 207L492 206.2Z" fill="#b5d8dd" opacity="0.45"/>
<circle cx="564.6" cy="266.6" r="59" fill="#fff" stroke="#acd3dc" stroke-width="2.4"/>
<path d="M484.6 219.5L516.3 303.5M491.3 206.3L566 207.3" fill="none" stroke="#b4d8e0" stroke-width="2"/>
<circle cx="491.3" cy="214.4" r="8" fill="none" stroke="#bddfe7" stroke-width="2.2"/>
<g clip-path="url(#aC2)"><polygon points="498,244.5 626,241 626,289.5 520.5,291.8 503,262" fill="#8c9cba"/><polygon points="520.5,291.8 626,289.5 626,297.3 522.3,302.6" fill="#8291ac"/><clipPath id="aC3"><polygon points="499.5,245.5 626,242 626,288.5 521.5,290.6 504.5,262"/></clipPath><g fill="#f2835a" clip-path="url(#aC3)"><ellipse cx="506" cy="247" rx="1.6" ry="1"/><ellipse cx="513.6" cy="246.72" rx="1.6" ry="1"/><ellipse cx="521.2" cy="246.44" rx="1.6" ry="1"/><ellipse cx="536.4" cy="245.88" rx="1.6" ry="1"/><ellipse cx="544" cy="245.6" rx="1.6" ry="1"/><ellipse cx="551.6" cy="245.32" rx="1.6" ry="1"/><ellipse cx="559.2" cy="245.04" rx="1.6" ry="1"/><ellipse cx="566.8" cy="244.76" rx="1.6" ry="1"/><ellipse cx="574.4" cy="244.48" rx="1.6" ry="1"/><ellipse cx="582" cy="244.2" rx="1.6" ry="1"/><ellipse cx="589.6" cy="243.92" rx="1.6" ry="1"/><ellipse cx="597.2" cy="243.64" rx="1.6" ry="1"/><ellipse cx="604.8" cy="243.36" rx="1.6" ry="1"/><ellipse cx="612.4" cy="243.08" rx="1.6" ry="1"/><ellipse cx="620" cy="242.8" rx="1.6" ry="1"/><ellipse cx="627.6" cy="242.52" rx="1.6" ry="1"/><ellipse cx="510.8" cy="252.3" rx="1.6" ry="1"/><ellipse cx="518.4" cy="252.02" rx="1.6" ry="1"/><ellipse cx="617.2" cy="248.38" rx="1.6" ry="1"/><ellipse cx="624.8" cy="248.1" rx="1.6" ry="1"/><ellipse cx="632.4" cy="247.82" rx="1.6" ry="1"/><ellipse cx="508.6" cy="257.6" rx="1.6" ry="1"/><ellipse cx="516.2" cy="257.32" rx="1.6" ry="1"/><ellipse cx="523.8" cy="257.04" rx="1.6" ry="1"/><ellipse cx="615" cy="253.68" rx="1.6" ry="1"/><ellipse cx="622.6" cy="253.4" rx="1.6" ry="1"/><ellipse cx="630.2" cy="253.12" rx="1.6" ry="1"/><ellipse cx="513.4" cy="262.9" rx="1.6" ry="1"/><ellipse cx="521" cy="262.62" rx="1.6" ry="1"/><ellipse cx="612.2" cy="259.26" rx="1.6" ry="1"/><ellipse cx="619.8" cy="258.98" rx="1.6" ry="1"/><ellipse cx="627.4" cy="258.7" rx="1.6" ry="1"/><ellipse cx="635" cy="258.42" rx="1.6" ry="1"/><ellipse cx="511.2" cy="268.2" rx="1.6" ry="1"/><ellipse cx="518.8" cy="267.92" rx="1.6" ry="1"/><ellipse cx="617.6" cy="264.28" rx="1.6" ry="1"/><ellipse cx="625.2" cy="264" rx="1.6" ry="1"/><ellipse cx="632.8" cy="263.72" rx="1.6" ry="1"/><ellipse cx="516" cy="273.5" rx="1.6" ry="1"/><ellipse cx="523.6" cy="273.22" rx="1.6" ry="1"/><ellipse cx="614.8" cy="269.86" rx="1.6" ry="1"/><ellipse cx="622.4" cy="269.58" rx="1.6" ry="1"/><ellipse cx="630" cy="269.3" rx="1.6" ry="1"/><ellipse cx="637.6" cy="269.02" rx="1.6" ry="1"/><ellipse cx="513.8" cy="278.8" rx="1.6" ry="1"/><ellipse cx="521.4" cy="278.52" rx="1.6" ry="1"/><ellipse cx="612.6" cy="275.16" rx="1.6" ry="1"/><ellipse cx="620.2" cy="274.88" rx="1.6" ry="1"/><ellipse cx="627.8" cy="274.6" rx="1.6" ry="1"/><ellipse cx="635.4" cy="274.32" rx="1.6" ry="1"/><ellipse cx="518.6" cy="284.1" rx="1.6" ry="1"/><ellipse cx="526.2" cy="283.82" rx="1.6" ry="1"/><ellipse cx="533.8" cy="283.54" rx="1.6" ry="1"/><ellipse cx="541.4" cy="283.26" rx="1.6" ry="1"/><ellipse cx="549" cy="282.98" rx="1.6" ry="1"/><ellipse cx="556.6" cy="282.7" rx="1.6" ry="1"/><ellipse cx="564.2" cy="282.42" rx="1.6" ry="1"/><ellipse cx="571.8" cy="282.14" rx="1.6" ry="1"/><ellipse cx="579.4" cy="281.86" rx="1.6" ry="1"/><ellipse cx="587" cy="281.58" rx="1.6" ry="1"/><ellipse cx="594.6" cy="281.3" rx="1.6" ry="1"/><ellipse cx="602.2" cy="281.02" rx="1.6" ry="1"/><ellipse cx="609.8" cy="280.74" rx="1.6" ry="1"/><ellipse cx="617.4" cy="280.46" rx="1.6" ry="1"/><ellipse cx="625" cy="280.18" rx="1.6" ry="1"/><ellipse cx="632.6" cy="279.9" rx="1.6" ry="1"/><ellipse cx="640.2" cy="279.62" rx="1.6" ry="1"/><ellipse cx="516.4" cy="289.4" rx="1.6" ry="1"/><ellipse cx="524" cy="289.12" rx="1.6" ry="1"/><ellipse cx="531.6" cy="288.84" rx="1.6" ry="1"/><ellipse cx="539.2" cy="288.56" rx="1.6" ry="1"/><ellipse cx="546.8" cy="288.28" rx="1.6" ry="1"/><ellipse cx="554.4" cy="288" rx="1.6" ry="1"/><ellipse cx="562" cy="287.72" rx="1.6" ry="1"/><ellipse cx="569.6" cy="287.44" rx="1.6" ry="1"/><ellipse cx="577.2" cy="287.16" rx="1.6" ry="1"/><ellipse cx="584.8" cy="286.88" rx="1.6" ry="1"/><ellipse cx="592.4" cy="286.6" rx="1.6" ry="1"/><ellipse cx="600" cy="286.32" rx="1.6" ry="1"/><ellipse cx="607.6" cy="286.04" rx="1.6" ry="1"/><ellipse cx="615.2" cy="285.76" rx="1.6" ry="1"/><ellipse cx="622.8" cy="285.48" rx="1.6" ry="1"/><ellipse cx="630.4" cy="285.2" rx="1.6" ry="1"/><ellipse cx="638" cy="284.92" rx="1.6" ry="1"/></g><circle cx="534" cy="297" r="1.6" fill="#dd7a58"/><circle cx="559" cy="295.8" r="1.6" fill="#dd7a58"/><circle cx="583.5" cy="294.7" r="1.6" fill="#dd7a58"/><circle cx="607" cy="293.6" r="1.6" fill="#dd7a58"/><path d="M531 279L610 276L612 283L536 286Z" fill="#b4c2e8" opacity="0.75" filter="url(#aB1)"/><polygon points="525,250 604,246.5 611,272 608,277 534,279.5 530,274" fill="#9a9a9a"/><ellipse cx="529" cy="250.5" rx="5" ry="3.2" fill="url(#aNa)"/><ellipse cx="537.8" cy="250.1" rx="5" ry="3.2" fill="url(#aNa)"/><ellipse cx="546.6" cy="249.7" rx="5" ry="3.2" fill="url(#aNa)"/><ellipse cx="555.4" cy="249.3" rx="5" ry="3.2" fill="url(#aNa)"/><ellipse cx="564.2" cy="248.9" rx="5" ry="3.2" fill="url(#aNa)"/><ellipse cx="573" cy="248.5" rx="5" ry="3.2" fill="url(#aNa)"/><ellipse cx="581.8" cy="248.1" rx="5" ry="3.2" fill="url(#aNa)"/><ellipse cx="590.6" cy="247.7" rx="5" ry="3.2" fill="url(#aNa)"/><ellipse cx="599.4" cy="247.3" rx="5" ry="3.2" fill="url(#aNa)"/><ellipse cx="529.9" cy="254.1" rx="5" ry="3.2" fill="url(#aNa)"/><ellipse cx="538.7" cy="253.7" rx="5" ry="3.2" fill="url(#aNa)"/><ellipse cx="547.5" cy="253.3" rx="5" ry="3.2" fill="url(#aNa)"/><ellipse cx="556.3" cy="252.9" rx="5" ry="3.2" fill="url(#aNa)"/><ellipse cx="565.1" cy="252.5" rx="5" ry="3.2" fill="url(#aNa)"/><ellipse cx="573.9" cy="252.1" rx="5" ry="3.2" fill="url(#aNa)"/><ellipse cx="582.7" cy="251.7" rx="5" ry="3.2" fill="url(#aNa)"/><ellipse cx="591.5" cy="251.3" rx="5" ry="3.2" fill="url(#aNa)"/><ellipse cx="600.3" cy="250.9" rx="5" ry="3.2" fill="url(#aNa)"/><ellipse cx="530.8" cy="257.7" rx="5" ry="3.2" fill="url(#aNa)"/><ellipse cx="539.6" cy="257.3" rx="5" ry="3.2" fill="url(#aNa)"/><ellipse cx="548.4" cy="256.9" rx="5" ry="3.2" fill="url(#aNa)"/><ellipse cx="557.2" cy="256.5" rx="5" ry="3.2" fill="url(#aNa)"/><ellipse cx="566" cy="256.1" rx="5" ry="3.2" fill="url(#aNa)"/><ellipse cx="574.8" cy="255.7" rx="5" ry="3.2" fill="url(#aNa)"/><ellipse cx="583.6" cy="255.3" rx="5" ry="3.2" fill="url(#aNa)"/><ellipse cx="592.4" cy="254.9" rx="5" ry="3.2" fill="url(#aNa)"/><ellipse cx="601.2" cy="254.5" rx="5" ry="3.2" fill="url(#aNa)"/><ellipse cx="531.7" cy="261.3" rx="5" ry="3.2" fill="url(#aNa)"/><ellipse cx="540.5" cy="260.9" rx="5" ry="3.2" fill="url(#aNa)"/><ellipse cx="549.3" cy="260.5" rx="5" ry="3.2" fill="url(#aNa)"/><ellipse cx="558.1" cy="260.1" rx="5" ry="3.2" fill="url(#aNa)"/><ellipse cx="566.9" cy="259.7" rx="5" ry="3.2" fill="url(#aNa)"/><ellipse cx="575.7" cy="259.3" rx="5" ry="3.2" fill="url(#aNa)"/><ellipse cx="584.5" cy="258.9" rx="5" ry="3.2" fill="url(#aNa)"/><ellipse cx="593.3" cy="258.5" rx="5" ry="3.2" fill="url(#aNa)"/><ellipse cx="602.1" cy="258.1" rx="5" ry="3.2" fill="url(#aNa)"/><ellipse cx="532.6" cy="264.9" rx="5" ry="3.2" fill="url(#aNa)"/><ellipse cx="541.4" cy="264.5" rx="5" ry="3.2" fill="url(#aNa)"/><ellipse cx="550.2" cy="264.1" rx="5" ry="3.2" fill="url(#aNa)"/><ellipse cx="559" cy="263.7" rx="5" ry="3.2" fill="url(#aNa)"/><ellipse cx="567.8" cy="263.3" rx="5" ry="3.2" fill="url(#aNa)"/><ellipse cx="576.6" cy="262.9" rx="5" ry="3.2" fill="url(#aNa)"/><ellipse cx="585.4" cy="262.5" rx="5" ry="3.2" fill="url(#aNa)"/><ellipse cx="594.2" cy="262.1" rx="5" ry="3.2" fill="url(#aNa)"/><ellipse cx="603" cy="261.7" rx="5" ry="3.2" fill="url(#aNa)"/><ellipse cx="533.5" cy="268.5" rx="5" ry="3.2" fill="url(#aNa)"/><ellipse cx="542.3" cy="268.1" rx="5" ry="3.2" fill="url(#aNa)"/><ellipse cx="551.1" cy="267.7" rx="5" ry="3.2" fill="url(#aNa)"/><ellipse cx="559.9" cy="267.3" rx="5" ry="3.2" fill="url(#aNa)"/><ellipse cx="568.7" cy="266.9" rx="5" ry="3.2" fill="url(#aNa)"/><ellipse cx="577.5" cy="266.5" rx="5" ry="3.2" fill="url(#aNa)"/><ellipse cx="586.3" cy="266.1" rx="5" ry="3.2" fill="url(#aNa)"/><ellipse cx="595.1" cy="265.7" rx="5" ry="3.2" fill="url(#aNa)"/><ellipse cx="603.9" cy="265.3" rx="5" ry="3.2" fill="url(#aNa)"/><ellipse cx="534.4" cy="272.1" rx="5" ry="4.6" fill="url(#aNa)"/><ellipse cx="543.2" cy="271.7" rx="5" ry="4.6" fill="url(#aNa)"/><ellipse cx="552" cy="271.3" rx="5" ry="4.6" fill="url(#aNa)"/><ellipse cx="560.8" cy="270.9" rx="5" ry="4.6" fill="url(#aNa)"/><ellipse cx="569.6" cy="270.5" rx="5" ry="4.6" fill="url(#aNa)"/><ellipse cx="578.4" cy="270.1" rx="5" ry="4.6" fill="url(#aNa)"/><ellipse cx="587.2" cy="269.7" rx="5" ry="4.6" fill="url(#aNa)"/><ellipse cx="596" cy="269.3" rx="5" ry="4.6" fill="url(#aNa)"/><ellipse cx="604.8" cy="268.9" rx="5" ry="4.6" fill="url(#aNa)"/><ellipse cx="535" cy="274.3" rx="1.8" ry="0.9" fill="#fff" opacity="0.95"/><ellipse cx="538" cy="281.5" rx="0.9" ry="0.9" fill="#fff" opacity="0.8"/><ellipse cx="543.6" cy="273.95" rx="1.8" ry="0.9" fill="#fff" opacity="0.95"/><ellipse cx="546.6" cy="281.15" rx="0.9" ry="0.9" fill="#fff" opacity="0.8"/><ellipse cx="552.2" cy="273.6" rx="1.8" ry="0.9" fill="#fff" opacity="0.95"/><ellipse cx="555.2" cy="280.8" rx="0.9" ry="0.9" fill="#fff" opacity="0.8"/><ellipse cx="560.8" cy="273.25" rx="1.8" ry="0.9" fill="#fff" opacity="0.95"/><ellipse cx="563.8" cy="280.45" rx="0.9" ry="0.9" fill="#fff" opacity="0.8"/><ellipse cx="569.4" cy="272.9" rx="1.8" ry="0.9" fill="#fff" opacity="0.95"/><ellipse cx="572.4" cy="280.1" rx="0.9" ry="0.9" fill="#fff" opacity="0.8"/><ellipse cx="578" cy="272.55" rx="1.8" ry="0.9" fill="#fff" opacity="0.95"/><ellipse cx="581" cy="279.75" rx="0.9" ry="0.9" fill="#fff" opacity="0.8"/><ellipse cx="586.6" cy="272.2" rx="1.8" ry="0.9" fill="#fff" opacity="0.95"/><ellipse cx="589.6" cy="279.4" rx="0.9" ry="0.9" fill="#fff" opacity="0.8"/><ellipse cx="595.2" cy="271.85" rx="1.8" ry="0.9" fill="#fff" opacity="0.95"/><ellipse cx="598.2" cy="279.05" rx="0.9" ry="0.9" fill="#fff" opacity="0.8"/><ellipse cx="603.8" cy="271.5" rx="1.8" ry="0.9" fill="#fff" opacity="0.95"/><ellipse cx="606.8" cy="278.7" rx="0.9" ry="0.9" fill="#fff" opacity="0.8"/></g>
<text x="525.5" y="240.2" font-size="16.1">Na spheres</text>
</g>
<g id="panel-b">
<text x="676.5" y="23.5" font-size="32">b</text>
<path d="M745.66 265.81 L746.78 206.36 L748.38 166.72 L750.29 155.71 L753.17 151.97 L758.28 152.41 L771.07 154.17 L793.44 155.05 L841.38 155.49 L905.29 155.49 L953.23 154.83 L994.77 153.51 L1020.34 151.75 L1028.01 150.87 L1043.99 148.67 L1053.58 146.47 L1058.37 144.7 L1063.17 140.74 L1068.28 133.47 L1071.79 125.99 L1074.67 118.28 L1076.91 108.37 L1078.51 100.66 L1080.1 87.45 L1081.38 75.56 L1082.34 74.24" fill="none" stroke="#1e9ff2" stroke-width="2" stroke-linejoin="round"/>
<path d="M745.66 96.26 L747.42 129.29 L750.29 162.32 L753.81 176.63 L758.28 179.5 L777.46 180.82 L841.38 181.7 L937.25 183.24 L1001.17 186.1 L1033.12 189.4 L1052.3 192.71 L1061.89 196.45 L1068.28 201.52 L1072.43 208.56 L1075.31 221.77 L1077.55 246 L1079.14 283.43 L1080.74 325.27 L1082.02 360.5" fill="none" stroke="#1e9ff2" stroke-width="2" stroke-linejoin="round"/>
<path d="M745.66 265.81 L746.78 206.36 L748.38 166.72 L750.29 155.71 L753.17 151.97 L758.28 152.41 L771.07 154.17 L793.44 155.05 L841.38 155.49 L905.29 155.49 L953.23 154.83 L994.77 153.51 L1020.34 151.75 L1025.45 150.87 L1041.43 148.67 L1051.02 146.47 L1055.82 144.7 L1060.61 140.74 L1065.72 133.47 L1069.24 125.99 L1072.11 118.28 L1074.35 108.37 L1075.95 100.66 L1077.55 87.45 L1078.83 75.56 L1079.78 74.24" fill="none" stroke="#bfe8f6" stroke-width="2" stroke-linejoin="round"/>
<path d="M745.66 96.26 L747.42 129.29 L750.29 162.32 L753.81 176.19 L758.28 179.06 L777.46 180.38 L841.38 181.26 L937.25 182.8 L1001.17 185.66 L1033.12 189.18 L1049.1 192.71 L1058.69 196.45 L1065.08 201.52 L1069.56 208.56 L1072.75 223.98 L1075.31 250.4 L1076.91 283.43 L1078.19 325.27 L1079.14 360.5" fill="none" stroke="#bfe8f6" stroke-width="2" stroke-linejoin="round"/>
<path d="M745.66 265.81 L746.78 206.36 L748.38 166.72 L750.29 155.71 L753.17 151.97 L758.28 152.41 L771.07 154.17 L793.44 155.05 L841.38 155.49 L905.29 155.49 L953.23 154.83 L994.77 153.51 L1020.34 151.75 L1023.54 150.87 L1039.52 148.67 L1049.1 146.47 L1053.9 144.7 L1058.69 140.74 L1063.81 133.47 L1067.32 125.99 L1070.2 118.28 L1072.43 108.37 L1074.03 100.66 L1075.63 87.45 L1076.91 75.56 L1077.87 74.24" fill="none" stroke="#f6e04c" stroke-width="2" stroke-linejoin="round"/>
<path d="M745.66 96.26 L747.42 129.29 L750.29 162.32 L753.81 175.75 L758.28 178.61 L777.46 179.94 L841.38 180.82 L937.25 182.36 L1001.17 185.22 L1026.73 188.3 L1042.71 191.83 L1053.9 196.45 L1061.25 204.16 L1066.36 215.17 L1069.56 232.78 L1071.79 254.8 L1073.71 283.43 L1075.63 325.27 L1076.91 360.5" fill="none" stroke="#f6e04c" stroke-width="2" stroke-linejoin="round"/>
<path d="M745.66 265.81 L746.78 206.36 L748.38 166.72 L750.29 155.71 L753.17 151.97 L758.28 152.41 L771.07 154.17 L793.44 155.05 L841.38 155.49 L905.29 155.49 L953.23 154.83 L994.77 153.51 L1020.34 151.75 L1022.26 150.87 L1038.24 148.67 L1047.83 146.47 L1052.62 144.7 L1057.41 140.74 L1062.53 133.47 L1066.04 125.99 L1068.92 118.28 L1071.16 108.37 L1072.75 100.66 L1074.35 87.45 L1075.63 75.56 L1076.59 74.24" fill="none" stroke="#f5a528" stroke-width="2" stroke-linejoin="round"/>
<path d="M745.66 96.26 L747.42 129.29 L750.29 162.32 L753.81 175.75 L758.28 178.61 L777.46 179.94 L841.38 180.82 L937.25 182.58 L994.77 185.66 L1017.15 188.74 L1033.12 192.71 L1045.91 198.65 L1053.9 206.36 L1059.33 217.37 L1063.49 230.58 L1067 250.4 L1070.2 276.82 L1072.43 305.45 L1074.03 338.48 L1074.99 360.5" fill="none" stroke="#f5a528" stroke-width="2" stroke-linejoin="round"/>
<path d="M745.66 265.81 L746.78 206.36 L748.38 166.72 L750.29 155.71 L753.17 151.97 L758.28 152.41 L771.07 154.17 L793.44 155.05 L841.38 155.49 L905.29 155.49 L953.23 154.83 L994.77 153.51 L1020.34 151.75 L1020.34 150.87 L1036.32 148.67 L1045.91 146.47 L1050.7 144.7 L1055.5 140.74 L1060.61 133.47 L1064.12 125.99 L1067 118.28 L1069.24 108.37 L1070.84 100.66 L1072.43 87.45 L1073.71 75.56 L1074.67 74.24" fill="none" stroke="#f5853a" stroke-width="2" stroke-linejoin="round"/>
<path d="M745.66 96.26 L747.42 129.29 L750.29 162.32 L753.81 175.75 L758.28 178.61 L777.46 179.94 L841.38 180.82 L937.25 182.8 L985.19 185.88 L1004.36 189.18 L1020.34 194.25 L1033.12 201.52 L1041.11 209.66 L1046.55 219.57 L1049.1 228.38 L1052.3 237.19 L1057.41 250.4 L1062.53 265.81 L1066.68 283.43 L1069.24 303.25 L1070.84 327.47 L1072.11 360.5" fill="none" stroke="#f5853a" stroke-width="2" stroke-linejoin="round"/>
<rect x="745.5" y="30.2" width="383.5" height="330.3" fill="none" stroke="#000" stroke-width="1.4"/>
<path d="M809.42 360.5v-5.5M873.33 360.5v-5.5M937.25 360.5v-5.5M1001.17 360.5v-5.5M1065.08 360.5v-5.5" stroke="#000" stroke-width="1.3" fill="none"/>
<path d="M777.46 360.5v-3M841.38 360.5v-3M905.29 360.5v-3M969.21 360.5v-3M1033.12 360.5v-3M1097.04 360.5v-3" stroke="#000" stroke-width="1.3" fill="none"/>
<path d="M745.5 250.4h5.5M745.5 140.3h5.5" stroke="#000" stroke-width="1.3" fill="none"/>
<path d="M745.5 305.45h3M745.5 195.35h3M745.5 85.25h3" stroke="#000" stroke-width="1.3" fill="none"/>
<text x="745.5" y="384" font-size="19" text-anchor="middle">0</text>
<text x="809.42" y="384" font-size="19" text-anchor="middle">20</text>
<text x="873.33" y="384" font-size="19" text-anchor="middle">40</text>
<text x="937.25" y="384" font-size="19" text-anchor="middle">60</text>
<text x="1001.17" y="384" font-size="19" text-anchor="middle">80</text>
<text x="1065.08" y="384" font-size="19" text-anchor="middle">100</text>
<text x="1129" y="384" font-size="19" text-anchor="middle">120</text>
<text x="738.3" y="367.3" font-size="19" text-anchor="end">2.5</text>
<text x="738.3" y="257.2" font-size="19" text-anchor="end">3.0</text>
<text x="738.3" y="147.1" font-size="19" text-anchor="end">3.5</text>
<text x="738.3" y="37" font-size="19" text-anchor="end">4.0</text>
<text x="937.5" y="422.5" font-size="25.6" text-anchor="middle">Specific capacity (mAh g<tspan font-size="17" baseline-shift="9" dx="1.5">-1</tspan>)</text>
<text x="691.5" y="195.5" font-size="25.7" text-anchor="middle" transform="rotate(-90 691.5 195.5)">Voltage (V)</text>
<text x="768.5" y="55.5" font-size="18.6">Specific current: 117.6 mA g<tspan font-size="12" baseline-shift="7">-1</tspan></text>
<text x="1072.5" y="55.5" font-size="18.6">25 °C</text>
<text x="759.5" y="87.7" font-size="18.6">HPJH-AlSi/Na||NVP (5 mg cm<tspan font-size="12" baseline-shift="7">-2</tspan>)</text>
<line x1="768.3" y1="228" x2="813.8" y2="228" stroke="#1e9ff2" stroke-width="2"/>
<text x="824" y="235.2" font-size="18.9">100</text>
<text x="861.5" y="226.5" font-size="12.5">th</text>
<line x1="768.3" y1="255.1" x2="813.8" y2="255.1" stroke="#bfe8f6" stroke-width="2"/>
<text x="824" y="262.3" font-size="18.9">200</text>
<text x="861.5" y="253.6" font-size="12.5">th</text>
<line x1="768.3" y1="282.2" x2="813.8" y2="282.2" stroke="#f6e04c" stroke-width="2"/>
<text x="824" y="289.4" font-size="18.9">300</text>
<text x="861.5" y="280.7" font-size="12.5">th</text>
<line x1="768.3" y1="309.3" x2="813.8" y2="309.3" stroke="#f5a528" stroke-width="2"/>
<text x="824" y="316.5" font-size="18.9">400</text>
<text x="861.5" y="307.8" font-size="12.5">th</text>
<line x1="768.3" y1="336.4" x2="813.8" y2="336.4" stroke="#f5853a" stroke-width="2"/>
<text x="824" y="343.6" font-size="18.9">500</text>
<text x="863" y="334.9" font-size="12.5">th</text>
</g>
<g id="panel-c">
<text x="1204.5" y="22.5" font-size="32">c</text>
<clipPath id="cclip1"><rect x="1288.6" y="30.2" width="420" height="331.1"/></clipPath><clipPath id="cclip2"><rect x="1735.8" y="30.2" width="192" height="331.1"/></clipPath>
<g clip-path="url(#cclip1)">
<path d="M1373.32 171.63 L1375 170.68 L1376.67 168.55 L1378.77 207.1 L1380.03 212.31 L1380.45 283.26 L1381.29 287.99 L1383.38 350.66" fill="none" stroke="#c8c8c8" stroke-width="0.8"/>
<g fill="url(#gG)"><circle cx="1289.44" cy="156.39" r="5.6"/><circle cx="1291.96" cy="156.94" r="5.6"/><circle cx="1294.47" cy="157.27" r="5.6"/><circle cx="1296.99" cy="157.54" r="5.6"/><circle cx="1299.5" cy="157.77" r="5.6"/><circle cx="1302.02" cy="157.97" r="5.6"/><circle cx="1304.54" cy="158.15" r="5.6"/><circle cx="1307.05" cy="158.31" r="5.6"/><circle cx="1309.57" cy="158.46" r="5.6"/><circle cx="1312.09" cy="158.61" r="5.6"/><circle cx="1314.6" cy="158.74" r="5.6"/><circle cx="1317.12" cy="158.87" r="5.6"/><circle cx="1319.64" cy="158.99" r="5.6"/><circle cx="1322.15" cy="159.11" r="5.6"/><circle cx="1324.67" cy="159.22" r="5.6"/><circle cx="1327.18" cy="159.33" r="5.6"/><circle cx="1329.7" cy="159.44" r="5.6"/><circle cx="1332.22" cy="159.54" r="5.6"/><circle cx="1334.73" cy="159.64" r="5.6"/><circle cx="1337.25" cy="159.73" r="5.6"/><circle cx="1339.77" cy="159.82" r="5.6"/><circle cx="1342.28" cy="159.91" r="5.6"/><circle cx="1344.8" cy="160" r="5.6"/><circle cx="1359.48" cy="166.66" r="5.6"/><circle cx="1373.32" cy="171.63" r="5.6"/><circle cx="1375" cy="170.68" r="5.6"/><circle cx="1376.67" cy="168.55" r="5.6"/><circle cx="1378.77" cy="207.1" r="5.6"/><circle cx="1380.03" cy="212.31" r="5.6"/><circle cx="1380.45" cy="283.26" r="5.6"/><circle cx="1381.29" cy="287.99" r="5.6"/><circle cx="1383.38" cy="350.66" r="5.6"/></g>
<g fill="url(#gB)"><circle cx="1289.44" cy="156.54" r="5.6"/><circle cx="1291.12" cy="156.87" r="5.6"/><circle cx="1292.79" cy="156.88" r="5.6"/><circle cx="1294.47" cy="157.42" r="5.6"/><circle cx="1296.15" cy="157.57" r="5.6"/><circle cx="1297.83" cy="157.68" r="5.6"/><circle cx="1299.5" cy="158.11" r="5.6"/><circle cx="1301.18" cy="158.01" r="5.6"/><circle cx="1302.86" cy="158.05" r="5.6"/><circle cx="1304.54" cy="158.06" r="5.6"/><circle cx="1306.21" cy="158.66" r="5.6"/><circle cx="1307.89" cy="158.62" r="5.6"/><circle cx="1309.57" cy="158.87" r="5.6"/><circle cx="1311.25" cy="158.46" r="5.6"/><circle cx="1312.93" cy="158.63" r="5.6"/><circle cx="1314.6" cy="159.19" r="5.6"/><circle cx="1316.28" cy="158.61" r="5.6"/><circle cx="1317.96" cy="158.7" r="5.6"/><circle cx="1319.64" cy="159" r="5.6"/><circle cx="1321.31" cy="159.11" r="5.6"/><circle cx="1322.99" cy="159.51" r="5.6"/><circle cx="1324.67" cy="159.69" r="5.6"/><circle cx="1326.35" cy="159.39" r="5.6"/><circle cx="1328.02" cy="159.8" r="5.6"/><circle cx="1329.7" cy="159.77" r="5.6"/><circle cx="1331.38" cy="159.81" r="5.6"/><circle cx="1333.06" cy="160.02" r="5.6"/><circle cx="1334.73" cy="159.78" r="5.6"/><circle cx="1336.41" cy="159.86" r="5.6"/><circle cx="1338.09" cy="159.64" r="5.6"/><circle cx="1339.77" cy="159.93" r="5.6"/><circle cx="1341.44" cy="159.9" r="5.6"/><circle cx="1343.12" cy="160.06" r="5.6"/><circle cx="1344.8" cy="160.01" r="5.6"/><circle cx="1346.48" cy="160.21" r="5.6"/><circle cx="1348.15" cy="160.39" r="5.6"/><circle cx="1349.83" cy="159.94" r="5.6"/><circle cx="1351.51" cy="159.99" r="5.6"/><circle cx="1353.19" cy="160.16" r="5.6"/><circle cx="1354.87" cy="160.31" r="5.6"/><circle cx="1356.54" cy="160.64" r="5.6"/><circle cx="1358.22" cy="160.75" r="5.6"/><circle cx="1359.9" cy="160.76" r="5.6"/><circle cx="1361.58" cy="160.96" r="5.6"/><circle cx="1363.25" cy="160.52" r="5.6"/><circle cx="1364.93" cy="160.83" r="5.6"/><circle cx="1366.61" cy="160.56" r="5.6"/><circle cx="1368.29" cy="160.94" r="5.6"/><circle cx="1369.96" cy="160.58" r="5.6"/><circle cx="1371.64" cy="160.71" r="5.6"/><circle cx="1373.32" cy="161.35" r="5.6"/><circle cx="1375" cy="161.25" r="5.6"/><circle cx="1376.67" cy="160.8" r="5.6"/><circle cx="1378.35" cy="161.16" r="5.6"/><circle cx="1380.03" cy="160.84" r="5.6"/><circle cx="1381.71" cy="161.3" r="5.6"/><circle cx="1383.38" cy="161.57" r="5.6"/><circle cx="1385.06" cy="161.22" r="5.6"/><circle cx="1386.74" cy="161.16" r="5.6"/><circle cx="1388.42" cy="161.56" r="5.6"/><circle cx="1390.09" cy="160.55" r="5.6"/><circle cx="1391.77" cy="160.42" r="5.6"/><circle cx="1393.45" cy="160.01" r="5.6"/><circle cx="1395.13" cy="160.2" r="5.6"/><circle cx="1396.81" cy="160.69" r="5.6"/><circle cx="1398.48" cy="160.64" r="5.6"/><circle cx="1400.16" cy="160.79" r="5.6"/><circle cx="1401.84" cy="160.86" r="5.6"/><circle cx="1403.52" cy="160.37" r="5.6"/><circle cx="1405.19" cy="160.85" r="5.6"/><circle cx="1406.87" cy="160.62" r="5.6"/><circle cx="1408.55" cy="160.74" r="5.6"/><circle cx="1410.23" cy="160.96" r="5.6"/><circle cx="1411.9" cy="160.61" r="5.6"/><circle cx="1413.58" cy="161.08" r="5.6"/><circle cx="1415.26" cy="160.75" r="5.6"/><circle cx="1416.94" cy="161.16" r="5.6"/><circle cx="1418.61" cy="160.98" r="5.6"/><circle cx="1420.29" cy="161.17" r="5.6"/><circle cx="1421.97" cy="161.16" r="5.6"/><circle cx="1423.65" cy="160.7" r="5.6"/><circle cx="1425.32" cy="160.86" r="5.6"/><circle cx="1427" cy="161.25" r="5.6"/><circle cx="1428.68" cy="160.87" r="5.6"/><circle cx="1430.36" cy="161.38" r="5.6"/><circle cx="1432.03" cy="161.29" r="5.6"/><circle cx="1433.71" cy="161" r="5.6"/><circle cx="1435.39" cy="161.18" r="5.6"/><circle cx="1437.07" cy="161.6" r="5.6"/><circle cx="1438.75" cy="161" r="5.6"/><circle cx="1440.42" cy="161.59" r="5.6"/><circle cx="1442.1" cy="161.59" r="5.6"/><circle cx="1443.78" cy="161.26" r="5.6"/><circle cx="1445.46" cy="161.61" r="5.6"/><circle cx="1447.13" cy="161.66" r="5.6"/><circle cx="1448.81" cy="161.85" r="5.6"/><circle cx="1450.49" cy="161.88" r="5.6"/><circle cx="1452.17" cy="161.56" r="5.6"/><circle cx="1453.84" cy="161.83" r="5.6"/><circle cx="1455.52" cy="161.61" r="5.6"/><circle cx="1457.2" cy="161.81" r="5.6"/><circle cx="1458.88" cy="161.78" r="5.6"/><circle cx="1460.55" cy="161.45" r="5.6"/><circle cx="1462.23" cy="169.73" r="5.6"/><circle cx="1463.49" cy="182.74" r="5.6"/><circle cx="1464.75" cy="194.57" r="5.6"/><circle cx="1465.59" cy="200.01" r="5.6"/><circle cx="1466.43" cy="205.21" r="5.6"/><circle cx="1466.85" cy="209.94" r="5.6"/><circle cx="1468.1" cy="217.03" r="5.6"/><circle cx="1468.94" cy="222.95" r="5.6"/><circle cx="1469.78" cy="231.23" r="5.6"/><circle cx="1470.62" cy="238.32" r="5.6"/><circle cx="1471.46" cy="245.41" r="5.6"/><circle cx="1470.62" cy="250.15" r="5.6"/><circle cx="1471.88" cy="253.69" r="5.6"/></g>
<g fill="url(#gR)"><circle cx="1289.44" cy="155.22" r="5.9"/><circle cx="1290.28" cy="155.4" r="5.9"/><circle cx="1291.12" cy="155.4" r="5.9"/><circle cx="1291.96" cy="155.93" r="5.9"/><circle cx="1292.79" cy="156.07" r="5.9"/><circle cx="1293.63" cy="155.76" r="5.9"/><circle cx="1294.47" cy="155.91" r="5.9"/><circle cx="1295.31" cy="156.33" r="5.9"/><circle cx="1296.15" cy="156.45" r="5.9"/><circle cx="1296.99" cy="156.22" r="5.9"/><circle cx="1297.83" cy="156.19" r="5.9"/><circle cx="1298.67" cy="156.68" r="5.9"/><circle cx="1299.5" cy="156.33" r="5.9"/><circle cx="1300.34" cy="156.44" r="5.9"/><circle cx="1301.18" cy="156.66" r="5.9"/><circle cx="1302.02" cy="156.83" r="5.9"/><circle cx="1302.86" cy="157.07" r="5.9"/><circle cx="1303.7" cy="157.17" r="5.9"/><circle cx="1304.54" cy="156.7" r="5.9"/><circle cx="1305.38" cy="157.17" r="5.9"/><circle cx="1306.21" cy="156.96" r="5.9"/><circle cx="1307.05" cy="157.27" r="5.9"/><circle cx="1307.89" cy="157" r="5.9"/><circle cx="1308.73" cy="157.18" r="5.9"/><circle cx="1309.57" cy="157.4" r="5.9"/><circle cx="1310.41" cy="157.51" r="5.9"/><circle cx="1311.25" cy="157.25" r="5.9"/><circle cx="1312.09" cy="157.67" r="5.9"/><circle cx="1312.93" cy="157.62" r="5.9"/><circle cx="1313.76" cy="157.48" r="5.9"/><circle cx="1314.6" cy="157.36" r="5.9"/><circle cx="1315.44" cy="157.54" r="5.9"/><circle cx="1316.28" cy="157.77" r="5.9"/><circle cx="1317.12" cy="157.45" r="5.9"/><circle cx="1317.96" cy="157.9" r="5.9"/><circle cx="1318.8" cy="158.05" r="5.9"/><circle cx="1319.64" cy="157.94" r="5.9"/><circle cx="1320.47" cy="157.88" r="5.9"/><circle cx="1321.31" cy="158.14" r="5.9"/><circle cx="1322.15" cy="158.11" r="5.9"/><circle cx="1322.99" cy="158.04" r="5.9"/><circle cx="1323.83" cy="157.96" r="5.9"/><circle cx="1324.67" cy="158.25" r="5.9"/><circle cx="1325.51" cy="158.16" r="5.9"/><circle cx="1326.35" cy="157.89" r="5.9"/><circle cx="1327.18" cy="157.88" r="5.9"/><circle cx="1328.02" cy="158.1" r="5.9"/><circle cx="1328.86" cy="158.11" r="5.9"/><circle cx="1329.7" cy="158.21" r="5.9"/><circle cx="1330.54" cy="158.49" r="5.9"/><circle cx="1331.38" cy="158.59" r="5.9"/><circle cx="1332.22" cy="158.63" r="5.9"/><circle cx="1333.06" cy="158.16" r="5.9"/><circle cx="1333.9" cy="158.31" r="5.9"/><circle cx="1334.73" cy="158.19" r="5.9"/><circle cx="1335.57" cy="158.76" r="5.9"/><circle cx="1336.41" cy="158.44" r="5.9"/><circle cx="1337.25" cy="158.56" r="5.9"/><circle cx="1338.09" cy="158.45" r="5.9"/><circle cx="1338.93" cy="158.71" r="5.9"/><circle cx="1339.77" cy="158.36" r="5.9"/><circle cx="1340.61" cy="158.91" r="5.9"/><circle cx="1341.44" cy="158.68" r="5.9"/><circle cx="1342.28" cy="158.6" r="5.9"/><circle cx="1343.12" cy="158.53" r="5.9"/><circle cx="1343.96" cy="158.66" r="5.9"/><circle cx="1344.8" cy="158.7" r="5.9"/><circle cx="1345.64" cy="158.68" r="5.9"/><circle cx="1346.48" cy="158.64" r="5.9"/><circle cx="1347.32" cy="158.99" r="5.9"/><circle cx="1348.15" cy="158.83" r="5.9"/><circle cx="1348.99" cy="158.73" r="5.9"/><circle cx="1349.83" cy="158.78" r="5.9"/><circle cx="1350.67" cy="159.06" r="5.9"/><circle cx="1351.51" cy="158.88" r="5.9"/><circle cx="1352.35" cy="158.87" r="5.9"/><circle cx="1353.19" cy="159.06" r="5.9"/><circle cx="1354.03" cy="159.06" r="5.9"/><circle cx="1354.87" cy="159.22" r="5.9"/><circle cx="1355.7" cy="159.13" r="5.9"/><circle cx="1356.54" cy="159.14" r="5.9"/><circle cx="1357.38" cy="159.47" r="5.9"/><circle cx="1358.22" cy="159.18" r="5.9"/><circle cx="1359.06" cy="159" r="5.9"/><circle cx="1359.9" cy="159.09" r="5.9"/><circle cx="1360.74" cy="159.2" r="5.9"/><circle cx="1361.58" cy="159.42" r="5.9"/><circle cx="1362.41" cy="159.25" r="5.9"/><circle cx="1363.25" cy="159.36" r="5.9"/><circle cx="1364.09" cy="159.47" r="5.9"/><circle cx="1364.93" cy="159.27" r="5.9"/><circle cx="1365.77" cy="159.72" r="5.9"/><circle cx="1366.61" cy="159.37" r="5.9"/><circle cx="1367.45" cy="159.8" r="5.9"/><circle cx="1368.29" cy="159.5" r="5.9"/><circle cx="1369.12" cy="159.59" r="5.9"/><circle cx="1369.96" cy="159.76" r="5.9"/><circle cx="1370.8" cy="159.51" r="5.9"/><circle cx="1371.64" cy="159.65" r="5.9"/><circle cx="1372.48" cy="159.61" r="5.9"/><circle cx="1373.32" cy="159.46" r="5.9"/><circle cx="1374.16" cy="159.86" r="5.9"/><circle cx="1375" cy="160.02" r="5.9"/><circle cx="1375.84" cy="159.88" r="5.9"/><circle cx="1376.67" cy="159.69" r="5.9"/><circle cx="1377.51" cy="159.98" r="5.9"/><circle cx="1378.35" cy="160.02" r="5.9"/><circle cx="1379.19" cy="159.63" r="5.9"/><circle cx="1380.03" cy="159.79" r="5.9"/><circle cx="1380.87" cy="159.93" r="5.9"/><circle cx="1381.71" cy="159.7" r="5.9"/><circle cx="1382.55" cy="160.04" r="5.9"/><circle cx="1383.38" cy="159.87" r="5.9"/><circle cx="1384.22" cy="160.16" r="5.9"/><circle cx="1385.06" cy="160.05" r="5.9"/><circle cx="1385.9" cy="159.86" r="5.9"/><circle cx="1386.74" cy="159.82" r="5.9"/><circle cx="1387.58" cy="159.86" r="5.9"/><circle cx="1388.42" cy="160.16" r="5.9"/><circle cx="1389.26" cy="160.07" r="5.9"/><circle cx="1390.09" cy="160.24" r="5.9"/><circle cx="1390.93" cy="160.37" r="5.9"/><circle cx="1391.77" cy="160.18" r="5.9"/><circle cx="1392.61" cy="160.01" r="5.9"/><circle cx="1393.45" cy="160.02" r="5.9"/><circle cx="1394.29" cy="160.12" r="5.9"/><circle cx="1395.13" cy="160.01" r="5.9"/><circle cx="1395.97" cy="160.41" r="5.9"/><circle cx="1396.81" cy="160.49" r="5.9"/><circle cx="1397.64" cy="160.35" r="5.9"/><circle cx="1398.48" cy="160.47" r="5.9"/><circle cx="1399.32" cy="160.53" r="5.9"/><circle cx="1400.16" cy="160.43" r="5.9"/><circle cx="1401" cy="160.33" r="5.9"/><circle cx="1401.84" cy="160.43" r="5.9"/><circle cx="1402.68" cy="160.55" r="5.9"/><circle cx="1403.52" cy="160.27" r="5.9"/><circle cx="1404.35" cy="160.21" r="5.9"/><circle cx="1405.19" cy="160.53" r="5.9"/><circle cx="1406.03" cy="160.77" r="5.9"/><circle cx="1406.87" cy="160.81" r="5.9"/><circle cx="1407.71" cy="160.35" r="5.9"/><circle cx="1408.55" cy="160.84" r="5.9"/><circle cx="1409.39" cy="160.48" r="5.9"/><circle cx="1410.23" cy="160.58" r="5.9"/><circle cx="1411.06" cy="160.75" r="5.9"/><circle cx="1411.9" cy="160.49" r="5.9"/><circle cx="1412.74" cy="160.95" r="5.9"/><circle cx="1413.58" cy="160.9" r="5.9"/><circle cx="1414.42" cy="160.74" r="5.9"/><circle cx="1415.26" cy="161" r="5.9"/><circle cx="1416.1" cy="160.57" r="5.9"/><circle cx="1416.94" cy="160.92" r="5.9"/><circle cx="1417.78" cy="160.99" r="5.9"/><circle cx="1418.61" cy="161.06" r="5.9"/><circle cx="1419.45" cy="160.75" r="5.9"/><circle cx="1420.29" cy="160.87" r="5.9"/><circle cx="1421.13" cy="160.79" r="5.9"/><circle cx="1421.97" cy="160.79" r="5.9"/><circle cx="1422.81" cy="160.72" r="5.9"/><circle cx="1423.65" cy="160.66" r="5.9"/><circle cx="1424.49" cy="160.83" r="5.9"/><circle cx="1425.32" cy="161.12" r="5.9"/><circle cx="1426.16" cy="160.99" r="5.9"/><circle cx="1427" cy="161.17" r="5.9"/><circle cx="1427.84" cy="161.28" r="5.9"/><circle cx="1428.68" cy="161.04" r="5.9"/><circle cx="1429.52" cy="160.92" r="5.9"/><circle cx="1430.36" cy="161.24" r="5.9"/><circle cx="1431.2" cy="161.21" r="5.9"/><circle cx="1432.03" cy="161.18" r="5.9"/><circle cx="1432.87" cy="161" r="5.9"/><circle cx="1433.71" cy="161.12" r="5.9"/><circle cx="1434.55" cy="161.08" r="5.9"/><circle cx="1435.39" cy="161.02" r="5.9"/><circle cx="1436.23" cy="161.24" r="5.9"/><circle cx="1437.07" cy="161.03" r="5.9"/><circle cx="1437.91" cy="160.99" r="5.9"/><circle cx="1438.75" cy="161.47" r="5.9"/><circle cx="1439.58" cy="161" r="5.9"/><circle cx="1440.42" cy="161.14" r="5.9"/><circle cx="1441.26" cy="161.49" r="5.9"/><circle cx="1442.1" cy="161.33" r="5.9"/><circle cx="1442.94" cy="161.25" r="5.9"/><circle cx="1443.78" cy="161.1" r="5.9"/><circle cx="1444.62" cy="161.42" r="5.9"/><circle cx="1445.46" cy="161.33" r="5.9"/><circle cx="1446.29" cy="161.17" r="5.9"/><circle cx="1447.13" cy="161.23" r="5.9"/><circle cx="1447.97" cy="161.17" r="5.9"/><circle cx="1448.81" cy="161.45" r="5.9"/><circle cx="1449.65" cy="161.36" r="5.9"/><circle cx="1450.49" cy="161.63" r="5.9"/><circle cx="1451.33" cy="161.36" r="5.9"/><circle cx="1452.17" cy="161.32" r="5.9"/><circle cx="1453" cy="161.44" r="5.9"/><circle cx="1453.84" cy="161.41" r="5.9"/><circle cx="1454.68" cy="161.71" r="5.9"/><circle cx="1455.52" cy="161.34" r="5.9"/><circle cx="1456.36" cy="161.31" r="5.9"/><circle cx="1457.2" cy="161.33" r="5.9"/><circle cx="1458.04" cy="161.59" r="5.9"/><circle cx="1458.88" cy="161.46" r="5.9"/><circle cx="1459.72" cy="161.75" r="5.9"/><circle cx="1460.55" cy="161.43" r="5.9"/><circle cx="1461.39" cy="161.47" r="5.9"/><circle cx="1462.23" cy="161.78" r="5.9"/><circle cx="1463.07" cy="161.94" r="5.9"/><circle cx="1463.91" cy="161.76" r="5.9"/><circle cx="1464.75" cy="161.71" r="5.9"/><circle cx="1465.59" cy="161.6" r="5.9"/><circle cx="1466.43" cy="161.78" r="5.9"/><circle cx="1467.26" cy="162.05" r="5.9"/><circle cx="1468.1" cy="161.63" r="5.9"/><circle cx="1468.94" cy="162.06" r="5.9"/><circle cx="1469.78" cy="161.66" r="5.9"/><circle cx="1470.62" cy="162.03" r="5.9"/><circle cx="1471.46" cy="161.96" r="5.9"/><circle cx="1472.3" cy="161.71" r="5.9"/><circle cx="1473.14" cy="162.1" r="5.9"/><circle cx="1473.97" cy="162.11" r="5.9"/><circle cx="1474.81" cy="161.91" r="5.9"/><circle cx="1475.65" cy="161.81" r="5.9"/><circle cx="1476.49" cy="161.76" r="5.9"/><circle cx="1477.33" cy="161.86" r="5.9"/><circle cx="1478.17" cy="161.73" r="5.9"/><circle cx="1479.01" cy="162" r="5.9"/><circle cx="1479.85" cy="161.76" r="5.9"/><circle cx="1480.69" cy="162.26" r="5.9"/><circle cx="1481.52" cy="162.2" r="5.9"/><circle cx="1482.36" cy="162.04" r="5.9"/><circle cx="1483.2" cy="162.19" r="5.9"/><circle cx="1484.04" cy="161.96" r="5.9"/><circle cx="1484.88" cy="162.02" r="5.9"/><circle cx="1485.72" cy="162.1" r="5.9"/><circle cx="1486.56" cy="161.94" r="5.9"/><circle cx="1487.4" cy="162.11" r="5.9"/><circle cx="1488.23" cy="162.27" r="5.9"/><circle cx="1489.07" cy="162.24" r="5.9"/><circle cx="1489.91" cy="161.99" r="5.9"/><circle cx="1490.75" cy="161.98" r="5.9"/><circle cx="1491.59" cy="162.39" r="5.9"/><circle cx="1492.43" cy="162.04" r="5.9"/><circle cx="1493.27" cy="161.98" r="5.9"/><circle cx="1494.11" cy="162.25" r="5.9"/><circle cx="1494.94" cy="162.24" r="5.9"/><circle cx="1495.78" cy="162.46" r="5.9"/><circle cx="1496.62" cy="162.29" r="5.9"/><circle cx="1497.46" cy="162.32" r="5.9"/><circle cx="1498.3" cy="162.28" r="5.9"/><circle cx="1499.14" cy="162.62" r="5.9"/><circle cx="1499.98" cy="162.1" r="5.9"/><circle cx="1500.82" cy="162.37" r="5.9"/><circle cx="1501.66" cy="162.45" r="5.9"/><circle cx="1502.49" cy="162.23" r="5.9"/><circle cx="1503.33" cy="162.38" r="5.9"/><circle cx="1504.17" cy="162.44" r="5.9"/><circle cx="1505.01" cy="162.34" r="5.9"/><circle cx="1505.85" cy="162.71" r="5.9"/><circle cx="1506.69" cy="162.45" r="5.9"/><circle cx="1507.53" cy="162.54" r="5.9"/><circle cx="1508.37" cy="162.24" r="5.9"/><circle cx="1509.2" cy="162.28" r="5.9"/><circle cx="1510.04" cy="162.66" r="5.9"/><circle cx="1510.88" cy="162.56" r="5.9"/><circle cx="1511.72" cy="162.77" r="5.9"/><circle cx="1512.56" cy="162.61" r="5.9"/><circle cx="1513.4" cy="162.41" r="5.9"/><circle cx="1514.24" cy="162.37" r="5.9"/><circle cx="1515.08" cy="162.63" r="5.9"/><circle cx="1515.91" cy="162.73" r="5.9"/><circle cx="1516.75" cy="162.82" r="5.9"/><circle cx="1517.59" cy="162.59" r="5.9"/><circle cx="1518.43" cy="162.43" r="5.9"/><circle cx="1519.27" cy="162.89" r="5.9"/><circle cx="1520.11" cy="162.54" r="5.9"/><circle cx="1520.95" cy="162.98" r="5.9"/><circle cx="1521.79" cy="162.9" r="5.9"/><circle cx="1522.63" cy="162.89" r="5.9"/><circle cx="1523.46" cy="162.64" r="5.9"/><circle cx="1524.3" cy="162.86" r="5.9"/><circle cx="1525.14" cy="162.86" r="5.9"/><circle cx="1525.98" cy="162.72" r="5.9"/><circle cx="1526.82" cy="163.03" r="5.9"/><circle cx="1527.66" cy="162.68" r="5.9"/><circle cx="1528.5" cy="163.04" r="5.9"/><circle cx="1529.34" cy="162.84" r="5.9"/><circle cx="1530.17" cy="163" r="5.9"/><circle cx="1531.01" cy="163.04" r="5.9"/><circle cx="1531.85" cy="162.86" r="5.9"/><circle cx="1532.69" cy="162.93" r="5.9"/><circle cx="1533.53" cy="162.98" r="5.9"/><circle cx="1534.37" cy="162.97" r="5.9"/><circle cx="1535.21" cy="162.92" r="5.9"/><circle cx="1536.05" cy="163.14" r="5.9"/><circle cx="1536.88" cy="163.13" r="5.9"/><circle cx="1537.72" cy="162.9" r="5.9"/><circle cx="1538.56" cy="162.91" r="5.9"/><circle cx="1539.4" cy="162.98" r="5.9"/><circle cx="1540.24" cy="162.81" r="5.9"/><circle cx="1541.08" cy="162.96" r="5.9"/><circle cx="1541.92" cy="162.83" r="5.9"/><circle cx="1542.76" cy="163.2" r="5.9"/><circle cx="1543.6" cy="162.93" r="5.9"/><circle cx="1544.43" cy="162.9" r="5.9"/><circle cx="1545.27" cy="162.86" r="5.9"/><circle cx="1546.11" cy="163.21" r="5.9"/><circle cx="1546.95" cy="163.22" r="5.9"/><circle cx="1547.79" cy="162.89" r="5.9"/><circle cx="1548.63" cy="163.3" r="5.9"/><circle cx="1549.47" cy="162.87" r="5.9"/><circle cx="1550.31" cy="162.94" r="5.9"/><circle cx="1551.14" cy="163.39" r="5.9"/><circle cx="1551.98" cy="163.34" r="5.9"/><circle cx="1552.82" cy="163.07" r="5.9"/><circle cx="1553.66" cy="163.35" r="5.9"/><circle cx="1554.5" cy="163.46" r="5.9"/><circle cx="1555.34" cy="163.05" r="5.9"/><circle cx="1556.18" cy="163.3" r="5.9"/><circle cx="1557.02" cy="163.1" r="5.9"/><circle cx="1557.85" cy="163.49" r="5.9"/><circle cx="1558.69" cy="163.35" r="5.9"/><circle cx="1559.53" cy="163.2" r="5.9"/><circle cx="1560.37" cy="163.59" r="5.9"/><circle cx="1561.21" cy="163.5" r="5.9"/><circle cx="1562.05" cy="163.24" r="5.9"/><circle cx="1562.89" cy="163.12" r="5.9"/><circle cx="1563.73" cy="163.1" r="5.9"/><circle cx="1564.57" cy="163.59" r="5.9"/><circle cx="1565.4" cy="163.39" r="5.9"/><circle cx="1566.24" cy="163.25" r="5.9"/><circle cx="1567.08" cy="163.41" r="5.9"/><circle cx="1567.92" cy="163.32" r="5.9"/><circle cx="1568.76" cy="163.61" r="5.9"/><circle cx="1569.6" cy="163.69" r="5.9"/><circle cx="1570.44" cy="163.69" r="5.9"/><circle cx="1571.28" cy="163.74" r="5.9"/><circle cx="1572.11" cy="163.46" r="5.9"/><circle cx="1572.95" cy="163.49" r="5.9"/><circle cx="1573.79" cy="163.47" r="5.9"/><circle cx="1574.63" cy="163.72" r="5.9"/><circle cx="1575.47" cy="163.71" r="5.9"/><circle cx="1576.31" cy="163.71" r="5.9"/><circle cx="1577.15" cy="163.37" r="5.9"/><circle cx="1577.99" cy="163.29" r="5.9"/><circle cx="1578.82" cy="163.34" r="5.9"/><circle cx="1579.66" cy="163.82" r="5.9"/><circle cx="1580.5" cy="163.85" r="5.9"/><circle cx="1581.34" cy="163.36" r="5.9"/><circle cx="1582.18" cy="163.65" r="5.9"/><circle cx="1583.02" cy="163.49" r="5.9"/><circle cx="1583.86" cy="163.75" r="5.9"/><circle cx="1584.7" cy="163.68" r="5.9"/><circle cx="1585.54" cy="163.67" r="5.9"/><circle cx="1586.37" cy="163.73" r="5.9"/><circle cx="1587.21" cy="163.64" r="5.9"/><circle cx="1588.05" cy="163.99" r="5.9"/><circle cx="1588.89" cy="163.61" r="5.9"/><circle cx="1589.73" cy="163.54" r="5.9"/><circle cx="1590.57" cy="163.93" r="5.9"/><circle cx="1591.41" cy="163.79" r="5.9"/><circle cx="1592.25" cy="163.64" r="5.9"/><circle cx="1593.08" cy="163.84" r="5.9"/><circle cx="1593.92" cy="163.97" r="5.9"/><circle cx="1594.76" cy="164" r="5.9"/><circle cx="1595.6" cy="163.81" r="5.9"/><circle cx="1596.44" cy="164.1" r="5.9"/><circle cx="1597.28" cy="163.62" r="5.9"/><circle cx="1598.12" cy="163.68" r="5.9"/><circle cx="1598.96" cy="163.75" r="5.9"/><circle cx="1599.79" cy="163.67" r="5.9"/><circle cx="1600.63" cy="163.81" r="5.9"/><circle cx="1601.47" cy="163.95" r="5.9"/><circle cx="1602.31" cy="163.85" r="5.9"/><circle cx="1603.15" cy="163.92" r="5.9"/><circle cx="1603.99" cy="163.66" r="5.9"/><circle cx="1604.83" cy="163.77" r="5.9"/><circle cx="1605.67" cy="164.09" r="5.9"/><circle cx="1606.51" cy="163.73" r="5.9"/><circle cx="1607.34" cy="163.84" r="5.9"/><circle cx="1608.18" cy="163.83" r="5.9"/><circle cx="1609.02" cy="163.82" r="5.9"/><circle cx="1609.86" cy="164.07" r="5.9"/><circle cx="1610.7" cy="163.8" r="5.9"/><circle cx="1611.54" cy="163.82" r="5.9"/><circle cx="1612.38" cy="163.94" r="5.9"/><circle cx="1613.22" cy="163.91" r="5.9"/><circle cx="1614.05" cy="163.92" r="5.9"/><circle cx="1614.89" cy="164.13" r="5.9"/><circle cx="1615.73" cy="163.96" r="5.9"/><circle cx="1616.57" cy="164.35" r="5.9"/><circle cx="1617.41" cy="164.2" r="5.9"/><circle cx="1618.25" cy="164.14" r="5.9"/><circle cx="1619.09" cy="164.41" r="5.9"/><circle cx="1619.93" cy="164.23" r="5.9"/><circle cx="1620.76" cy="164.08" r="5.9"/><circle cx="1621.6" cy="164.1" r="5.9"/><circle cx="1622.44" cy="164.33" r="5.9"/><circle cx="1623.28" cy="163.94" r="5.9"/><circle cx="1624.12" cy="164.11" r="5.9"/><circle cx="1624.96" cy="164.3" r="5.9"/><circle cx="1625.8" cy="164.13" r="5.9"/><circle cx="1626.64" cy="164.2" r="5.9"/><circle cx="1627.48" cy="164.23" r="5.9"/><circle cx="1628.31" cy="164.32" r="5.9"/><circle cx="1629.15" cy="163.98" r="5.9"/><circle cx="1629.99" cy="164.2" r="5.9"/><circle cx="1630.83" cy="164.18" r="5.9"/><circle cx="1631.67" cy="164.15" r="5.9"/><circle cx="1632.51" cy="164.04" r="5.9"/><circle cx="1633.35" cy="164.59" r="5.9"/><circle cx="1634.19" cy="164.27" r="5.9"/><circle cx="1635.02" cy="164.21" r="5.9"/><circle cx="1635.86" cy="164.49" r="5.9"/><circle cx="1636.7" cy="164.42" r="5.9"/><circle cx="1637.54" cy="164.63" r="5.9"/><circle cx="1638.38" cy="164.56" r="5.9"/><circle cx="1639.22" cy="164.47" r="5.9"/><circle cx="1640.06" cy="164.64" r="5.9"/><circle cx="1640.9" cy="164.56" r="5.9"/><circle cx="1641.73" cy="164.2" r="5.9"/><circle cx="1642.57" cy="164.41" r="5.9"/><circle cx="1643.41" cy="164.45" r="5.9"/><circle cx="1644.25" cy="164.2" r="5.9"/><circle cx="1645.09" cy="164.43" r="5.9"/><circle cx="1645.93" cy="164.2" r="5.9"/><circle cx="1646.77" cy="164.42" r="5.9"/><circle cx="1647.61" cy="164.33" r="5.9"/><circle cx="1648.45" cy="164.76" r="5.9"/><circle cx="1649.28" cy="164.47" r="5.9"/><circle cx="1650.12" cy="164.39" r="5.9"/><circle cx="1650.96" cy="164.81" r="5.9"/><circle cx="1651.8" cy="164.31" r="5.9"/><circle cx="1652.64" cy="164.76" r="5.9"/><circle cx="1653.48" cy="164.6" r="5.9"/><circle cx="1654.32" cy="164.78" r="5.9"/><circle cx="1655.16" cy="164.6" r="5.9"/><circle cx="1655.99" cy="164.55" r="5.9"/><circle cx="1656.83" cy="164.87" r="5.9"/><circle cx="1657.67" cy="164.38" r="5.9"/><circle cx="1658.51" cy="164.69" r="5.9"/><circle cx="1659.35" cy="164.64" r="5.9"/><circle cx="1660.19" cy="164.61" r="5.9"/><circle cx="1661.03" cy="164.75" r="5.9"/><circle cx="1661.87" cy="164.81" r="5.9"/><circle cx="1662.7" cy="164.61" r="5.9"/><circle cx="1663.54" cy="164.67" r="5.9"/><circle cx="1664.38" cy="164.84" r="5.9"/><circle cx="1665.22" cy="164.6" r="5.9"/><circle cx="1666.06" cy="164.85" r="5.9"/><circle cx="1666.9" cy="165.02" r="5.9"/><circle cx="1667.74" cy="164.9" r="5.9"/><circle cx="1668.58" cy="165.03" r="5.9"/><circle cx="1669.42" cy="164.97" r="5.9"/><circle cx="1670.25" cy="164.64" r="5.9"/><circle cx="1671.09" cy="164.86" r="5.9"/><circle cx="1671.93" cy="164.58" r="5.9"/><circle cx="1672.77" cy="164.68" r="5.9"/><circle cx="1673.61" cy="165.08" r="5.9"/><circle cx="1674.45" cy="164.56" r="5.9"/><circle cx="1675.29" cy="164.6" r="5.9"/><circle cx="1676.13" cy="165.1" r="5.9"/><circle cx="1676.96" cy="164.64" r="5.9"/><circle cx="1677.8" cy="164.92" r="5.9"/><circle cx="1678.64" cy="164.9" r="5.9"/><circle cx="1679.48" cy="164.63" r="5.9"/><circle cx="1680.32" cy="165.06" r="5.9"/><circle cx="1681.16" cy="164.91" r="5.9"/><circle cx="1682" cy="164.68" r="5.9"/><circle cx="1682.84" cy="164.81" r="5.9"/><circle cx="1683.67" cy="164.97" r="5.9"/><circle cx="1684.51" cy="164.69" r="5.9"/><circle cx="1685.35" cy="164.79" r="5.9"/><circle cx="1686.19" cy="164.92" r="5.9"/><circle cx="1687.03" cy="165.21" r="5.9"/><circle cx="1687.87" cy="164.93" r="5.9"/><circle cx="1688.71" cy="165.04" r="5.9"/><circle cx="1689.55" cy="165.19" r="5.9"/><circle cx="1690.39" cy="165.29" r="5.9"/><circle cx="1691.22" cy="165.03" r="5.9"/><circle cx="1692.06" cy="165.27" r="5.9"/><circle cx="1692.9" cy="165.09" r="5.9"/><circle cx="1693.74" cy="164.98" r="5.9"/><circle cx="1694.58" cy="165.11" r="5.9"/><circle cx="1695.42" cy="165.23" r="5.9"/><circle cx="1696.26" cy="165.06" r="5.9"/><circle cx="1697.1" cy="165.16" r="5.9"/><circle cx="1697.93" cy="164.96" r="5.9"/><circle cx="1698.77" cy="165.11" r="5.9"/><circle cx="1699.61" cy="164.86" r="5.9"/><circle cx="1700.45" cy="164.89" r="5.9"/><circle cx="1701.29" cy="165.03" r="5.9"/><circle cx="1702.13" cy="165.32" r="5.9"/><circle cx="1702.97" cy="165.4" r="5.9"/><circle cx="1703.81" cy="164.97" r="5.9"/><circle cx="1704.64" cy="165.04" r="5.9"/><circle cx="1705.48" cy="165.14" r="5.9"/><circle cx="1706.32" cy="165.3" r="5.9"/><circle cx="1707.16" cy="165.36" r="5.9"/><circle cx="1708" cy="165.13" r="5.9"/></g>
<path d="M1289.92 156.81q-1.3 -2.6 0.5 -5M1292.43 157.19q-1.3 -2.6 0.5 -5M1294.95 157.48q-1.3 -2.6 0.5 -5M1297.47 157.71q-1.3 -2.6 0.5 -5M1299.98 157.92q-1.3 -2.6 0.5 -5M1302.5 158.11q-1.3 -2.6 0.5 -5M1305.01 158.27q-1.3 -2.6 0.5 -5M1307.53 158.43q-1.3 -2.6 0.5 -5M1310.05 158.58q-1.3 -2.6 0.5 -5M1312.56 158.72q-1.3 -2.6 0.5 -5M1315.08 158.85q-1.3 -2.6 0.5 -5M1317.6 158.97q-1.3 -2.6 0.5 -5M1320.11 159.09q-1.3 -2.6 0.5 -5M1322.63 159.2q-1.3 -2.6 0.5 -5M1325.15 159.31q-1.3 -2.6 0.5 -5M1327.66 159.42q-1.3 -2.6 0.5 -5M1330.18 159.52q-1.3 -2.6 0.5 -5M1332.7 159.62q-1.3 -2.6 0.5 -5M1335.21 159.72q-1.3 -2.6 0.5 -5M1337.73 159.81q-1.3 -2.6 0.5 -5M1340.24 159.9q-1.3 -2.6 0.5 -5M1342.76 159.99q-1.3 -2.6 0.5 -5M1345.28 160.08q-1.3 -2.6 0.5 -5M1347.79 160.16q-1.3 -2.6 0.5 -5M1350.31 160.25q-1.3 -2.6 0.5 -5M1352.83 160.33q-1.3 -2.6 0.5 -5M1355.34 160.41q-1.3 -2.6 0.5 -5M1357.86 160.48q-1.3 -2.6 0.5 -5M1360.38 160.56q-1.3 -2.6 0.5 -5M1362.89 160.63q-1.3 -2.6 0.5 -5M1365.41 160.71q-1.3 -2.6 0.5 -5M1367.92 160.78q-1.3 -2.6 0.5 -5M1370.44 160.85q-1.3 -2.6 0.5 -5M1372.96 160.92q-1.3 -2.6 0.5 -5M1375.47 160.99q-1.3 -2.6 0.5 -5M1377.99 161.06q-1.3 -2.6 0.5 -5M1380.51 161.12q-1.3 -2.6 0.5 -5M1383.02 161.19q-1.3 -2.6 0.5 -5M1385.54 161.25q-1.3 -2.6 0.5 -5M1388.06 161.32q-1.3 -2.6 0.5 -5M1390.57 161.38q-1.3 -2.6 0.5 -5M1393.09 161.44q-1.3 -2.6 0.5 -5M1395.61 161.5q-1.3 -2.6 0.5 -5M1398.12 161.57q-1.3 -2.6 0.5 -5M1400.64 161.63q-1.3 -2.6 0.5 -5M1403.15 161.68q-1.3 -2.6 0.5 -5M1405.67 161.74q-1.3 -2.6 0.5 -5M1408.19 161.8q-1.3 -2.6 0.5 -5M1410.7 161.86q-1.3 -2.6 0.5 -5M1413.22 161.91q-1.3 -2.6 0.5 -5M1415.74 161.97q-1.3 -2.6 0.5 -5M1418.25 162.03q-1.3 -2.6 0.5 -5M1420.77 162.08q-1.3 -2.6 0.5 -5M1423.29 162.14q-1.3 -2.6 0.5 -5M1425.8 162.19q-1.3 -2.6 0.5 -5M1428.32 162.24q-1.3 -2.6 0.5 -5M1430.83 162.29q-1.3 -2.6 0.5 -5M1433.35 162.35q-1.3 -2.6 0.5 -5M1435.87 162.4q-1.3 -2.6 0.5 -5M1438.38 162.45q-1.3 -2.6 0.5 -5M1440.9 162.5q-1.3 -2.6 0.5 -5M1443.42 162.55q-1.3 -2.6 0.5 -5M1445.93 162.6q-1.3 -2.6 0.5 -5M1448.45 162.65q-1.3 -2.6 0.5 -5M1450.97 162.7q-1.3 -2.6 0.5 -5M1453.48 162.75q-1.3 -2.6 0.5 -5M1456 162.8q-1.3 -2.6 0.5 -5M1458.52 162.84q-1.3 -2.6 0.5 -5M1461.03 162.89q-1.3 -2.6 0.5 -5M1463.55 162.94q-1.3 -2.6 0.5 -5M1466.06 162.99q-1.3 -2.6 0.5 -5M1468.58 163.03q-1.3 -2.6 0.5 -5M1471.1 163.08q-1.3 -2.6 0.5 -5M1473.61 163.12q-1.3 -2.6 0.5 -5M1476.13 163.17q-1.3 -2.6 0.5 -5M1478.65 163.21q-1.3 -2.6 0.5 -5M1481.16 163.26q-1.3 -2.6 0.5 -5M1483.68 163.3q-1.3 -2.6 0.5 -5M1486.2 163.35q-1.3 -2.6 0.5 -5M1488.71 163.39q-1.3 -2.6 0.5 -5M1491.23 163.43q-1.3 -2.6 0.5 -5M1493.74 163.48q-1.3 -2.6 0.5 -5M1496.26 163.52q-1.3 -2.6 0.5 -5M1498.78 163.56q-1.3 -2.6 0.5 -5M1501.29 163.61q-1.3 -2.6 0.5 -5M1503.81 163.65q-1.3 -2.6 0.5 -5M1506.33 163.69q-1.3 -2.6 0.5 -5M1508.84 163.73q-1.3 -2.6 0.5 -5M1511.36 163.77q-1.3 -2.6 0.5 -5M1513.88 163.81q-1.3 -2.6 0.5 -5M1516.39 163.85q-1.3 -2.6 0.5 -5M1518.91 163.89q-1.3 -2.6 0.5 -5M1521.43 163.94q-1.3 -2.6 0.5 -5M1523.94 163.98q-1.3 -2.6 0.5 -5M1526.46 164.02q-1.3 -2.6 0.5 -5M1528.97 164.06q-1.3 -2.6 0.5 -5M1531.49 164.09q-1.3 -2.6 0.5 -5M1534.01 164.13q-1.3 -2.6 0.5 -5M1536.52 164.17q-1.3 -2.6 0.5 -5M1539.04 164.21q-1.3 -2.6 0.5 -5M1541.56 164.25q-1.3 -2.6 0.5 -5M1544.07 164.29q-1.3 -2.6 0.5 -5M1546.59 164.33q-1.3 -2.6 0.5 -5M1549.11 164.36q-1.3 -2.6 0.5 -5M1551.62 164.4q-1.3 -2.6 0.5 -5M1554.14 164.44q-1.3 -2.6 0.5 -5M1556.65 164.48q-1.3 -2.6 0.5 -5M1559.17 164.51q-1.3 -2.6 0.5 -5M1561.69 164.55q-1.3 -2.6 0.5 -5M1564.2 164.59q-1.3 -2.6 0.5 -5M1566.72 164.63q-1.3 -2.6 0.5 -5M1569.24 164.66q-1.3 -2.6 0.5 -5M1571.75 164.7q-1.3 -2.6 0.5 -5M1574.27 164.73q-1.3 -2.6 0.5 -5M1576.79 164.77q-1.3 -2.6 0.5 -5M1579.3 164.81q-1.3 -2.6 0.5 -5M1581.82 164.84q-1.3 -2.6 0.5 -5M1584.34 164.88q-1.3 -2.6 0.5 -5M1586.85 164.91q-1.3 -2.6 0.5 -5M1589.37 164.95q-1.3 -2.6 0.5 -5M1591.88 164.98q-1.3 -2.6 0.5 -5M1594.4 165.02q-1.3 -2.6 0.5 -5M1596.92 165.05q-1.3 -2.6 0.5 -5M1599.43 165.09q-1.3 -2.6 0.5 -5M1601.95 165.12q-1.3 -2.6 0.5 -5M1604.47 165.16q-1.3 -2.6 0.5 -5M1606.98 165.19q-1.3 -2.6 0.5 -5M1609.5 165.22q-1.3 -2.6 0.5 -5M1612.02 165.26q-1.3 -2.6 0.5 -5M1614.53 165.29q-1.3 -2.6 0.5 -5M1617.05 165.32q-1.3 -2.6 0.5 -5M1619.56 165.36q-1.3 -2.6 0.5 -5M1622.08 165.39q-1.3 -2.6 0.5 -5M1624.6 165.42q-1.3 -2.6 0.5 -5M1627.11 165.46q-1.3 -2.6 0.5 -5M1629.63 165.49q-1.3 -2.6 0.5 -5M1632.15 165.52q-1.3 -2.6 0.5 -5M1634.66 165.55q-1.3 -2.6 0.5 -5M1637.18 165.59q-1.3 -2.6 0.5 -5M1639.7 165.62q-1.3 -2.6 0.5 -5M1642.21 165.65q-1.3 -2.6 0.5 -5M1644.73 165.68q-1.3 -2.6 0.5 -5M1647.25 165.72q-1.3 -2.6 0.5 -5M1649.76 165.75q-1.3 -2.6 0.5 -5M1652.28 165.78q-1.3 -2.6 0.5 -5M1654.79 165.81q-1.3 -2.6 0.5 -5M1657.31 165.84q-1.3 -2.6 0.5 -5M1659.83 165.87q-1.3 -2.6 0.5 -5M1662.34 165.91q-1.3 -2.6 0.5 -5M1664.86 165.94q-1.3 -2.6 0.5 -5M1667.38 165.97q-1.3 -2.6 0.5 -5M1669.89 166q-1.3 -2.6 0.5 -5M1672.41 166.03q-1.3 -2.6 0.5 -5M1674.93 166.06q-1.3 -2.6 0.5 -5M1677.44 166.09q-1.3 -2.6 0.5 -5M1679.96 166.12q-1.3 -2.6 0.5 -5M1682.47 166.15q-1.3 -2.6 0.5 -5M1684.99 166.18q-1.3 -2.6 0.5 -5M1687.51 166.21q-1.3 -2.6 0.5 -5M1690.02 166.24q-1.3 -2.6 0.5 -5M1692.54 166.27q-1.3 -2.6 0.5 -5M1695.06 166.3q-1.3 -2.6 0.5 -5M1697.57 166.33q-1.3 -2.6 0.5 -5M1700.09 166.36q-1.3 -2.6 0.5 -5M1702.61 166.39q-1.3 -2.6 0.5 -5M1705.12 166.42q-1.3 -2.6 0.5 -5" stroke="#fff" stroke-opacity="0.7" stroke-width="1.2" fill="none" stroke-linecap="round"/>
</g>
<rect x="1288.6" y="30.2" width="420" height="331.1" fill="none" stroke="#222" stroke-width="1.3"/>
<path d="M1372.48 361.3v-5.5M1456.36 361.3v-5.5M1540.24 361.3v-5.5M1624.12 361.3v-5.5" stroke="#333" stroke-width="1.3" fill="none"/>
<path d="M1330.54 361.3v-3M1414.42 361.3v-3M1498.3 361.3v-3M1582.18 361.3v-3M1666.06 361.3v-3" stroke="#333" stroke-width="1.3" fill="none"/>
<path d="M1288.6 314h5.5M1288.6 219.4h5.5M1288.6 124.8h5.5" stroke="#333" stroke-width="1.3" fill="none"/>
<path d="M1288.6 266.7h3M1288.6 172.1h3M1288.6 77.5h3" stroke="#333" stroke-width="1.3" fill="none"/>
<text x="1288.6" y="384" font-size="19" text-anchor="middle">0</text>
<text x="1372.48" y="384" font-size="19" text-anchor="middle">100</text>
<text x="1456.36" y="384" font-size="19" text-anchor="middle">200</text>
<text x="1540.24" y="384" font-size="19" text-anchor="middle">300</text>
<text x="1624.12" y="384" font-size="19" text-anchor="middle">400</text>
<text x="1708" y="384" font-size="19" text-anchor="middle">500</text>
<text x="1282.5" y="320.8" font-size="19" text-anchor="end">40</text>
<text x="1282.5" y="226.2" font-size="19" text-anchor="end">80</text>
<text x="1282.5" y="131.6" font-size="19" text-anchor="end">120</text>
<text x="1282.5" y="37" font-size="19" text-anchor="end">160</text>
<text x="1498.5" y="422.5" font-size="25.6" text-anchor="middle">Cycle number (n)</text>
<text x="1236.8" y="195.8" font-size="25.7" text-anchor="middle" transform="rotate(-90 1236.8 195.8)">Specific capacity (mAh g<tspan font-size="17" baseline-shift="9" dx="1.5">-1</tspan>)</text>
<text x="1301.8" y="60.5" font-size="18.6">25 °C</text>
<text x="1442.3" y="60.5" font-size="18.6">Specific current: 117.6 mA g<tspan font-size="12" baseline-shift="7">-1</tspan></text>
<text x="1427.5" y="89.5" font-size="18.6">Cutoff voltage window: 2.5V-3.8V</text>
<line x1="1393.8" y1="284.3" x2="1435.6" y2="284.3" stroke="#f5b0b0" stroke-width="0.9"/>
<g fill="url(#gR)"><circle cx="1415.3" cy="284.3" r="5.7"/></g>
<text x="1441.5" y="290.6" font-size="18.5">HPJH-AlSi/Na||NVP (5 mg cm<tspan font-size="12" baseline-shift="7">-2</tspan>)</text>
<line x1="1393.8" y1="309.7" x2="1435.6" y2="309.7" stroke="#b5d5ee" stroke-width="0.9"/>
<g fill="url(#gB)"><circle cx="1415.3" cy="309.7" r="5.7"/></g>
<text x="1441.5" y="316" font-size="18.5">HPA-AlSi/Na||NVP (5 mg cm<tspan font-size="12" baseline-shift="7">-2</tspan>)</text>
<line x1="1393.8" y1="335.1" x2="1435.6" y2="335.1" stroke="#c4c4c4" stroke-width="0.9"/>
<g fill="url(#gG)"><circle cx="1415.3" cy="335.1" r="5.7"/></g>
<text x="1441.5" y="341.4" font-size="18.5">Al/Na||NVP (5 mg cm<tspan font-size="12" baseline-shift="7">-2</tspan>)</text>
<g clip-path="url(#cclip2)">
<g stroke="#9ccbee" stroke-width="0.75"><path fill="#fff" d="M1863.67 221.47h7v7.8h-7z"/><path fill="#7ab6e4" stroke="#7ab6e4" d="M1863.67 225.14h7v4.13h-7z"/><path fill="#fff" d="M1863.73 224.12h7v7.8h-7z"/><path fill="#7ab6e4" stroke="#7ab6e4" d="M1863.73 227.78h7v4.13h-7z"/><path fill="#fff" d="M1863.84 226.76h7v7.8h-7z"/><path fill="#7ab6e4" stroke="#7ab6e4" d="M1863.84 230.43h7v4.13h-7z"/><path fill="#fff" d="M1864.15 229.41h7v7.8h-7z"/><path fill="#7ab6e4" stroke="#7ab6e4" d="M1864.15 233.08h7v4.13h-7z"/><path fill="#fff" d="M1862.71 232.06h7v7.8h-7z"/><path fill="#7ab6e4" stroke="#7ab6e4" d="M1862.71 235.72h7v4.13h-7z"/><path fill="#fff" d="M1862.86 234.7h7v7.8h-7z"/><path fill="#7ab6e4" stroke="#7ab6e4" d="M1862.86 238.37h7v4.13h-7z"/><path fill="#fff" d="M1864.73 237.35h7v7.8h-7z"/><path fill="#7ab6e4" stroke="#7ab6e4" d="M1864.73 241.02h7v4.13h-7z"/><path fill="#fff" d="M1864.56 240h7v7.8h-7z"/><path fill="#7ab6e4" stroke="#7ab6e4" d="M1864.56 243.66h7v4.13h-7z"/><path fill="#fff" d="M1864.47 242.64h7v7.8h-7z"/><path fill="#7ab6e4" stroke="#7ab6e4" d="M1864.47 246.31h7v4.13h-7z"/><path fill="#fff" d="M1862.32 245.29h7v7.8h-7z"/><path fill="#7ab6e4" stroke="#7ab6e4" d="M1862.32 248.96h7v4.13h-7z"/><path fill="#fff" d="M1862.38 247.94h7v7.8h-7z"/><path fill="#7ab6e4" stroke="#7ab6e4" d="M1862.38 251.6h7v4.13h-7z"/><path fill="#fff" d="M1862.91 250.58h7v7.8h-7z"/><path fill="#7ab6e4" stroke="#7ab6e4" d="M1862.91 254.25h7v4.13h-7z"/><path fill="#fff" d="M1863.31 253.23h7v7.8h-7z"/><path fill="#7ab6e4" stroke="#7ab6e4" d="M1863.31 256.89h7v4.13h-7z"/><path fill="#fff" d="M1863.82 255.88h7v7.8h-7z"/><path fill="#7ab6e4" stroke="#7ab6e4" d="M1863.82 259.54h7v4.13h-7z"/><path fill="#fff" d="M1862.48 258.52h7v7.8h-7z"/><path fill="#7ab6e4" stroke="#7ab6e4" d="M1862.48 262.19h7v4.13h-7z"/><path fill="#fff" d="M1863.61 261.17h7v7.8h-7z"/><path fill="#7ab6e4" stroke="#7ab6e4" d="M1863.61 264.83h7v4.13h-7z"/><path fill="#fff" d="M1862.41 263.81h7v7.8h-7z"/><path fill="#7ab6e4" stroke="#7ab6e4" d="M1862.41 267.48h7v4.13h-7z"/><path fill="#fff" d="M1862.44 266.46h7v7.8h-7z"/><path fill="#7ab6e4" stroke="#7ab6e4" d="M1862.44 270.13h7v4.13h-7z"/><path fill="#fff" d="M1863.95 269.11h7v7.8h-7z"/><path fill="#7ab6e4" stroke="#7ab6e4" d="M1863.95 272.77h7v4.13h-7z"/><path fill="#fff" d="M1863.63 271.75h7v7.8h-7z"/><path fill="#7ab6e4" stroke="#7ab6e4" d="M1863.63 275.42h7v4.13h-7z"/><path fill="#fff" d="M1863.84 274.4h7v7.8h-7z"/><path fill="#7ab6e4" stroke="#7ab6e4" d="M1863.84 278.07h7v4.13h-7z"/><path fill="#fff" d="M1863.18 277.05h7v7.8h-7z"/><path fill="#7ab6e4" stroke="#7ab6e4" d="M1863.18 280.71h7v4.13h-7z"/><path fill="#fff" d="M1863.45 279.69h7v7.8h-7z"/><path fill="#7ab6e4" stroke="#7ab6e4" d="M1863.45 283.36h7v4.13h-7z"/><path fill="#fff" d="M1862.76 282.34h7v7.8h-7z"/><path fill="#7ab6e4" stroke="#7ab6e4" d="M1862.76 286.01h7v4.13h-7z"/><path fill="#fff" d="M1863.1 284.99h7v7.8h-7z"/><path fill="#7ab6e4" stroke="#7ab6e4" d="M1863.1 288.65h7v4.13h-7z"/><path fill="#fff" d="M1864.13 287.63h7v7.8h-7z"/><path fill="#7ab6e4" stroke="#7ab6e4" d="M1864.13 291.3h7v4.13h-7z"/><path fill="#fff" d="M1864.37 290.28h7v7.8h-7z"/><path fill="#7ab6e4" stroke="#7ab6e4" d="M1864.37 293.94h7v4.13h-7z"/><path fill="#fff" d="M1862.41 292.92h7v7.8h-7z"/><path fill="#7ab6e4" stroke="#7ab6e4" d="M1862.41 296.59h7v4.13h-7z"/><path fill="#fff" d="M1862.53 295.57h7v7.8h-7z"/><path fill="#7ab6e4" stroke="#7ab6e4" d="M1862.53 299.24h7v4.13h-7z"/><path fill="#fff" d="M1864.29 298.22h7v7.8h-7z"/><path fill="#7ab6e4" stroke="#7ab6e4" d="M1864.29 301.88h7v4.13h-7z"/><path fill="#fff" d="M1863.82 300.86h7v7.8h-7z"/><path fill="#7ab6e4" stroke="#7ab6e4" d="M1863.82 304.53h7v4.13h-7z"/><path fill="#fff" d="M1864.19 303.51h7v7.8h-7z"/><path fill="#7ab6e4" stroke="#7ab6e4" d="M1864.19 307.18h7v4.13h-7z"/><path fill="#fff" d="M1862.77 306.16h7v7.8h-7z"/><path fill="#7ab6e4" stroke="#7ab6e4" d="M1862.77 309.82h7v4.13h-7z"/><path fill="#fff" d="M1863.31 308.8h7v7.8h-7z"/><path fill="#7ab6e4" stroke="#7ab6e4" d="M1863.31 312.47h7v4.13h-7z"/><path fill="#fff" d="M1862.88 311.45h7v7.8h-7z"/><path fill="#7ab6e4" stroke="#7ab6e4" d="M1862.88 315.12h7v4.13h-7z"/><path fill="#fff" d="M1864.29 314.1h7v7.8h-7z"/><path fill="#7ab6e4" stroke="#7ab6e4" d="M1864.29 317.76h7v4.13h-7z"/><path fill="#fff" d="M1863.16 316.74h7v7.8h-7z"/><path fill="#7ab6e4" stroke="#7ab6e4" d="M1863.16 320.41h7v4.13h-7z"/><path fill="#fff" d="M1863.89 319.39h7v7.8h-7z"/><path fill="#7ab6e4" stroke="#7ab6e4" d="M1863.89 323.05h7v4.13h-7z"/><path fill="#fff" d="M1864.75 322.04h7v7.8h-7z"/><path fill="#7ab6e4" stroke="#7ab6e4" d="M1864.75 325.7h7v4.13h-7z"/><path fill="#fff" d="M1863.05 324.68h7v7.8h-7z"/><path fill="#7ab6e4" stroke="#7ab6e4" d="M1863.05 328.35h7v4.13h-7z"/><path fill="#fff" d="M1863.62 327.33h7v7.8h-7z"/><path fill="#7ab6e4" stroke="#7ab6e4" d="M1863.62 330.99h7v4.13h-7z"/><path fill="#fff" d="M1864.13 329.97h7v7.8h-7z"/><path fill="#7ab6e4" stroke="#7ab6e4" d="M1864.13 333.64h7v4.13h-7z"/><path fill="#fff" d="M1864.58 332.62h7v7.8h-7z"/><path fill="#7ab6e4" stroke="#7ab6e4" d="M1864.58 336.29h7v4.13h-7z"/><path fill="#fff" d="M1863.31 335.27h7v7.8h-7z"/><path fill="#7ab6e4" stroke="#7ab6e4" d="M1863.31 338.93h7v4.13h-7z"/><path fill="#fff" d="M1863.17 337.91h7v7.8h-7z"/><path fill="#7ab6e4" stroke="#7ab6e4" d="M1863.17 341.58h7v4.13h-7z"/><path fill="#fff" d="M1862.47 340.56h7v7.8h-7z"/><path fill="#7ab6e4" stroke="#7ab6e4" d="M1862.47 344.23h7v4.13h-7z"/><path fill="#fff" d="M1864.46 343.21h7v7.8h-7z"/><path fill="#7ab6e4" stroke="#7ab6e4" d="M1864.46 346.87h7v4.13h-7z"/><path fill="#fff" d="M1862.42 345.85h7v7.8h-7z"/><path fill="#7ab6e4" stroke="#7ab6e4" d="M1862.42 349.52h7v4.13h-7z"/><path fill="#fff" d="M1862.43 348.5h7v7.8h-7z"/><path fill="#7ab6e4" stroke="#7ab6e4" d="M1862.43 352.17h7v4.13h-7z"/><path fill="#fff" d="M1863.66 351.15h7v7.8h-7z"/><path fill="#7ab6e4" stroke="#7ab6e4" d="M1863.66 354.81h7v4.13h-7z"/><path fill="#fff" d="M1863.46 353.79h7v7.8h-7z"/><path fill="#7ab6e4" stroke="#7ab6e4" d="M1863.46 357.46h7v4.13h-7z"/><path fill="#fff" d="M1863.97 356.44h7v7.8h-7z"/><path fill="#7ab6e4" stroke="#7ab6e4" d="M1863.97 360.1h7v4.13h-7z"/></g>
<g stroke="#7ab6e4" stroke-width="0.75"><path fill="#fff" d="M1867 354.05h7v6.5h-7z"/><path fill="#fff" stroke="#fff" d="M1867 357.11h7v3.45h-7z"/></g>
<g stroke="#9ccbee" stroke-width="0.75"><path fill="#fff" d="M1760.5 214.5h7v7.8h-7z"/><path fill="#7ab6e4" stroke="#7ab6e4" d="M1760.5 218.17h7v4.13h-7z"/><path fill="#fff" d="M1773.4 213.3h7v7.8h-7z"/><path fill="#7ab6e4" stroke="#7ab6e4" d="M1773.4 216.97h7v4.13h-7z"/><path fill="#fff" d="M1778 213.9h7v7.8h-7z"/><path fill="#7ab6e4" stroke="#7ab6e4" d="M1778 217.57h7v4.13h-7z"/><path fill="#fff" d="M1782.1 216.6h7v7.8h-7z"/><path fill="#7ab6e4" stroke="#7ab6e4" d="M1782.1 220.27h7v4.13h-7z"/><path fill="#fff" d="M1785.2 218.4h7v7.8h-7z"/><path fill="#7ab6e4" stroke="#7ab6e4" d="M1785.2 222.07h7v4.13h-7z"/><path fill="#fff" d="M1821.2 217h7v7.8h-7z"/><path fill="#7ab6e4" stroke="#7ab6e4" d="M1821.2 220.67h7v4.13h-7z"/><path fill="#fff" d="M1825.3 212.2h7v7.8h-7z"/><path fill="#7ab6e4" stroke="#7ab6e4" d="M1825.3 215.87h7v4.13h-7z"/><path fill="#fff" d="M1832.5 218h7v7.8h-7z"/><path fill="#7ab6e4" stroke="#7ab6e4" d="M1832.5 221.67h7v4.13h-7z"/><path fill="#fff" d="M1837.7 219.5h7v7.8h-7z"/><path fill="#7ab6e4" stroke="#7ab6e4" d="M1837.7 223.17h7v4.13h-7z"/><path fill="#fff" d="M1845.9 220.7h7v7.8h-7z"/><path fill="#7ab6e4" stroke="#7ab6e4" d="M1845.9 224.37h7v4.13h-7z"/><path fill="#fff" d="M1854.2 221.5h7v7.8h-7z"/><path fill="#7ab6e4" stroke="#7ab6e4" d="M1854.2 225.17h7v4.13h-7z"/><path fill="#fff" d="M1871.7 216h7v7.8h-7z"/><path fill="#7ab6e4" stroke="#7ab6e4" d="M1871.7 219.67h7v4.13h-7z"/><path fill="#fff" d="M1892.9 211.2h7v7.8h-7z"/><path fill="#7ab6e4" stroke="#7ab6e4" d="M1892.9 214.87h7v4.13h-7z"/><path fill="#fff" d="M1905.6 212.9h7v7.8h-7z"/><path fill="#7ab6e4" stroke="#7ab6e4" d="M1905.6 216.57h7v4.13h-7z"/></g>
<g stroke="#868686" stroke-width="0.75"><path fill="#fff" d="M1855.94 356.5h8.8l-4.4 7.57z"/><path fill="#868686" d="M1855.94 356.5h8.8l-1.5 2.57h-5.81z"/><path fill="#fff" d="M1859.6 353.85h8.8l-4.4 7.57z"/><path fill="#868686" d="M1859.6 353.85h8.8l-1.5 2.57h-5.81z"/><path fill="#fff" d="M1854.22 351.21h8.8l-4.4 7.57z"/><path fill="#868686" d="M1854.22 351.21h8.8l-1.5 2.57h-5.81z"/><path fill="#fff" d="M1855.28 348.56h8.8l-4.4 7.57z"/><path fill="#868686" d="M1855.28 348.56h8.8l-1.5 2.57h-5.81z"/><path fill="#fff" d="M1858.72 345.91h8.8l-4.4 7.57z"/><path fill="#868686" d="M1858.72 345.91h8.8l-1.5 2.57h-5.81z"/><path fill="#fff" d="M1854.27 343.27h8.8l-4.4 7.57z"/><path fill="#868686" d="M1854.27 343.27h8.8l-1.5 2.57h-5.81z"/><path fill="#fff" d="M1855.97 340.62h8.8l-4.4 7.57z"/><path fill="#868686" d="M1855.97 340.62h8.8l-1.5 2.57h-5.81z"/><path fill="#fff" d="M1859.21 337.97h8.8l-4.4 7.57z"/><path fill="#868686" d="M1859.21 337.97h8.8l-1.5 2.57h-5.81z"/><path fill="#fff" d="M1858.97 335.33h8.8l-4.4 7.57z"/><path fill="#868686" d="M1858.97 335.33h8.8l-1.5 2.57h-5.81z"/><path fill="#fff" d="M1855.81 332.68h8.8l-4.4 7.57z"/><path fill="#868686" d="M1855.81 332.68h8.8l-1.5 2.57h-5.81z"/><path fill="#fff" d="M1854.74 330.03h8.8l-4.4 7.57z"/><path fill="#868686" d="M1854.74 330.03h8.8l-1.5 2.57h-5.81z"/><path fill="#fff" d="M1856.39 327.39h8.8l-4.4 7.57z"/><path fill="#868686" d="M1856.39 327.39h8.8l-1.5 2.57h-5.81z"/><path fill="#fff" d="M1859.22 324.74h8.8l-4.4 7.57z"/><path fill="#868686" d="M1859.22 324.74h8.8l-1.5 2.57h-5.81z"/><path fill="#fff" d="M1856.45 322.1h8.8l-4.4 7.57z"/><path fill="#868686" d="M1856.45 322.1h8.8l-1.5 2.57h-5.81z"/><path fill="#fff" d="M1854.54 319.45h8.8l-4.4 7.57z"/><path fill="#868686" d="M1854.54 319.45h8.8l-1.5 2.57h-5.81z"/><path fill="#fff" d="M1859.09 316.8h8.8l-4.4 7.57z"/><path fill="#868686" d="M1859.09 316.8h8.8l-1.5 2.57h-5.81z"/><path fill="#fff" d="M1858.01 314.16h8.8l-4.4 7.57z"/><path fill="#868686" d="M1858.01 314.16h8.8l-1.5 2.57h-5.81z"/><path fill="#fff" d="M1860.69 311.51h8.8l-4.4 7.57z"/><path fill="#868686" d="M1860.69 311.51h8.8l-1.5 2.57h-5.81z"/><path fill="#fff" d="M1860.86 308.86h8.8l-4.4 7.57z"/><path fill="#868686" d="M1860.86 308.86h8.8l-1.5 2.57h-5.81z"/><path fill="#fff" d="M1860.65 306.22h8.8l-4.4 7.57z"/><path fill="#868686" d="M1860.65 306.22h8.8l-1.5 2.57h-5.81z"/><path fill="#fff" d="M1857 303.57h8.8l-4.4 7.57z"/><path fill="#868686" d="M1857 303.57h8.8l-1.5 2.57h-5.81z"/><path fill="#fff" d="M1859.81 300.92h8.8l-4.4 7.57z"/><path fill="#868686" d="M1859.81 300.92h8.8l-1.5 2.57h-5.81z"/><path fill="#fff" d="M1855.98 298.28h8.8l-4.4 7.57z"/><path fill="#868686" d="M1855.98 298.28h8.8l-1.5 2.57h-5.81z"/><path fill="#fff" d="M1856.08 295.63h8.8l-4.4 7.57z"/><path fill="#868686" d="M1856.08 295.63h8.8l-1.5 2.57h-5.81z"/><path fill="#fff" d="M1856.71 292.98h8.8l-4.4 7.57z"/><path fill="#868686" d="M1856.71 292.98h8.8l-1.5 2.57h-5.81z"/><path fill="#fff" d="M1804.9 283.62h8.8l-4.4 7.57z"/><path fill="#868686" d="M1804.9 283.62h8.8l-1.5 2.57h-5.81z"/><path fill="#fff" d="M1804.9 289.82h8.8l-4.4 7.57z"/><path fill="#868686" d="M1804.9 289.82h8.8l-1.5 2.57h-5.81z"/><path fill="#fff" d="M1817.6 286.72h8.8l-4.4 7.57z"/><path fill="#868686" d="M1817.6 286.72h8.8l-1.5 2.57h-5.81z"/><path fill="#fff" d="M1825 303.12h8.8l-4.4 7.57z"/><path fill="#868686" d="M1825 303.12h8.8l-1.5 2.57h-5.81z"/><path fill="#fff" d="M1846 286.72h8.8l-4.4 7.57z"/><path fill="#868686" d="M1846 286.72h8.8l-1.5 2.57h-5.81z"/><path fill="#fff" d="M1849.1 289.82h8.8l-4.4 7.57z"/><path fill="#868686" d="M1849.1 289.82h8.8l-1.5 2.57h-5.81z"/><path fill="#fff" d="M1852.2 303.12h8.8l-4.4 7.57z"/><path fill="#868686" d="M1852.2 303.12h8.8l-1.5 2.57h-5.81z"/><path fill="#fff" d="M1869.7 289.82h8.8l-4.4 7.57z"/><path fill="#868686" d="M1869.7 289.82h8.8l-1.5 2.57h-5.81z"/><path fill="#fff" d="M1894 302.52h8.8l-4.4 7.57z"/><path fill="#868686" d="M1894 302.52h8.8l-1.5 2.57h-5.81z"/><path fill="#fff" d="M1899.2 289.12h8.8l-4.4 7.57z"/><path fill="#868686" d="M1899.2 289.12h8.8l-1.5 2.57h-5.81z"/><path fill="#fff" d="M1861.6 299.82h8.8l-4.4 7.57z"/><path fill="#868686" d="M1861.6 299.82h8.8l-1.5 2.57h-5.81z"/><path fill="#fff" d="M1863.6 316.82h8.8l-4.4 7.57z"/><path fill="#868686" d="M1863.6 316.82h8.8l-1.5 2.57h-5.81z"/><path fill="#fff" d="M1854.1 314.82h8.8l-4.4 7.57z"/><path fill="#868686" d="M1854.1 314.82h8.8l-1.5 2.57h-5.81z"/></g>
<g stroke="#f88c8c" stroke-width="0.8"><path fill="#fff" d="M1859.65 360.24h7.6v7.4h-7.6z"/><path fill="#f88c8c" stroke="#f88c8c" d="M1859.65 360.24h7.6v3.48h-7.6z"/><path fill="#fff" d="M1859.75 357.39h7.6v7.4h-7.6z"/><path fill="#f88c8c" stroke="#f88c8c" d="M1859.75 357.39h7.6v3.48h-7.6z"/><path fill="#fff" d="M1857.17 354.55h7.6v7.4h-7.6z"/><path fill="#f88c8c" stroke="#f88c8c" d="M1857.17 354.55h7.6v3.48h-7.6z"/><path fill="#fff" d="M1857.84 351.7h7.6v7.4h-7.6z"/><path fill="#f88c8c" stroke="#f88c8c" d="M1857.84 351.7h7.6v3.48h-7.6z"/><path fill="#fff" d="M1857.97 348.86h7.6v7.4h-7.6z"/><path fill="#f88c8c" stroke="#f88c8c" d="M1857.97 348.86h7.6v3.48h-7.6z"/><path fill="#fff" d="M1858 346.01h7.6v7.4h-7.6z"/><path fill="#f88c8c" stroke="#f88c8c" d="M1858 346.01h7.6v3.48h-7.6z"/><path fill="#fff" d="M1858.09 343.17h7.6v7.4h-7.6z"/><path fill="#f88c8c" stroke="#f88c8c" d="M1858.09 343.17h7.6v3.48h-7.6z"/><path fill="#fff" d="M1857.92 340.32h7.6v7.4h-7.6z"/><path fill="#f88c8c" stroke="#f88c8c" d="M1857.92 340.32h7.6v3.48h-7.6z"/><path fill="#fff" d="M1856.88 337.48h7.6v7.4h-7.6z"/><path fill="#f88c8c" stroke="#f88c8c" d="M1856.88 337.48h7.6v3.48h-7.6z"/><path fill="#fff" d="M1858.24 334.63h7.6v7.4h-7.6z"/><path fill="#f88c8c" stroke="#f88c8c" d="M1858.24 334.63h7.6v3.48h-7.6z"/><path fill="#fff" d="M1858.99 331.79h7.6v7.4h-7.6z"/><path fill="#f88c8c" stroke="#f88c8c" d="M1858.99 331.79h7.6v3.48h-7.6z"/><path fill="#fff" d="M1857.6 328.94h7.6v7.4h-7.6z"/><path fill="#f88c8c" stroke="#f88c8c" d="M1857.6 328.94h7.6v3.48h-7.6z"/><path fill="#fff" d="M1858.64 326.1h7.6v7.4h-7.6z"/><path fill="#f88c8c" stroke="#f88c8c" d="M1858.64 326.1h7.6v3.48h-7.6z"/><path fill="#fff" d="M1857.25 323.25h7.6v7.4h-7.6z"/><path fill="#f88c8c" stroke="#f88c8c" d="M1857.25 323.25h7.6v3.48h-7.6z"/><path fill="#fff" d="M1855.44 320.41h7.6v7.4h-7.6z"/><path fill="#f88c8c" stroke="#f88c8c" d="M1855.44 320.41h7.6v3.48h-7.6z"/><path fill="#fff" d="M1857.93 317.57h7.6v7.4h-7.6z"/><path fill="#f88c8c" stroke="#f88c8c" d="M1857.93 317.57h7.6v3.48h-7.6z"/><path fill="#fff" d="M1858.49 314.72h7.6v7.4h-7.6z"/><path fill="#f88c8c" stroke="#f88c8c" d="M1858.49 314.72h7.6v3.48h-7.6z"/><path fill="#fff" d="M1856 311.88h7.6v7.4h-7.6z"/><path fill="#f88c8c" stroke="#f88c8c" d="M1856 311.88h7.6v3.48h-7.6z"/><path fill="#fff" d="M1855.05 309.03h7.6v7.4h-7.6z"/><path fill="#f88c8c" stroke="#f88c8c" d="M1855.05 309.03h7.6v3.48h-7.6z"/><path fill="#fff" d="M1857.44 306.19h7.6v7.4h-7.6z"/><path fill="#f88c8c" stroke="#f88c8c" d="M1857.44 306.19h7.6v3.48h-7.6z"/><path fill="#fff" d="M1857.83 303.34h7.6v7.4h-7.6z"/><path fill="#f88c8c" stroke="#f88c8c" d="M1857.83 303.34h7.6v3.48h-7.6z"/><path fill="#fff" d="M1858.2 300.5h7.6v7.4h-7.6z"/><path fill="#f88c8c" stroke="#f88c8c" d="M1858.2 300.5h7.6v3.48h-7.6z"/><path fill="#fff" d="M1860.19 297.65h7.6v7.4h-7.6z"/><path fill="#f88c8c" stroke="#f88c8c" d="M1860.19 297.65h7.6v3.48h-7.6z"/><path fill="#fff" d="M1859.03 294.81h7.6v7.4h-7.6z"/><path fill="#f88c8c" stroke="#f88c8c" d="M1859.03 294.81h7.6v3.48h-7.6z"/><path fill="#fff" d="M1859.84 291.96h7.6v7.4h-7.6z"/><path fill="#f88c8c" stroke="#f88c8c" d="M1859.84 291.96h7.6v3.48h-7.6z"/><path fill="#fff" d="M1856.69 289.12h7.6v7.4h-7.6z"/><path fill="#f88c8c" stroke="#f88c8c" d="M1856.69 289.12h7.6v3.48h-7.6z"/><path fill="#fff" d="M1858.78 286.27h7.6v7.4h-7.6z"/><path fill="#f88c8c" stroke="#f88c8c" d="M1858.78 286.27h7.6v3.48h-7.6z"/><path fill="#fff" d="M1859.73 283.43h7.6v7.4h-7.6z"/><path fill="#f88c8c" stroke="#f88c8c" d="M1859.73 283.43h7.6v3.48h-7.6z"/><path fill="#fff" d="M1856.5 280.58h7.6v7.4h-7.6z"/><path fill="#f88c8c" stroke="#f88c8c" d="M1856.5 280.58h7.6v3.48h-7.6z"/><path fill="#fff" d="M1856.26 277.74h7.6v7.4h-7.6z"/><path fill="#f88c8c" stroke="#f88c8c" d="M1856.26 277.74h7.6v3.48h-7.6z"/><path fill="#fff" d="M1858.85 274.89h7.6v7.4h-7.6z"/><path fill="#f88c8c" stroke="#f88c8c" d="M1858.85 274.89h7.6v3.48h-7.6z"/><path fill="#fff" d="M1859.28 272.05h7.6v7.4h-7.6z"/><path fill="#f88c8c" stroke="#f88c8c" d="M1859.28 272.05h7.6v3.48h-7.6z"/><path fill="#fff" d="M1855.48 269.2h7.6v7.4h-7.6z"/><path fill="#f88c8c" stroke="#f88c8c" d="M1855.48 269.2h7.6v3.48h-7.6z"/><path fill="#fff" d="M1857.65 266.36h7.6v7.4h-7.6z"/><path fill="#f88c8c" stroke="#f88c8c" d="M1857.65 266.36h7.6v3.48h-7.6z"/><path fill="#fff" d="M1855.35 263.51h7.6v7.4h-7.6z"/><path fill="#f88c8c" stroke="#f88c8c" d="M1855.35 263.51h7.6v3.48h-7.6z"/><path fill="#fff" d="M1857.88 260.67h7.6v7.4h-7.6z"/><path fill="#f88c8c" stroke="#f88c8c" d="M1857.88 260.67h7.6v3.48h-7.6z"/><path fill="#fff" d="M1857.46 257.82h7.6v7.4h-7.6z"/><path fill="#f88c8c" stroke="#f88c8c" d="M1857.46 257.82h7.6v3.48h-7.6z"/><path fill="#fff" d="M1855.78 254.98h7.6v7.4h-7.6z"/><path fill="#f88c8c" stroke="#f88c8c" d="M1855.78 254.98h7.6v3.48h-7.6z"/><path fill="#fff" d="M1855.82 252.13h7.6v7.4h-7.6z"/><path fill="#f88c8c" stroke="#f88c8c" d="M1855.82 252.13h7.6v3.48h-7.6z"/><path fill="#fff" d="M1858.41 249.29h7.6v7.4h-7.6z"/><path fill="#f88c8c" stroke="#f88c8c" d="M1858.41 249.29h7.6v3.48h-7.6z"/><path fill="#fff" d="M1857.6 246.44h7.6v7.4h-7.6z"/><path fill="#f88c8c" stroke="#f88c8c" d="M1857.6 246.44h7.6v3.48h-7.6z"/><path fill="#fff" d="M1858.94 243.6h7.6v7.4h-7.6z"/><path fill="#f88c8c" stroke="#f88c8c" d="M1858.94 243.6h7.6v3.48h-7.6z"/><path fill="#fff" d="M1857.59 240.75h7.6v7.4h-7.6z"/><path fill="#f88c8c" stroke="#f88c8c" d="M1857.59 240.75h7.6v3.48h-7.6z"/><path fill="#fff" d="M1857.58 237.91h7.6v7.4h-7.6z"/><path fill="#f88c8c" stroke="#f88c8c" d="M1857.58 237.91h7.6v3.48h-7.6z"/><path fill="#fff" d="M1860.5 235.06h7.6v7.4h-7.6z"/><path fill="#f88c8c" stroke="#f88c8c" d="M1860.5 235.06h7.6v3.48h-7.6z"/><path fill="#fff" d="M1859.32 232.22h7.6v7.4h-7.6z"/><path fill="#f88c8c" stroke="#f88c8c" d="M1859.32 232.22h7.6v3.48h-7.6z"/><path fill="#fff" d="M1858.56 229.37h7.6v7.4h-7.6z"/><path fill="#f88c8c" stroke="#f88c8c" d="M1858.56 229.37h7.6v3.48h-7.6z"/><path fill="#fff" d="M1858.69 226.53h7.6v7.4h-7.6z"/><path fill="#f88c8c" stroke="#f88c8c" d="M1858.69 226.53h7.6v3.48h-7.6z"/><path fill="#fff" d="M1859.36 223.68h7.6v7.4h-7.6z"/><path fill="#f88c8c" stroke="#f88c8c" d="M1859.36 223.68h7.6v3.48h-7.6z"/><path fill="#fff" d="M1859.1 220.84h7.6v7.4h-7.6z"/><path fill="#f88c8c" stroke="#f88c8c" d="M1859.1 220.84h7.6v3.48h-7.6z"/><path fill="#fff" d="M1859.75 217.99h7.6v7.4h-7.6z"/><path fill="#f88c8c" stroke="#f88c8c" d="M1859.75 217.99h7.6v3.48h-7.6z"/><path fill="#fff" d="M1857.28 215.15h7.6v7.4h-7.6z"/><path fill="#f88c8c" stroke="#f88c8c" d="M1857.28 215.15h7.6v3.48h-7.6z"/><path fill="#fff" d="M1858.82 212.3h7.6v7.4h-7.6z"/><path fill="#f88c8c" stroke="#f88c8c" d="M1858.82 212.3h7.6v3.48h-7.6z"/><path fill="#fff" d="M1857.89 209.46h7.6v7.4h-7.6z"/><path fill="#f88c8c" stroke="#f88c8c" d="M1857.89 209.46h7.6v3.48h-7.6z"/><path fill="#fff" d="M1858.51 206.61h7.6v7.4h-7.6z"/><path fill="#f88c8c" stroke="#f88c8c" d="M1858.51 206.61h7.6v3.48h-7.6z"/><path fill="#fff" d="M1858.18 203.77h7.6v7.4h-7.6z"/><path fill="#f88c8c" stroke="#f88c8c" d="M1858.18 203.77h7.6v3.48h-7.6z"/><path fill="#fff" d="M1858.25 200.93h7.6v7.4h-7.6z"/><path fill="#f88c8c" stroke="#f88c8c" d="M1858.25 200.93h7.6v3.48h-7.6z"/><path fill="#fff" d="M1858.53 198.08h7.6v7.4h-7.6z"/><path fill="#f88c8c" stroke="#f88c8c" d="M1858.53 198.08h7.6v3.48h-7.6z"/><path fill="#fff" d="M1858.95 195.24h7.6v7.4h-7.6z"/><path fill="#f88c8c" stroke="#f88c8c" d="M1858.95 195.24h7.6v3.48h-7.6z"/><path fill="#fff" d="M1857.76 192.39h7.6v7.4h-7.6z"/><path fill="#f88c8c" stroke="#f88c8c" d="M1857.76 192.39h7.6v3.48h-7.6z"/><path fill="#fff" d="M1857.49 189.55h7.6v7.4h-7.6z"/><path fill="#f88c8c" stroke="#f88c8c" d="M1857.49 189.55h7.6v3.48h-7.6z"/><path fill="#fff" d="M1858.57 186.7h7.6v7.4h-7.6z"/><path fill="#f88c8c" stroke="#f88c8c" d="M1858.57 186.7h7.6v3.48h-7.6z"/><path fill="#fff" d="M1859.25 183.86h7.6v7.4h-7.6z"/><path fill="#f88c8c" stroke="#f88c8c" d="M1859.25 183.86h7.6v3.48h-7.6z"/><path fill="#fff" d="M1857.84 181.01h7.6v7.4h-7.6z"/><path fill="#f88c8c" stroke="#f88c8c" d="M1857.84 181.01h7.6v3.48h-7.6z"/><path fill="#fff" d="M1858.04 178.17h7.6v7.4h-7.6z"/><path fill="#f88c8c" stroke="#f88c8c" d="M1858.04 178.17h7.6v3.48h-7.6z"/><path fill="#fff" d="M1856.99 175.32h7.6v7.4h-7.6z"/><path fill="#f88c8c" stroke="#f88c8c" d="M1856.99 175.32h7.6v3.48h-7.6z"/><path fill="#fff" d="M1859.64 172.48h7.6v7.4h-7.6z"/><path fill="#f88c8c" stroke="#f88c8c" d="M1859.64 172.48h7.6v3.48h-7.6z"/><path fill="#fff" d="M1860.71 169.63h7.6v7.4h-7.6z"/><path fill="#f88c8c" stroke="#f88c8c" d="M1860.71 169.63h7.6v3.48h-7.6z"/><path fill="#fff" d="M1857.92 166.79h7.6v7.4h-7.6z"/><path fill="#f88c8c" stroke="#f88c8c" d="M1857.92 166.79h7.6v3.48h-7.6z"/><path fill="#fff" d="M1856.85 163.94h7.6v7.4h-7.6z"/><path fill="#f88c8c" stroke="#f88c8c" d="M1856.85 163.94h7.6v3.48h-7.6z"/><path fill="#fff" d="M1856.77 161.1h7.6v7.4h-7.6z"/><path fill="#f88c8c" stroke="#f88c8c" d="M1856.77 161.1h7.6v3.48h-7.6z"/><path fill="#fff" d="M1857.47 158.25h7.6v7.4h-7.6z"/><path fill="#f88c8c" stroke="#f88c8c" d="M1857.47 158.25h7.6v3.48h-7.6z"/><path fill="#fff" d="M1856.62 155.41h7.6v7.4h-7.6z"/><path fill="#f88c8c" stroke="#f88c8c" d="M1856.62 155.41h7.6v3.48h-7.6z"/><path fill="#fff" d="M1859.31 152.56h7.6v7.4h-7.6z"/><path fill="#f88c8c" stroke="#f88c8c" d="M1859.31 152.56h7.6v3.48h-7.6z"/><path fill="#fff" d="M1855.13 149.72h7.6v7.4h-7.6z"/><path fill="#f88c8c" stroke="#f88c8c" d="M1855.13 149.72h7.6v3.48h-7.6z"/><path fill="#fff" d="M1856.06 146.87h7.6v7.4h-7.6z"/><path fill="#f88c8c" stroke="#f88c8c" d="M1856.06 146.87h7.6v3.48h-7.6z"/><path fill="#fff" d="M1855.13 144.03h7.6v7.4h-7.6z"/><path fill="#f88c8c" stroke="#f88c8c" d="M1855.13 144.03h7.6v3.48h-7.6z"/><path fill="#fff" d="M1857.46 141.18h7.6v7.4h-7.6z"/><path fill="#f88c8c" stroke="#f88c8c" d="M1857.46 141.18h7.6v3.48h-7.6z"/><path fill="#fff" d="M1858.1 138.34h7.6v7.4h-7.6z"/><path fill="#f88c8c" stroke="#f88c8c" d="M1858.1 138.34h7.6v3.48h-7.6z"/><path fill="#fff" d="M1855.66 135.49h7.6v7.4h-7.6z"/><path fill="#f88c8c" stroke="#f88c8c" d="M1855.66 135.49h7.6v3.48h-7.6z"/><path fill="#fff" d="M1855.37 132.65h7.6v7.4h-7.6z"/><path fill="#f88c8c" stroke="#f88c8c" d="M1855.37 132.65h7.6v3.48h-7.6z"/><path fill="#fff" d="M1857.35 129.8h7.6v7.4h-7.6z"/><path fill="#f88c8c" stroke="#f88c8c" d="M1857.35 129.8h7.6v3.48h-7.6z"/><path fill="#fff" d="M1858.17 126.96h7.6v7.4h-7.6z"/><path fill="#f88c8c" stroke="#f88c8c" d="M1858.17 126.96h7.6v3.48h-7.6z"/><path fill="#fff" d="M1859.85 124.11h7.6v7.4h-7.6z"/><path fill="#f88c8c" stroke="#f88c8c" d="M1859.85 124.11h7.6v3.48h-7.6z"/><path fill="#fff" d="M1856.28 121.27h7.6v7.4h-7.6z"/><path fill="#f88c8c" stroke="#f88c8c" d="M1856.28 121.27h7.6v3.48h-7.6z"/><path fill="#fff" d="M1856.77 118.42h7.6v7.4h-7.6z"/><path fill="#f88c8c" stroke="#f88c8c" d="M1856.77 118.42h7.6v3.48h-7.6z"/><path fill="#fff" d="M1857.2 115.58h7.6v7.4h-7.6z"/><path fill="#f88c8c" stroke="#f88c8c" d="M1857.2 115.58h7.6v3.48h-7.6z"/><path fill="#fff" d="M1857.36 112.73h7.6v7.4h-7.6z"/><path fill="#f88c8c" stroke="#f88c8c" d="M1857.36 112.73h7.6v3.48h-7.6z"/><path fill="#fff" d="M1857.37 109.89h7.6v7.4h-7.6z"/><path fill="#f88c8c" stroke="#f88c8c" d="M1857.37 109.89h7.6v3.48h-7.6z"/><path fill="#fff" d="M1859.32 107.04h7.6v7.4h-7.6z"/><path fill="#f88c8c" stroke="#f88c8c" d="M1859.32 107.04h7.6v3.48h-7.6z"/><path fill="#fff" d="M1858.58 104.2h7.6v7.4h-7.6z"/><path fill="#f88c8c" stroke="#f88c8c" d="M1858.58 104.2h7.6v3.48h-7.6z"/><path fill="#fff" d="M1856.72 101.35h7.6v7.4h-7.6z"/><path fill="#f88c8c" stroke="#f88c8c" d="M1856.72 101.35h7.6v3.48h-7.6z"/><path fill="#fff" d="M1856.28 98.51h7.6v7.4h-7.6z"/><path fill="#f88c8c" stroke="#f88c8c" d="M1856.28 98.51h7.6v3.48h-7.6z"/><path fill="#fff" d="M1856.43 95.66h7.6v7.4h-7.6z"/><path fill="#f88c8c" stroke="#f88c8c" d="M1856.43 95.66h7.6v3.48h-7.6z"/><path fill="#fff" d="M1855.72 92.82h7.6v7.4h-7.6z"/><path fill="#f88c8c" stroke="#f88c8c" d="M1855.72 92.82h7.6v3.48h-7.6z"/><path fill="#fff" d="M1858.07 89.97h7.6v7.4h-7.6z"/><path fill="#f88c8c" stroke="#f88c8c" d="M1858.07 89.97h7.6v3.48h-7.6z"/><path fill="#fff" d="M1856.02 87.13h7.6v7.4h-7.6z"/><path fill="#f88c8c" stroke="#f88c8c" d="M1856.02 87.13h7.6v3.48h-7.6z"/><path fill="#fff" d="M1857.01 84.29h7.6v7.4h-7.6z"/><path fill="#f88c8c" stroke="#f88c8c" d="M1857.01 84.29h7.6v3.48h-7.6z"/><path fill="#fff" d="M1858.23 81.44h7.6v7.4h-7.6z"/><path fill="#f88c8c" stroke="#f88c8c" d="M1858.23 81.44h7.6v3.48h-7.6z"/><path fill="#fff" d="M1856.88 78.6h7.6v7.4h-7.6z"/><path fill="#f88c8c" stroke="#f88c8c" d="M1856.88 78.6h7.6v3.48h-7.6z"/><path fill="#fff" d="M1856.13 75.75h7.6v7.4h-7.6z"/><path fill="#f88c8c" stroke="#f88c8c" d="M1856.13 75.75h7.6v3.48h-7.6z"/><path fill="#fff" d="M1859.1 72.91h7.6v7.4h-7.6z"/><path fill="#f88c8c" stroke="#f88c8c" d="M1859.1 72.91h7.6v3.48h-7.6z"/><path fill="#fff" d="M1859.48 70.06h7.6v7.4h-7.6z"/><path fill="#f88c8c" stroke="#f88c8c" d="M1859.48 70.06h7.6v3.48h-7.6z"/><path fill="#fff" d="M1857.27 67.22h7.6v7.4h-7.6z"/><path fill="#f88c8c" stroke="#f88c8c" d="M1857.27 67.22h7.6v3.48h-7.6z"/><path fill="#fff" d="M1858.41 64.37h7.6v7.4h-7.6z"/><path fill="#f88c8c" stroke="#f88c8c" d="M1858.41 64.37h7.6v3.48h-7.6z"/><path fill="#fff" d="M1860.39 61.53h7.6v7.4h-7.6z"/><path fill="#f88c8c" stroke="#f88c8c" d="M1860.39 61.53h7.6v3.48h-7.6z"/><path fill="#fff" d="M1858.46 58.68h7.6v7.4h-7.6z"/><path fill="#f88c8c" stroke="#f88c8c" d="M1858.46 58.68h7.6v3.48h-7.6z"/><path fill="#fff" d="M1857.38 55.84h7.6v7.4h-7.6z"/><path fill="#f88c8c" stroke="#f88c8c" d="M1857.38 55.84h7.6v3.48h-7.6z"/><path fill="#fff" d="M1856.6 52.99h7.6v7.4h-7.6z"/><path fill="#f88c8c" stroke="#f88c8c" d="M1856.6 52.99h7.6v3.48h-7.6z"/><path fill="#fff" d="M1860.4 50.15h7.6v7.4h-7.6z"/><path fill="#f88c8c" stroke="#f88c8c" d="M1860.4 50.15h7.6v3.48h-7.6z"/><path fill="#fff" d="M1859.59 47.3h7.6v7.4h-7.6z"/><path fill="#f88c8c" stroke="#f88c8c" d="M1859.59 47.3h7.6v3.48h-7.6z"/><path fill="#fff" d="M1857.54 44.46h7.6v7.4h-7.6z"/><path fill="#f88c8c" stroke="#f88c8c" d="M1857.54 44.46h7.6v3.48h-7.6z"/><path fill="#fff" d="M1857.89 41.61h7.6v7.4h-7.6z"/><path fill="#f88c8c" stroke="#f88c8c" d="M1857.89 41.61h7.6v3.48h-7.6z"/><path fill="#fff" d="M1857.57 38.77h7.6v7.4h-7.6z"/><path fill="#f88c8c" stroke="#f88c8c" d="M1857.57 38.77h7.6v3.48h-7.6z"/><path fill="#fff" d="M1856.26 35.92h7.6v7.4h-7.6z"/><path fill="#f88c8c" stroke="#f88c8c" d="M1856.26 35.92h7.6v3.48h-7.6z"/><path fill="#fff" d="M1859.17 33.08h7.6v7.4h-7.6z"/><path fill="#f88c8c" stroke="#f88c8c" d="M1859.17 33.08h7.6v3.48h-7.6z"/><path fill="#fff" d="M1857.57 30.23h7.6v7.4h-7.6z"/><path fill="#f88c8c" stroke="#f88c8c" d="M1857.57 30.23h7.6v3.48h-7.6z"/></g>
</g>
<rect x="1735.8" y="30.2" width="192" height="331.1" fill="none" stroke="#222" stroke-width="1.3"/>
<path d="M1799.8 361.3v-5.5M1863.8 361.3v-5.5" stroke="#333" stroke-width="1.3" fill="none"/>
<path d="M1767.8 361.3v-3M1831.8 361.3v-3M1895.8 361.3v-3" stroke="#333" stroke-width="1.3" fill="none"/>
<path d="M1927.8 294.84h-5.5M1927.8 228.68h-5.5M1927.8 162.52h-5.5M1927.8 96.36h-5.5" stroke="#333" stroke-width="1.3" fill="none"/>
<path d="M1927.8 327.92h-3M1927.8 261.76h-3M1927.8 195.6h-3M1927.8 129.44h-3M1927.8 63.28h-3" stroke="#333" stroke-width="1.3" fill="none"/>
<text x="1746.6" y="384" font-size="19" text-anchor="middle">90</text>
<text x="1799.8" y="384" font-size="19" text-anchor="middle">95</text>
<text x="1863.8" y="384" font-size="19" text-anchor="middle">100</text>
<text x="1917.8" y="384" font-size="19" text-anchor="middle">105</text>
<text x="1933.5" y="367.1" font-size="19">0</text>
<text x="1933.5" y="300.94" font-size="19">100</text>
<text x="1933.5" y="234.78" font-size="19">200</text>
<text x="1933.5" y="168.62" font-size="19">300</text>
<text x="1933.5" y="102.46" font-size="19">400</text>
<text x="1933.5" y="36.3" font-size="19">500</text>
<text x="1857" y="424.5" font-size="25.3" text-anchor="middle">Coulombic efficiency (%)</text>
<text x="1993.5" y="195.5" font-size="26" text-anchor="middle" transform="rotate(-90 1993.5 195.5)">Cycle number (n)</text>
</g>
<g id="panel-d">
<text x="7" y="472.5" font-size="33">d</text>
<path d="M172.2 797.5 C171.6 760 171.8 720 171.3 680 C171 667 169.5 659 165 655 C159 649.5 148 647.5 128.4 642.6 C150 642.2 170 641.5 180.2 638.6 C180.5 600 180.6 560 181.3 530 C182 518 184 512 190 509.5 C196 507.5 230 506.5 273 505.5" fill="none" stroke="#7d7d7d" stroke-width="2.7" stroke-linejoin="round"/>
<clipPath id="dclip"><rect x="105.7" y="478.4" width="169.2" height="330"/></clipPath><g clip-path="url(#dclip)">
<circle cx="273" cy="505.6" r="4.7" fill="url(#dP)"/>
<circle cx="178.7" cy="543.8" r="4.7" fill="url(#dB)"/>
<circle cx="177.7" cy="593.6" r="4.7" fill="url(#dC)"/>
<circle cx="128.4" cy="642.6" r="4.7" fill="url(#dY)"/>
<circle cx="174.2" cy="700.6" r="4.7" fill="url(#dO)"/>
<circle cx="174.7" cy="749.9" r="4.7" fill="url(#dR)"/>
<circle cx="179.2" cy="798.2" r="4.7" fill="url(#dM)"/>
</g>
<rect x="105.7" y="478.4" width="169.2" height="330.2" fill="none" stroke="#000" stroke-width="1.3"/>
<path d="M162.1 808.6v-5.5M218.5 808.6v-5.5" stroke="#000" stroke-width="1.3" fill="none"/>
<path d="M133.9 808.6v-3M190.3 808.6v-3M246.7 808.6v-3" stroke="#000" stroke-width="1.3" fill="none"/>
<path d="M105.7 799h5.5M105.7 734.88h5.5M105.7 670.76h5.5M105.7 606.64h5.5M105.7 542.52h5.5" stroke="#000" stroke-width="1.3" fill="none"/>
<path d="M105.7 766.94h3M105.7 702.82h3M105.7 638.7h3M105.7 574.58h3M105.7 510.46h3" stroke="#000" stroke-width="1.3" fill="none"/>
<text x="105.7" y="832.5" font-size="19" text-anchor="middle">4.0</text>
<text x="162.1" y="832.5" font-size="19" text-anchor="middle">3.5</text>
<text x="218.5" y="832.5" font-size="19" text-anchor="middle">3.0</text>
<text x="274.9" y="832.5" font-size="19" text-anchor="middle">2.5</text>
<text x="98.5" y="805.8" font-size="19" text-anchor="end">0</text>
<text x="98.5" y="741.68" font-size="19" text-anchor="end">30</text>
<text x="98.5" y="677.56" font-size="19" text-anchor="end">60</text>
<text x="98.5" y="613.44" font-size="19" text-anchor="end">90</text>
<text x="98.5" y="549.32" font-size="19" text-anchor="end">120</text>
<text x="98.5" y="485.2" font-size="19" text-anchor="end">150</text>
<text x="190.5" y="869.5" font-size="26" text-anchor="middle">Voltage (V)</text>
<text x="56.3" y="644.3" font-size="25.5" text-anchor="middle" transform="rotate(-90 56.3 644.3)">Time (min)</text>
<text x="109.3" y="496" font-size="18.3">HPJH-AlSi/Na||NVP</text>
<text x="224" y="537" font-size="18.4">2.5 V</text>
<text x="112" y="634.5" font-size="18.4">3.8 V</text>
<text x="184.8" y="787.2" font-size="18.2">OCV</text>
<text x="148.5" y="560.3" font-size="18.3" text-anchor="middle" transform="rotate(-90 148.5 560.3)">Discharge</text>
<path d="M158.7 582.5V551.3" stroke="#000" stroke-width="2" fill="none"/><path d="M158.7 540.3l3.8 13q-3.8 -3 -7.6 0z" fill="#000"/>
<text x="201.7" y="710.5" font-size="18.3" text-anchor="middle" transform="rotate(90 201.7 710.5)">Charge</text>
<path d="M192.1 736.3V705.3" stroke="#000" stroke-width="2" fill="none"/><path d="M192.1 694.3l3.8 13q-3.8 -3 -7.6 0z" fill="#000"/>
<g><circle cx="341.7" cy="529.4" r="4.9" fill="url(#dP)"/><circle cx="343.27" cy="527.59" r="4.9" fill="url(#dP)"/><circle cx="345.71" cy="525.32" r="4.9" fill="url(#dP)"/><circle cx="348.63" cy="522.86" r="4.9" fill="url(#dP)"/><circle cx="351.93" cy="520.32" r="4.9" fill="url(#dP)"/><circle cx="355.52" cy="517.8" r="4.9" fill="url(#dP)"/><circle cx="359.38" cy="515.37" r="4.9" fill="url(#dP)"/><circle cx="363.47" cy="513.13" r="4.9" fill="url(#dP)"/><circle cx="367.77" cy="511.14" r="4.9" fill="url(#dP)"/><circle cx="372.26" cy="509.51" r="4.9" fill="url(#dP)"/><circle cx="376.93" cy="508.29" r="4.9" fill="url(#dP)"/><circle cx="381.77" cy="507.55" r="4.9" fill="url(#dP)"/><circle cx="386.76" cy="507.36" r="4.9" fill="url(#dP)"/><circle cx="391.91" cy="507.75" r="4.9" fill="url(#dP)"/><circle cx="397.19" cy="508.73" r="4.9" fill="url(#dP)"/><circle cx="402.6" cy="510.32" r="4.9" fill="url(#dP)"/><circle cx="408.15" cy="512.49" r="4.9" fill="url(#dP)"/><circle cx="413.82" cy="515.22" r="4.9" fill="url(#dP)"/><circle cx="419.6" cy="518.49" r="4.9" fill="url(#dP)"/><circle cx="425.5" cy="522.6" r="4.9" fill="url(#dP)"/><circle cx="430.5" cy="522.6" r="4.9" fill="url(#dP)"/><circle cx="435.6" cy="520" r="4.9" fill="url(#dP)"/></g>
<g><circle cx="341.7" cy="570.9" r="4.9" fill="url(#dB)"/><circle cx="343" cy="569.56" r="4.9" fill="url(#dB)"/><circle cx="345.01" cy="567.78" r="4.9" fill="url(#dB)"/><circle cx="347.42" cy="565.82" r="4.9" fill="url(#dB)"/><circle cx="350.13" cy="563.79" r="4.9" fill="url(#dB)"/><circle cx="353.09" cy="561.75" r="4.9" fill="url(#dB)"/><circle cx="356.27" cy="559.8" r="4.9" fill="url(#dB)"/><circle cx="359.64" cy="558.02" r="4.9" fill="url(#dB)"/><circle cx="363.18" cy="556.5" r="4.9" fill="url(#dB)"/><circle cx="366.89" cy="555.31" r="4.9" fill="url(#dB)"/><circle cx="370.73" cy="554.55" r="4.9" fill="url(#dB)"/><circle cx="374.72" cy="554.29" r="4.9" fill="url(#dB)"/><circle cx="378.84" cy="554.57" r="4.9" fill="url(#dB)"/><circle cx="383.08" cy="555.44" r="4.9" fill="url(#dB)"/><circle cx="387.43" cy="556.92" r="4.9" fill="url(#dB)"/><circle cx="391.89" cy="559" r="4.9" fill="url(#dB)"/><circle cx="396.46" cy="561.66" r="4.9" fill="url(#dB)"/><circle cx="401.13" cy="564.87" r="4.9" fill="url(#dB)"/><circle cx="405.9" cy="568.9" r="4.9" fill="url(#dB)"/></g>
<g><circle cx="341.7" cy="612.4" r="4.9" fill="url(#dC)"/><circle cx="342.86" cy="611.26" r="4.9" fill="url(#dC)"/><circle cx="344.66" cy="609.77" r="4.9" fill="url(#dC)"/><circle cx="346.82" cy="608.15" r="4.9" fill="url(#dC)"/><circle cx="349.26" cy="606.52" r="4.9" fill="url(#dC)"/><circle cx="351.91" cy="605" r="4.9" fill="url(#dC)"/><circle cx="354.76" cy="603.69" r="4.9" fill="url(#dC)"/><circle cx="357.78" cy="602.71" r="4.9" fill="url(#dC)"/><circle cx="360.96" cy="602.17" r="4.9" fill="url(#dC)"/><circle cx="364.28" cy="602.16" r="4.9" fill="url(#dC)"/><circle cx="367.73" cy="602.75" r="4.9" fill="url(#dC)"/><circle cx="371.31" cy="603.97" r="4.9" fill="url(#dC)"/><circle cx="375" cy="605.8" r="4.9" fill="url(#dC)"/><circle cx="378.8" cy="608.23" r="4.9" fill="url(#dC)"/><circle cx="382.7" cy="611.4" r="4.9" fill="url(#dC)"/></g>
<g><circle cx="341.7" cy="652.7" r="4.9" fill="url(#dY)"/><circle cx="342.88" cy="651.63" r="4.9" fill="url(#dY)"/><circle cx="344.71" cy="650.24" r="4.9" fill="url(#dY)"/><circle cx="346.91" cy="648.76" r="4.9" fill="url(#dY)"/><circle cx="349.38" cy="647.29" r="4.9" fill="url(#dY)"/><circle cx="352.08" cy="645.97" r="4.9" fill="url(#dY)"/><circle cx="354.97" cy="644.92" r="4.9" fill="url(#dY)"/><circle cx="358.05" cy="644.27" r="4.9" fill="url(#dY)"/><circle cx="361.27" cy="644.11" r="4.9" fill="url(#dY)"/><circle cx="364.65" cy="644.55" r="4.9" fill="url(#dY)"/><circle cx="368.16" cy="645.62" r="4.9" fill="url(#dY)"/><circle cx="371.79" cy="647.33" r="4.9" fill="url(#dY)"/><circle cx="375.54" cy="649.65" r="4.9" fill="url(#dY)"/><circle cx="379.4" cy="652.7" r="4.9" fill="url(#dY)"/></g>
<g><circle cx="341.7" cy="693" r="4.9" fill="url(#dO)"/><circle cx="342.88" cy="691.96" r="4.9" fill="url(#dO)"/><circle cx="344.71" cy="690.6" r="4.9" fill="url(#dO)"/><circle cx="346.91" cy="689.14" r="4.9" fill="url(#dO)"/><circle cx="349.38" cy="687.7" r="4.9" fill="url(#dO)"/><circle cx="352.08" cy="686.39" r="4.9" fill="url(#dO)"/><circle cx="354.97" cy="685.34" r="4.9" fill="url(#dO)"/><circle cx="358.05" cy="684.66" r="4.9" fill="url(#dO)"/><circle cx="361.27" cy="684.45" r="4.9" fill="url(#dO)"/><circle cx="364.65" cy="684.8" r="4.9" fill="url(#dO)"/><circle cx="368.16" cy="685.76" r="4.9" fill="url(#dO)"/><circle cx="371.79" cy="687.32" r="4.9" fill="url(#dO)"/><circle cx="375.54" cy="689.46" r="4.9" fill="url(#dO)"/><circle cx="379.4" cy="692.3" r="4.9" fill="url(#dO)"/></g>
<g><circle cx="341.7" cy="732.5" r="4.9" fill="url(#dR)"/><circle cx="343.03" cy="731.25" r="4.9" fill="url(#dR)"/><circle cx="345.1" cy="729.6" r="4.9" fill="url(#dR)"/><circle cx="347.57" cy="727.81" r="4.9" fill="url(#dR)"/><circle cx="350.36" cy="726" r="4.9" fill="url(#dR)"/><circle cx="353.41" cy="724.28" r="4.9" fill="url(#dR)"/><circle cx="356.67" cy="722.8" r="4.9" fill="url(#dR)"/><circle cx="360.14" cy="721.65" r="4.9" fill="url(#dR)"/><circle cx="363.78" cy="720.97" r="4.9" fill="url(#dR)"/><circle cx="367.59" cy="720.84" r="4.9" fill="url(#dR)"/><circle cx="371.54" cy="721.34" r="4.9" fill="url(#dR)"/><circle cx="375.64" cy="722.51" r="4.9" fill="url(#dR)"/><circle cx="379.87" cy="724.33" r="4.9" fill="url(#dR)"/><circle cx="384.23" cy="726.78" r="4.9" fill="url(#dR)"/><circle cx="388.7" cy="730" r="4.9" fill="url(#dR)"/></g>
<g><circle cx="341.7" cy="778.6" r="4.9" fill="url(#dM)"/><circle cx="343.04" cy="777.01" r="4.9" fill="url(#dM)"/><circle cx="345.11" cy="775.02" r="4.9" fill="url(#dM)"/><circle cx="347.6" cy="772.88" r="4.9" fill="url(#dM)"/><circle cx="350.4" cy="770.67" r="4.9" fill="url(#dM)"/><circle cx="353.46" cy="768.5" r="4.9" fill="url(#dM)"/><circle cx="356.75" cy="766.44" r="4.9" fill="url(#dM)"/><circle cx="360.23" cy="764.58" r="4.9" fill="url(#dM)"/><circle cx="363.89" cy="762.99" r="4.9" fill="url(#dM)"/><circle cx="367.71" cy="761.75" r="4.9" fill="url(#dM)"/><circle cx="371.68" cy="760.92" r="4.9" fill="url(#dM)"/><circle cx="375.8" cy="760.58" r="4.9" fill="url(#dM)"/><circle cx="380.05" cy="760.76" r="4.9" fill="url(#dM)"/><circle cx="384.43" cy="761.49" r="4.9" fill="url(#dM)"/><circle cx="388.92" cy="762.77" r="4.9" fill="url(#dM)"/><circle cx="393.53" cy="764.61" r="4.9" fill="url(#dM)"/><circle cx="398.25" cy="766.96" r="4.9" fill="url(#dM)"/><circle cx="403.08" cy="769.81" r="4.9" fill="url(#dM)"/><circle cx="408" cy="773.4" r="4.9" fill="url(#dM)"/><circle cx="413.5" cy="773.6" r="4.9" fill="url(#dM)"/><circle cx="419.2" cy="771.8" r="4.9" fill="url(#dM)"/></g>
<rect x="292.6" y="478.4" width="244.2" height="329.8" fill="none" stroke="#000" stroke-width="1.3"/>
<path d="M341.4 808.2v-5.5M439.1 808.2v-5.5" stroke="#000" stroke-width="1.3" fill="none"/>
<path d="M390.25 808.2v-3M487.95 808.2v-3" stroke="#000" stroke-width="1.3" fill="none"/>
<text x="341.4" y="832.5" font-size="19" text-anchor="middle">0</text>
<text x="439.1" y="832.5" font-size="19" text-anchor="middle">1000</text>
<text x="536.8" y="832.5" font-size="19" text-anchor="middle">2000</text>
<text x="415" y="869.5" font-size="26" text-anchor="middle"><tspan font-style="italic">Z</tspan>' (ohm)</text>
<text x="486.3" y="500.2" font-size="18.3">25 °C</text>
<text x="297.4" y="522" font-size="17.6">2.5V</text>
<text x="297.4" y="677.3" font-size="17.6">3.8 V</text>
<text x="295.3" y="800.7" font-size="17.6">OCV</text>
<text x="474.8" y="795.2" font-size="17.6">200 Ω</text>
<path d="M464.3 782V795.6M461.8 782h5M461.8 795.6h5" stroke="#000" stroke-width="1.8" fill="none"/>
<text x="496.3" y="604.5" font-size="18.3" text-anchor="middle" transform="rotate(90 496.3 604.5)">Discharge</text>
<path d="M477.6 609.3V576.5" stroke="#000" stroke-width="2" fill="none"/><path d="M477.6 565.5l3.8 13q-3.8 -3 -7.6 0z" fill="#000"/>
<text x="496.3" y="726.8" font-size="18.3" text-anchor="middle" transform="rotate(90 496.3 726.8)">Charge</text>
<path d="M477.6 738.3V706.3" stroke="#000" stroke-width="2" fill="none"/><path d="M477.6 695.3l3.8 13q-3.8 -3 -7.6 0z" fill="#000"/>
</g>
<g id="panel-e">
<text x="584" y="472.5" font-size="33">e</text>
<g clip-path="url(#eclip)"><g filter="url(#ebv)">
<rect x="656.5" y="466.5" width="351.1" height="8.5" fill="url(#er0)"/>
<rect x="656.5" y="474.5" width="351.1" height="8.5" fill="url(#er1)"/>
<rect x="656.5" y="482.5" width="351.1" height="8.5" fill="url(#er2)"/>
<rect x="656.5" y="490.5" width="351.1" height="8.5" fill="url(#er3)"/>
<rect x="656.5" y="498.5" width="351.1" height="8.5" fill="url(#er4)"/>
<rect x="656.5" y="506.5" width="351.1" height="8.5" fill="url(#er5)"/>
<rect x="656.5" y="514.5" width="351.1" height="8.5" fill="url(#er6)"/>
<rect x="656.5" y="522.5" width="351.1" height="8.5" fill="url(#er7)"/>
<rect x="656.5" y="530.5" width="351.1" height="8.5" fill="url(#er8)"/>
<rect x="656.5" y="538.5" width="351.1" height="8.5" fill="url(#er9)"/>
<rect x="656.5" y="546.5" width="351.1" height="8.5" fill="url(#er10)"/>
<rect x="656.5" y="554.5" width="351.1" height="8.5" fill="url(#er11)"/>
<rect x="656.5" y="562.5" width="351.1" height="8.5" fill="url(#er12)"/>
<rect x="656.5" y="570.5" width="351.1" height="8.5" fill="url(#er13)"/>
<rect x="656.5" y="578.5" width="351.1" height="8.5" fill="url(#er14)"/>
<rect x="656.5" y="586.5" width="351.1" height="8.5" fill="url(#er15)"/>
<rect x="656.5" y="594.5" width="351.1" height="8.5" fill="url(#er16)"/>
<rect x="656.5" y="602.5" width="351.1" height="8.5" fill="url(#er17)"/>
<rect x="656.5" y="610.5" width="351.1" height="8.5" fill="url(#er18)"/>
<rect x="656.5" y="618.5" width="351.1" height="8.5" fill="url(#er19)"/>
<rect x="656.5" y="626.5" width="351.1" height="8.5" fill="url(#er20)"/>
<rect x="656.5" y="634.5" width="351.1" height="8.5" fill="url(#er21)"/>
<rect x="656.5" y="642.5" width="351.1" height="8.5" fill="url(#er22)"/>
<rect x="656.5" y="650.5" width="351.1" height="8.5" fill="url(#er23)"/>
<rect x="656.5" y="658.5" width="351.1" height="8.5" fill="url(#er24)"/>
<rect x="656.5" y="666.5" width="351.1" height="8.5" fill="url(#er25)"/>
<rect x="656.5" y="674.5" width="351.1" height="8.5" fill="url(#er26)"/>
<rect x="656.5" y="682.5" width="351.1" height="8.5" fill="url(#er27)"/>
<rect x="656.5" y="690.5" width="351.1" height="8.5" fill="url(#er28)"/>
<rect x="656.5" y="698.5" width="351.1" height="8.5" fill="url(#er29)"/>
<rect x="656.5" y="706.5" width="351.1" height="8.5" fill="url(#er30)"/>
<rect x="656.5" y="714.5" width="351.1" height="8.5" fill="url(#er31)"/>
<rect x="656.5" y="722.5" width="351.1" height="8.5" fill="url(#er32)"/>
<rect x="656.5" y="730.5" width="351.1" height="8.5" fill="url(#er33)"/>
<rect x="656.5" y="738.5" width="351.1" height="8.5" fill="url(#er34)"/>
<rect x="656.5" y="746.5" width="351.1" height="8.5" fill="url(#er35)"/>
<rect x="656.5" y="754.5" width="351.1" height="8.5" fill="url(#er36)"/>
<rect x="656.5" y="762.5" width="351.1" height="8.5" fill="url(#er37)"/>
<rect x="656.5" y="770.5" width="351.1" height="8.5" fill="url(#er38)"/>
<rect x="656.5" y="778.5" width="351.1" height="8.5" fill="url(#er39)"/>
<rect x="656.5" y="786.5" width="351.1" height="8.5" fill="url(#er40)"/>
<rect x="656.5" y="794.5" width="351.1" height="8.5" fill="url(#er41)"/>
<rect x="656.5" y="802.5" width="351.1" height="8.5" fill="url(#er42)"/>
<rect x="656.5" y="810.5" width="351.1" height="8.5" fill="url(#er43)"/>
<rect x="656.5" y="818.5" width="351.1" height="8.5" fill="url(#er44)"/>
</g></g>
<rect x="656.5" y="478.5" width="351.1" height="329.5" fill="none" stroke="#000" stroke-width="1.3"/>
<path d="M704.5 808v-4.2M752.5 808v-4.2M800.5 808v-4.2M848.5 808v-4.2M896.5 808v-4.2M944.5 808v-4.2M992.5 808v-4.2" stroke="#000" stroke-width="1.1" fill="none"/>
<path d="M670.95 808v-2.2M679.4 808v-2.2M685.4 808v-2.2M690.05 808v-2.2M693.85 808v-2.2M697.06 808v-2.2M699.85 808v-2.2M702.3 808v-2.2M718.95 808v-2.2M727.4 808v-2.2M733.4 808v-2.2M738.05 808v-2.2M741.85 808v-2.2M745.06 808v-2.2M747.85 808v-2.2M750.3 808v-2.2M766.95 808v-2.2M775.4 808v-2.2M781.4 808v-2.2M786.05 808v-2.2M789.85 808v-2.2M793.06 808v-2.2M795.85 808v-2.2M798.3 808v-2.2M814.95 808v-2.2M823.4 808v-2.2M829.4 808v-2.2M834.05 808v-2.2M837.85 808v-2.2M841.06 808v-2.2M843.85 808v-2.2M846.3 808v-2.2M862.95 808v-2.2M871.4 808v-2.2M877.4 808v-2.2M882.05 808v-2.2M885.85 808v-2.2M889.06 808v-2.2M891.85 808v-2.2M894.3 808v-2.2M910.95 808v-2.2M919.4 808v-2.2M925.4 808v-2.2M930.05 808v-2.2M933.85 808v-2.2M937.06 808v-2.2M939.85 808v-2.2M942.3 808v-2.2M958.95 808v-2.2M967.4 808v-2.2M973.4 808v-2.2M978.05 808v-2.2M981.85 808v-2.2M985.06 808v-2.2M987.85 808v-2.2M990.3 808v-2.2" stroke="#000" stroke-width="0.9" fill="none"/>
<text x="657.5" y="834" font-size="21.3" text-anchor="middle">10<tspan font-size="13.5" dy="-9">-6</tspan></text>
<text x="705.5" y="834" font-size="21.3" text-anchor="middle">10<tspan font-size="13.5" dy="-9">-5</tspan></text>
<text x="753.5" y="834" font-size="21.3" text-anchor="middle">10<tspan font-size="13.5" dy="-9">-4</tspan></text>
<text x="801.5" y="834" font-size="21.3" text-anchor="middle">10<tspan font-size="13.5" dy="-9">-3</tspan></text>
<text x="849.5" y="834" font-size="21.3" text-anchor="middle">10<tspan font-size="13.5" dy="-9">-2</tspan></text>
<text x="897.5" y="834" font-size="21.3" text-anchor="middle">10<tspan font-size="13.5" dy="-9">-1</tspan></text>
<text x="945.5" y="834" font-size="21.3" text-anchor="middle">10<tspan font-size="13.5" dy="-9">0</tspan></text>
<text x="993.5" y="834" font-size="21.3" text-anchor="middle">10<tspan font-size="13.5" dy="-9">1</tspan></text>
<text x="832" y="869.5" font-size="25" text-anchor="middle"><tspan font-family="'Liberation Serif', serif" font-style="italic" font-size="27">τ</tspan> (s)</text>
<text x="631.8" y="550.5" font-size="19.6" text-anchor="middle" transform="rotate(-90 631.8 550.5)">Discharge</text>
<text x="631.8" y="751.5" font-size="19.6" text-anchor="middle" transform="rotate(-90 631.8 751.5)">Charge</text>
<path d="M643.2 583.5V519.5" stroke="#999" stroke-width="0.8"/><path d="M643.2 515.5l1.7 6h-3.4z" fill="#000"/>
<path d="M643.2 782.5V719.5" stroke="#999" stroke-width="0.8"/><path d="M643.2 715.5l1.7 6h-3.4z" fill="#000"/>
<rect x="1049.6" y="507.3" width="38.6" height="300.3" fill="url(#cbar)"/>
<path d="M1049.6 507.3V807.6" stroke="#111" stroke-width="1"/>
<path d="M1088.2 507.3V807.6" stroke="#444" stroke-width="1"/>
<path d="M1049.6 507.3H1088.2M1049.6 807.6H1088.2" stroke="#888" stroke-width="1"/>
<path d="M1088.2 807.6h6.5M1088.2 732.52h6.5M1088.2 657.45h6.5M1088.2 582.38h6.5M1088.2 507.3h6.5" stroke="#333" stroke-width="1" fill="none"/>
<path d="M1088.2 770.06h3.5M1088.2 694.99h3.5M1088.2 619.91h3.5M1088.2 544.84h3.5" stroke="#333" stroke-width="1" fill="none"/>
<text x="1100.5" y="812.9" font-size="15">0.00</text>
<text x="1100.5" y="737.82" font-size="15">100</text>
<text x="1100.5" y="662.75" font-size="15">200</text>
<text x="1100.5" y="587.67" font-size="15">300</text>
<text x="1100.5" y="512.6" font-size="15">400</text>
<text x="1043.5" y="494" font-size="20"><tspan font-family="'Liberation Serif', serif" font-style="italic" font-size="20.5">γ</tspan><tspan font-size="24" dy="1">(</tspan><tspan dy="-1">ln</tspan><tspan font-family="'Liberation Serif', serif" font-style="italic" font-size="18.5">τ</tspan><tspan font-size="24" dy="1">)</tspan><tspan dy="-1"> (ohm)</tspan></text>
</g>
<g id="panel-f">
<text x="1206" y="472.5" font-size="33">f</text>
<clipPath id="fclip1"><rect x="1288.6" y="479" width="418.8" height="329.6"/></clipPath><clipPath id="fclip2"><rect x="1738.3" y="478.5" width="192" height="329.5"/></clipPath>
<g clip-path="url(#fclip1)">
<path d="M1294.58 604.32 L1300.55 604.32 L1306.53 604.32 L1312.51 604.32 L1318.49 604.32 L1324.46 604.32 L1330.44 604.32 L1336.42 604.32 L1342.39 604.32 L1348.37 604.32 L1354.35 612.33 L1360.33 612.57 L1366.3 612.8 L1372.28 613.04 L1378.26 613.28 L1384.23 613.51 L1390.21 613.75 L1396.19 613.98 L1402.17 614.22 L1408.14 614.45 L1414.12 621.29 L1420.1 626.47 L1426.07 627.88 L1432.05 630 L1438.03 631.18 L1444.01 632.12 L1449.98 632.59 L1455.96 633.06 L1461.94 633.53 L1467.91 634.01 L1473.89 658.51 L1479.87 658.98 L1485.85 665.1 L1491.82 662.75 L1497.8 663.69 L1503.78 668.63 L1509.75 674.52 L1515.73 669.81 L1521.71 676.88 L1527.69 676.88 L1533.66 704.44 L1539.64 712.69 L1545.62 717.87 L1551.59 724.94 L1557.57 730.12 L1563.55 726.35 L1569.53 717.87 L1575.5 717.87 L1581.48 728.71 L1587.46 727.29 L1593.43 607.15 L1599.41 607.15 L1605.39 607.15 L1611.37 607.15 L1617.34 607.15 L1623.32 607.15 L1629.3 607.15 L1635.27 607.15 L1641.25 607.15 L1647.23 607.15 L1653.21 607.15 L1659.18 607.15 L1665.16 607.15 L1671.14 607.15 L1677.11 607.15 L1683.09 607.15 L1689.07 609.04 L1695.05 609.04 L1701.02 609.04 L1707 609.04" fill="none" stroke="#d0d0d0" stroke-width="0.8"/>
<path d="M1294.58 603.85 L1300.55 603.85 L1306.53 603.85 L1312.51 603.85 L1318.49 603.85 L1324.46 603.85 L1330.44 603.85 L1336.42 603.85 L1342.39 603.85 L1348.37 603.85 L1354.35 610.68 L1360.33 610.78 L1366.3 610.87 L1372.28 610.97 L1378.26 611.06 L1384.23 611.16 L1390.21 611.25 L1396.19 611.34 L1402.17 611.44 L1408.14 611.53 L1414.12 618.22 L1420.1 618.41 L1426.07 618.6 L1432.05 618.79 L1438.03 618.98 L1444.01 619.16 L1449.98 619.35 L1455.96 619.54 L1461.94 619.73 L1467.91 619.92 L1473.89 633.77 L1479.87 635.42 L1485.85 637.78 L1491.82 639.66 L1497.8 640.84 L1503.78 641.78 L1509.75 642.25 L1515.73 642.49 L1521.71 642.72 L1527.69 642.96 L1533.66 662.75 L1539.64 666.51 L1545.62 666.99 L1551.59 666.04 L1557.57 671.7 L1563.55 676.41 L1569.53 678.29 L1575.5 679.71 L1581.48 680.65 L1587.46 683.48 L1593.43 604.09 L1599.41 604.09 L1605.39 604.09 L1611.37 604.09 L1617.34 604.09 L1623.32 604.09 L1629.3 604.09 L1635.27 604.09 L1641.25 604.09 L1647.23 604.09 L1653.21 604.09 L1659.18 604.09 L1665.16 604.09 L1671.14 604.09 L1677.11 604.09 L1683.09 604.09 L1689.07 604.09 L1695.05 604.09 L1701.02 604.09 L1707 604.09" fill="none" stroke="#cfe4f4" stroke-width="0.8"/>
<path d="M1294.58 603.38 L1300.55 603.38 L1306.53 603.38 L1312.51 603.38 L1318.49 603.38 L1324.46 603.38 L1330.44 603.38 L1336.42 603.38 L1342.39 603.38 L1348.37 603.38 L1354.35 604.8 L1360.33 604.84 L1366.3 604.89 L1372.28 604.94 L1378.26 604.98 L1384.23 605.03 L1390.21 605.08 L1396.19 605.12 L1402.17 605.17 L1408.14 605.22 L1414.12 610.21 L1420.1 610.28 L1426.07 610.35 L1432.05 610.43 L1438.03 610.5 L1444.01 610.57 L1449.98 610.64 L1455.96 610.71 L1461.94 610.78 L1467.91 610.85 L1473.89 618.93 L1479.87 615.87 L1485.85 616.34 L1491.82 616.81 L1497.8 617.28 L1503.78 617.52 L1509.75 617.75 L1515.73 617.99 L1521.71 618.22 L1527.69 618.46 L1533.66 630.24 L1539.64 631.18 L1545.62 632.12 L1551.59 633.06 L1557.57 633.77 L1563.55 635.42 L1569.53 637.78 L1575.5 636.36 L1581.48 636.83 L1587.46 639.66 L1593.43 603.15 L1599.41 603.15 L1605.39 603.15 L1611.37 603.15 L1617.34 603.15 L1623.32 603.15 L1629.3 603.15 L1635.27 603.15 L1641.25 603.15 L1647.23 603.15 L1653.21 603.15 L1659.18 603.15 L1665.16 603.15 L1671.14 603.15 L1677.11 603.15 L1683.09 603.15 L1689.07 603.15 L1695.05 603.15 L1701.02 603.15 L1707 603.15" fill="none" stroke="#f8c4c4" stroke-width="0.8"/>
<g fill="url(#gG)"><circle cx="1294.58" cy="604.32" r="5.7"/><circle cx="1300.55" cy="604.32" r="5.7"/><circle cx="1306.53" cy="604.32" r="5.7"/><circle cx="1312.51" cy="604.32" r="5.7"/><circle cx="1318.49" cy="604.32" r="5.7"/><circle cx="1324.46" cy="604.32" r="5.7"/><circle cx="1330.44" cy="604.32" r="5.7"/><circle cx="1336.42" cy="604.32" r="5.7"/><circle cx="1342.39" cy="604.32" r="5.7"/><circle cx="1348.37" cy="604.32" r="5.7"/><circle cx="1354.35" cy="612.33" r="5.7"/><circle cx="1360.33" cy="612.57" r="5.7"/><circle cx="1366.3" cy="612.8" r="5.7"/><circle cx="1372.28" cy="613.04" r="5.7"/><circle cx="1378.26" cy="613.28" r="5.7"/><circle cx="1384.23" cy="613.51" r="5.7"/><circle cx="1390.21" cy="613.75" r="5.7"/><circle cx="1396.19" cy="613.98" r="5.7"/><circle cx="1402.17" cy="614.22" r="5.7"/><circle cx="1408.14" cy="614.45" r="5.7"/><circle cx="1414.12" cy="621.29" r="5.7"/><circle cx="1420.1" cy="626.47" r="5.7"/><circle cx="1426.07" cy="627.88" r="5.7"/><circle cx="1432.05" cy="630" r="5.7"/><circle cx="1438.03" cy="631.18" r="5.7"/><circle cx="1444.01" cy="632.12" r="5.7"/><circle cx="1449.98" cy="632.59" r="5.7"/><circle cx="1455.96" cy="633.06" r="5.7"/><circle cx="1461.94" cy="633.53" r="5.7"/><circle cx="1467.91" cy="634.01" r="5.7"/><circle cx="1473.89" cy="658.51" r="5.7"/><circle cx="1479.87" cy="658.98" r="5.7"/><circle cx="1485.85" cy="665.1" r="5.7"/><circle cx="1491.82" cy="662.75" r="5.7"/><circle cx="1497.8" cy="663.69" r="5.7"/><circle cx="1503.78" cy="668.63" r="5.7"/><circle cx="1509.75" cy="674.52" r="5.7"/><circle cx="1515.73" cy="669.81" r="5.7"/><circle cx="1521.71" cy="676.88" r="5.7"/><circle cx="1527.69" cy="676.88" r="5.7"/><circle cx="1533.66" cy="704.44" r="5.7"/><circle cx="1539.64" cy="712.69" r="5.7"/><circle cx="1545.62" cy="717.87" r="5.7"/><circle cx="1551.59" cy="724.94" r="5.7"/><circle cx="1557.57" cy="730.12" r="5.7"/><circle cx="1563.55" cy="726.35" r="5.7"/><circle cx="1569.53" cy="717.87" r="5.7"/><circle cx="1575.5" cy="717.87" r="5.7"/><circle cx="1581.48" cy="728.71" r="5.7"/><circle cx="1587.46" cy="727.29" r="5.7"/><circle cx="1593.43" cy="607.15" r="5.7"/><circle cx="1599.41" cy="607.15" r="5.7"/><circle cx="1605.39" cy="607.15" r="5.7"/><circle cx="1611.37" cy="607.15" r="5.7"/><circle cx="1617.34" cy="607.15" r="5.7"/><circle cx="1623.32" cy="607.15" r="5.7"/><circle cx="1629.3" cy="607.15" r="5.7"/><circle cx="1635.27" cy="607.15" r="5.7"/><circle cx="1641.25" cy="607.15" r="5.7"/><circle cx="1647.23" cy="607.15" r="5.7"/><circle cx="1653.21" cy="607.15" r="5.7"/><circle cx="1659.18" cy="607.15" r="5.7"/><circle cx="1665.16" cy="607.15" r="5.7"/><circle cx="1671.14" cy="607.15" r="5.7"/><circle cx="1677.11" cy="607.15" r="5.7"/><circle cx="1683.09" cy="607.15" r="5.7"/><circle cx="1689.07" cy="609.04" r="5.7"/><circle cx="1695.05" cy="609.04" r="5.7"/><circle cx="1701.02" cy="609.04" r="5.7"/><circle cx="1707" cy="609.04" r="5.7"/></g>
<g fill="url(#gB)"><circle cx="1294.58" cy="603.85" r="5.6"/><circle cx="1300.55" cy="603.85" r="5.6"/><circle cx="1306.53" cy="603.85" r="5.6"/><circle cx="1312.51" cy="603.85" r="5.6"/><circle cx="1318.49" cy="603.85" r="5.6"/><circle cx="1324.46" cy="603.85" r="5.6"/><circle cx="1330.44" cy="603.85" r="5.6"/><circle cx="1336.42" cy="603.85" r="5.6"/><circle cx="1342.39" cy="603.85" r="5.6"/><circle cx="1348.37" cy="603.85" r="5.6"/><circle cx="1354.35" cy="610.68" r="5.6"/><circle cx="1360.33" cy="610.78" r="5.6"/><circle cx="1366.3" cy="610.87" r="5.6"/><circle cx="1372.28" cy="610.97" r="5.6"/><circle cx="1378.26" cy="611.06" r="5.6"/><circle cx="1384.23" cy="611.16" r="5.6"/><circle cx="1390.21" cy="611.25" r="5.6"/><circle cx="1396.19" cy="611.34" r="5.6"/><circle cx="1402.17" cy="611.44" r="5.6"/><circle cx="1408.14" cy="611.53" r="5.6"/><circle cx="1414.12" cy="618.22" r="5.6"/><circle cx="1420.1" cy="618.41" r="5.6"/><circle cx="1426.07" cy="618.6" r="5.6"/><circle cx="1432.05" cy="618.79" r="5.6"/><circle cx="1438.03" cy="618.98" r="5.6"/><circle cx="1444.01" cy="619.16" r="5.6"/><circle cx="1449.98" cy="619.35" r="5.6"/><circle cx="1455.96" cy="619.54" r="5.6"/><circle cx="1461.94" cy="619.73" r="5.6"/><circle cx="1467.91" cy="619.92" r="5.6"/><circle cx="1473.89" cy="633.77" r="5.6"/><circle cx="1479.87" cy="635.42" r="5.6"/><circle cx="1485.85" cy="637.78" r="5.6"/><circle cx="1491.82" cy="639.66" r="5.6"/><circle cx="1497.8" cy="640.84" r="5.6"/><circle cx="1503.78" cy="641.78" r="5.6"/><circle cx="1509.75" cy="642.25" r="5.6"/><circle cx="1515.73" cy="642.49" r="5.6"/><circle cx="1521.71" cy="642.72" r="5.6"/><circle cx="1527.69" cy="642.96" r="5.6"/><circle cx="1533.66" cy="662.75" r="5.6"/><circle cx="1539.64" cy="666.51" r="5.6"/><circle cx="1545.62" cy="666.99" r="5.6"/><circle cx="1551.59" cy="666.04" r="5.6"/><circle cx="1557.57" cy="671.7" r="5.6"/><circle cx="1563.55" cy="676.41" r="5.6"/><circle cx="1569.53" cy="678.29" r="5.6"/><circle cx="1575.5" cy="679.71" r="5.6"/><circle cx="1581.48" cy="680.65" r="5.6"/><circle cx="1587.46" cy="683.48" r="5.6"/><circle cx="1593.43" cy="604.09" r="5.6"/><circle cx="1599.41" cy="604.09" r="5.6"/><circle cx="1605.39" cy="604.09" r="5.6"/><circle cx="1611.37" cy="604.09" r="5.6"/><circle cx="1617.34" cy="604.09" r="5.6"/><circle cx="1623.32" cy="604.09" r="5.6"/><circle cx="1629.3" cy="604.09" r="5.6"/><circle cx="1635.27" cy="604.09" r="5.6"/><circle cx="1641.25" cy="604.09" r="5.6"/><circle cx="1647.23" cy="604.09" r="5.6"/><circle cx="1653.21" cy="604.09" r="5.6"/><circle cx="1659.18" cy="604.09" r="5.6"/><circle cx="1665.16" cy="604.09" r="5.6"/><circle cx="1671.14" cy="604.09" r="5.6"/><circle cx="1677.11" cy="604.09" r="5.6"/><circle cx="1683.09" cy="604.09" r="5.6"/><circle cx="1689.07" cy="604.09" r="5.6"/><circle cx="1695.05" cy="604.09" r="5.6"/><circle cx="1701.02" cy="604.09" r="5.6"/><circle cx="1707" cy="604.09" r="5.6"/></g>
<g fill="url(#gR)"><circle cx="1294.58" cy="603.38" r="5.6"/><circle cx="1300.55" cy="603.38" r="5.6"/><circle cx="1306.53" cy="603.38" r="5.6"/><circle cx="1312.51" cy="603.38" r="5.6"/><circle cx="1318.49" cy="603.38" r="5.6"/><circle cx="1324.46" cy="603.38" r="5.6"/><circle cx="1330.44" cy="603.38" r="5.6"/><circle cx="1336.42" cy="603.38" r="5.6"/><circle cx="1342.39" cy="603.38" r="5.6"/><circle cx="1348.37" cy="603.38" r="5.6"/><circle cx="1354.35" cy="604.8" r="5.6"/><circle cx="1360.33" cy="604.84" r="5.6"/><circle cx="1366.3" cy="604.89" r="5.6"/><circle cx="1372.28" cy="604.94" r="5.6"/><circle cx="1378.26" cy="604.98" r="5.6"/><circle cx="1384.23" cy="605.03" r="5.6"/><circle cx="1390.21" cy="605.08" r="5.6"/><circle cx="1396.19" cy="605.12" r="5.6"/><circle cx="1402.17" cy="605.17" r="5.6"/><circle cx="1408.14" cy="605.22" r="5.6"/><circle cx="1414.12" cy="610.21" r="5.6"/><circle cx="1420.1" cy="610.28" r="5.6"/><circle cx="1426.07" cy="610.35" r="5.6"/><circle cx="1432.05" cy="610.43" r="5.6"/><circle cx="1438.03" cy="610.5" r="5.6"/><circle cx="1444.01" cy="610.57" r="5.6"/><circle cx="1449.98" cy="610.64" r="5.6"/><circle cx="1455.96" cy="610.71" r="5.6"/><circle cx="1461.94" cy="610.78" r="5.6"/><circle cx="1467.91" cy="610.85" r="5.6"/><circle cx="1473.89" cy="618.93" r="5.6"/><circle cx="1479.87" cy="615.87" r="5.6"/><circle cx="1485.85" cy="616.34" r="5.6"/><circle cx="1491.82" cy="616.81" r="5.6"/><circle cx="1497.8" cy="617.28" r="5.6"/><circle cx="1503.78" cy="617.52" r="5.6"/><circle cx="1509.75" cy="617.75" r="5.6"/><circle cx="1515.73" cy="617.99" r="5.6"/><circle cx="1521.71" cy="618.22" r="5.6"/><circle cx="1527.69" cy="618.46" r="5.6"/><circle cx="1533.66" cy="630.24" r="5.6"/><circle cx="1539.64" cy="631.18" r="5.6"/><circle cx="1545.62" cy="632.12" r="5.6"/><circle cx="1551.59" cy="633.06" r="5.6"/><circle cx="1557.57" cy="633.77" r="5.6"/><circle cx="1563.55" cy="635.42" r="5.6"/><circle cx="1569.53" cy="637.78" r="5.6"/><circle cx="1575.5" cy="636.36" r="5.6"/><circle cx="1581.48" cy="636.83" r="5.6"/><circle cx="1587.46" cy="639.66" r="5.6"/><circle cx="1593.43" cy="603.15" r="5.6"/><circle cx="1599.41" cy="603.15" r="5.6"/><circle cx="1605.39" cy="603.15" r="5.6"/><circle cx="1611.37" cy="603.15" r="5.6"/><circle cx="1617.34" cy="603.15" r="5.6"/><circle cx="1623.32" cy="603.15" r="5.6"/><circle cx="1629.3" cy="603.15" r="5.6"/><circle cx="1635.27" cy="603.15" r="5.6"/><circle cx="1641.25" cy="603.15" r="5.6"/><circle cx="1647.23" cy="603.15" r="5.6"/><circle cx="1653.21" cy="603.15" r="5.6"/><circle cx="1659.18" cy="603.15" r="5.6"/><circle cx="1665.16" cy="603.15" r="5.6"/><circle cx="1671.14" cy="603.15" r="5.6"/><circle cx="1677.11" cy="603.15" r="5.6"/><circle cx="1683.09" cy="603.15" r="5.6"/><circle cx="1689.07" cy="603.15" r="5.6"/><circle cx="1695.05" cy="603.15" r="5.6"/><circle cx="1701.02" cy="603.15" r="5.6"/><circle cx="1707" cy="603.15" r="5.6"/></g>
</g>
<rect x="1288.6" y="479" width="418.8" height="329.6" fill="none" stroke="#222" stroke-width="1.3"/>
<path d="M1348.37 808.6v-5.5M1408.14 808.6v-5.5M1467.91 808.6v-5.5M1527.69 808.6v-5.5M1587.46 808.6v-5.5M1647.23 808.6v-5.5" stroke="#111" stroke-width="1.3" fill="none"/>
<path d="M1318.49 808.6v-3M1378.26 808.6v-3M1438.03 808.6v-3M1497.8 808.6v-3M1557.57 808.6v-3M1617.34 808.6v-3M1677.11 808.6v-3" stroke="#111" stroke-width="1.3" fill="none"/>
<path d="M1288.6 761.69h5.5M1288.6 667.46h5.5M1288.6 573.23h5.5" stroke="#333" stroke-width="1.3" fill="none"/>
<path d="M1288.6 714.57h3M1288.6 620.34h3M1288.6 526.11h3" stroke="#333" stroke-width="1.3" fill="none"/>
<text x="1288.6" y="832.5" font-size="19" text-anchor="middle">0</text>
<text x="1348.37" y="832.5" font-size="19" text-anchor="middle">10</text>
<text x="1408.14" y="832.5" font-size="19" text-anchor="middle">20</text>
<text x="1467.91" y="832.5" font-size="19" text-anchor="middle">30</text>
<text x="1527.69" y="832.5" font-size="19" text-anchor="middle">40</text>
<text x="1587.46" y="832.5" font-size="19" text-anchor="middle">50</text>
<text x="1647.23" y="832.5" font-size="19" text-anchor="middle">60</text>
<text x="1707" y="832.5" font-size="19" text-anchor="middle">70</text>
<text x="1282.5" y="768.49" font-size="19" text-anchor="end">40</text>
<text x="1282.5" y="674.26" font-size="19" text-anchor="end">80</text>
<text x="1282.5" y="580.03" font-size="19" text-anchor="end">120</text>
<text x="1282.5" y="485.8" font-size="19" text-anchor="end">160</text>
<text x="1498.5" y="869.5" font-size="25.6" text-anchor="middle">Cycle number (n)</text>
<text x="1238.5" y="643.5" font-size="25.7" text-anchor="middle" transform="rotate(-90 1238.5 643.5)">Specific capacity (mAh g<tspan font-size="17" baseline-shift="9" dx="1.5">-1</tspan>)</text>
<text x="1293" y="503.2" font-size="18.6">Specific current unit: mA g<tspan font-size="12" baseline-shift="7">-1</tspan></text>
<text x="1293" y="532" font-size="18.6">Cutoff voltage window: 2.5V-3.8V</text>
<text x="1652" y="503.2" font-size="18.6">25 °C</text>
<text x="1300.5" y="589.8" font-size="18.6">117.6</text>
<text x="1359" y="593.7" font-size="18.6">235.2</text>
<text x="1421" y="596.5" font-size="18.6">352.8</text>
<text x="1482" y="601.7" font-size="18.6">470.4</text>
<text x="1538" y="612" font-size="18.6">588.0</text>
<text x="1635.3" y="589.8" font-size="18.6">117.6</text>
<line x1="1295.2" y1="736.6" x2="1337.4" y2="736.6" stroke="#c9c9c9" stroke-width="0.9"/>
<g fill="url(#gG)"><circle cx="1315.8" cy="736.6" r="5.7"/></g>
<text x="1342.2" y="742.9" font-size="18.5">Al/Na||NVP (5 mg cm<tspan font-size="12" baseline-shift="7">-2</tspan>)</text>
<line x1="1295.2" y1="761.65" x2="1337.4" y2="761.65" stroke="#bcd9ef" stroke-width="0.9"/>
<g fill="url(#gB)"><circle cx="1315.8" cy="761.65" r="5.7"/></g>
<text x="1342.2" y="767.95" font-size="18.5">HPA-AlSi/Na||NVP (5 mg cm<tspan font-size="12" baseline-shift="7">-2</tspan>)</text>
<line x1="1295.2" y1="786.7" x2="1337.4" y2="786.7" stroke="#f6b4b4" stroke-width="0.9"/>
<g fill="url(#gR)"><circle cx="1315.8" cy="786.7" r="5.7"/></g>
<text x="1342.2" y="793" font-size="18.5">HPJH-AlSi/Na||NVP (5 mg cm<tspan font-size="12" baseline-shift="7">-2</tspan>)</text>
<g clip-path="url(#fclip2)">
<g stroke="#868686" stroke-width="0.75"><path fill="#fff" d="M1851.55 477.02h9l-4.5 7.74z"/><path fill="#868686" d="M1851.55 477.02h9l-1.53 2.63h-5.94z"/><path fill="#fff" d="M1849.54 484.57h9l-4.5 7.74z"/><path fill="#868686" d="M1849.54 484.57h9l-1.53 2.63h-5.94z"/><path fill="#fff" d="M1847.78 490.11h9l-4.5 7.74z"/><path fill="#868686" d="M1847.78 490.11h9l-1.53 2.63h-5.94z"/><path fill="#fff" d="M1863.63 497.91h9l-4.5 7.74z"/><path fill="#868686" d="M1863.63 497.91h9l-1.53 2.63h-5.94z"/><path fill="#fff" d="M1864.64 512.26h9l-4.5 7.74z"/><path fill="#868686" d="M1864.64 512.26h9l-1.53 2.63h-5.94z"/><path fill="#fff" d="M1866.66 522.33h9l-4.5 7.74z"/><path fill="#868686" d="M1866.66 522.33h9l-1.53 2.63h-5.94z"/><path fill="#fff" d="M1867.16 535.42h9l-4.5 7.74z"/><path fill="#868686" d="M1867.16 535.42h9l-1.53 2.63h-5.94z"/><path fill="#fff" d="M1869.17 545.48h9l-4.5 7.74z"/><path fill="#868686" d="M1869.17 545.48h9l-1.53 2.63h-5.94z"/><path fill="#fff" d="M1867.91 552.03h9l-4.5 7.74z"/><path fill="#868686" d="M1867.91 552.03h9l-1.53 2.63h-5.94z"/><path fill="#fff" d="M1874.71 560.08h9l-4.5 7.74z"/><path fill="#868686" d="M1874.71 560.08h9l-1.53 2.63h-5.94z"/><path fill="#fff" d="M1881 569.65h9l-4.5 7.74z"/><path fill="#868686" d="M1881 569.65h9l-1.53 2.63h-5.94z"/><path fill="#fff" d="M1779.06 574.68h9l-4.5 7.74z"/><path fill="#868686" d="M1779.06 574.68h9l-1.53 2.63h-5.94z"/><path fill="#fff" d="M1872.95 579.71h9l-4.5 7.74z"/><path fill="#868686" d="M1872.95 579.71h9l-1.53 2.63h-5.94z"/><path fill="#fff" d="M1901.14 589.03h9l-4.5 7.74z"/><path fill="#868686" d="M1901.14 589.03h9l-1.53 2.63h-5.94z"/><path fill="#fff" d="M1817.07 594.06h9l-4.5 7.74z"/><path fill="#868686" d="M1817.07 594.06h9l-1.53 2.63h-5.94z"/><path fill="#fff" d="M1796.68 598.59h9l-4.5 7.74z"/><path fill="#868686" d="M1796.68 598.59h9l-1.53 2.63h-5.94z"/><path fill="#fff" d="M1813.3 602.87h9l-4.5 7.74z"/><path fill="#868686" d="M1813.3 602.87h9l-1.53 2.63h-5.94z"/><path fill="#fff" d="M1806.25 607.9h9l-4.5 7.74z"/><path fill="#868686" d="M1806.25 607.9h9l-1.53 2.63h-5.94z"/><path fill="#fff" d="M1745.34 612.94h9l-4.5 7.74z"/><path fill="#868686" d="M1745.34 612.94h9l-1.53 2.63h-5.94z"/><path fill="#fff" d="M1868.17 616.71h9l-4.5 7.74z"/><path fill="#868686" d="M1868.17 616.71h9l-1.53 2.63h-5.94z"/><path fill="#fff" d="M1820.59 622.25h9l-4.5 7.74z"/><path fill="#868686" d="M1820.59 622.25h9l-1.53 2.63h-5.94z"/><path fill="#fff" d="M1879.49 626.78h9l-4.5 7.74z"/><path fill="#868686" d="M1879.49 626.78h9l-1.53 2.63h-5.94z"/><path fill="#fff" d="M1823.87 631.06h9l-4.5 7.74z"/><path fill="#868686" d="M1823.87 631.06h9l-1.53 2.63h-5.94z"/><path fill="#fff" d="M1826.89 636.6h9l-4.5 7.74z"/><path fill="#868686" d="M1826.89 636.6h9l-1.53 2.63h-5.94z"/><path fill="#fff" d="M1851.55 641.88h9l-4.5 7.74z"/><path fill="#868686" d="M1851.55 641.88h9l-1.53 2.63h-5.94z"/><path fill="#fff" d="M1866.66 644.4h9l-4.5 7.74z"/><path fill="#868686" d="M1866.66 644.4h9l-1.53 2.63h-5.94z"/><path fill="#fff" d="M1811.78 650.19h9l-4.5 7.74z"/><path fill="#868686" d="M1811.78 650.19h9l-1.53 2.63h-5.94z"/><path fill="#fff" d="M1762.96 659.56h9l-4.5 7.74z"/><path fill="#868686" d="M1762.96 659.56h9l-1.53 2.63h-5.94z"/><path fill="#fff" d="M1868.17 663.33h9l-4.5 7.74z"/><path fill="#868686" d="M1868.17 663.33h9l-1.53 2.63h-5.94z"/><path fill="#fff" d="M1835.7 673.91h9l-4.5 7.74z"/><path fill="#868686" d="M1835.7 673.91h9l-1.53 2.63h-5.94z"/><path fill="#fff" d="M1866.66 676.67h9l-4.5 7.74z"/><path fill="#868686" d="M1866.66 676.67h9l-1.53 2.63h-5.94z"/><path fill="#fff" d="M1853.57 688h9l-4.5 7.74z"/><path fill="#868686" d="M1853.57 688h9l-1.53 2.63h-5.94z"/><path fill="#fff" d="M1842.49 692.53h9l-4.5 7.74z"/><path fill="#868686" d="M1842.49 692.53h9l-1.53 2.63h-5.94z"/><path fill="#fff" d="M1872.44 697.57h9l-4.5 7.74z"/><path fill="#868686" d="M1872.44 697.57h9l-1.53 2.63h-5.94z"/><path fill="#fff" d="M1824.62 702.1h9l-4.5 7.74z"/><path fill="#868686" d="M1824.62 702.1h9l-1.53 2.63h-5.94z"/><path fill="#fff" d="M1852.56 705.62h9l-4.5 7.74z"/><path fill="#868686" d="M1852.56 705.62h9l-1.53 2.63h-5.94z"/><path fill="#fff" d="M1853.57 714.93h9l-4.5 7.74z"/><path fill="#868686" d="M1853.57 714.93h9l-1.53 2.63h-5.94z"/><path fill="#fff" d="M1864.14 718.71h9l-4.5 7.74z"/><path fill="#868686" d="M1864.14 718.71h9l-1.53 2.63h-5.94z"/><path fill="#fff" d="M1853.06 724.5h9l-4.5 7.74z"/><path fill="#868686" d="M1853.06 724.5h9l-1.53 2.63h-5.94z"/><path fill="#fff" d="M1854.07 730.79h9l-4.5 7.74z"/><path fill="#868686" d="M1854.07 730.79h9l-1.53 2.63h-5.94z"/><path fill="#fff" d="M1864.64 733.81h9l-4.5 7.74z"/><path fill="#868686" d="M1864.64 733.81h9l-1.53 2.63h-5.94z"/><path fill="#fff" d="M1865.65 742.87h9l-4.5 7.74z"/><path fill="#868686" d="M1865.65 742.87h9l-1.53 2.63h-5.94z"/><path fill="#fff" d="M1854.57 747.65h9l-4.5 7.74z"/><path fill="#868686" d="M1854.57 747.65h9l-1.53 2.63h-5.94z"/><path fill="#fff" d="M1863.63 750.17h9l-4.5 7.74z"/><path fill="#868686" d="M1863.63 750.17h9l-1.53 2.63h-5.94z"/><path fill="#fff" d="M1855.08 766.53h9l-4.5 7.74z"/><path fill="#868686" d="M1855.08 766.53h9l-1.53 2.63h-5.94z"/><path fill="#fff" d="M1854.57 774.08h9l-4.5 7.74z"/><path fill="#868686" d="M1854.57 774.08h9l-1.53 2.63h-5.94z"/><path fill="#fff" d="M1855.58 781.63h9l-4.5 7.74z"/><path fill="#868686" d="M1855.58 781.63h9l-1.53 2.63h-5.94z"/><path fill="#fff" d="M1856.59 789.18h9l-4.5 7.74z"/><path fill="#868686" d="M1856.59 789.18h9l-1.53 2.63h-5.94z"/><path fill="#fff" d="M1852.06 799.75h9l-4.5 7.74z"/><path fill="#868686" d="M1852.06 799.75h9l-1.53 2.63h-5.94z"/></g>
<g stroke="#9ccbee" stroke-width="0.75"><path fill="#fff" d="M1863.12 482.66h7v7.8h-7z"/><path fill="#7ab6e4" stroke="#7ab6e4" d="M1863.12 486.33h7v4.13h-7z"/><path fill="#fff" d="M1857.59 495.25h7v7.8h-7z"/><path fill="#7ab6e4" stroke="#7ab6e4" d="M1857.59 498.92h7v4.13h-7z"/><path fill="#fff" d="M1858.09 502.05h7v7.8h-7z"/><path fill="#7ab6e4" stroke="#7ab6e4" d="M1858.09 505.71h7v4.13h-7z"/><path fill="#fff" d="M1857.59 521.68h7v7.8h-7z"/><path fill="#7ab6e4" stroke="#7ab6e4" d="M1857.59 525.34h7v4.13h-7z"/><path fill="#fff" d="M1863.12 529.73h7v7.8h-7z"/><path fill="#7ab6e4" stroke="#7ab6e4" d="M1863.12 533.4h7v4.13h-7z"/><path fill="#fff" d="M1860.1 534.77h7v7.8h-7z"/><path fill="#7ab6e4" stroke="#7ab6e4" d="M1860.1 538.43h7v4.13h-7z"/><path fill="#fff" d="M1833.17 568.24h7v7.8h-7z"/><path fill="#7ab6e4" stroke="#7ab6e4" d="M1833.17 571.91h7v4.13h-7z"/><path fill="#fff" d="M1858.85 574.03h7v7.8h-7z"/><path fill="#7ab6e4" stroke="#7ab6e4" d="M1858.85 577.7h7v4.13h-7z"/><path fill="#fff" d="M1860.61 579.07h7v7.8h-7z"/><path fill="#7ab6e4" stroke="#7ab6e4" d="M1860.61 582.73h7v4.13h-7z"/><path fill="#fff" d="M1850.04 582.84h7v7.8h-7z"/><path fill="#7ab6e4" stroke="#7ab6e4" d="M1850.04 586.51h7v4.13h-7z"/><path fill="#fff" d="M1822.35 587.12h7v7.8h-7z"/><path fill="#7ab6e4" stroke="#7ab6e4" d="M1822.35 590.79h7v4.13h-7z"/><path fill="#fff" d="M1825.62 593.41h7v7.8h-7z"/><path fill="#7ab6e4" stroke="#7ab6e4" d="M1825.62 597.08h7v4.13h-7z"/><path fill="#fff" d="M1862.62 597.19h7v7.8h-7z"/><path fill="#7ab6e4" stroke="#7ab6e4" d="M1862.62 600.85h7v4.13h-7z"/><path fill="#fff" d="M1842.74 601.47h7v7.8h-7z"/><path fill="#7ab6e4" stroke="#7ab6e4" d="M1842.74 605.13h7v4.13h-7z"/><path fill="#fff" d="M1835.44 606.25h7v7.8h-7z"/><path fill="#7ab6e4" stroke="#7ab6e4" d="M1835.44 609.91h7v4.13h-7z"/><path fill="#fff" d="M1830.91 611.03h7v7.8h-7z"/><path fill="#7ab6e4" stroke="#7ab6e4" d="M1830.91 614.7h7v4.13h-7z"/><path fill="#fff" d="M1863.12 615.56h7v7.8h-7z"/><path fill="#7ab6e4" stroke="#7ab6e4" d="M1863.12 619.23h7v4.13h-7z"/><path fill="#fff" d="M1866.65 621.1h7v7.8h-7z"/><path fill="#7ab6e4" stroke="#7ab6e4" d="M1866.65 624.76h7v4.13h-7z"/><path fill="#fff" d="M1850.54 624.87h7v7.8h-7z"/><path fill="#7ab6e4" stroke="#7ab6e4" d="M1850.54 628.54h7v4.13h-7z"/><path fill="#fff" d="M1851.04 639.47h7v7.8h-7z"/><path fill="#7ab6e4" stroke="#7ab6e4" d="M1851.04 643.14h7v4.13h-7z"/><path fill="#fff" d="M1840.22 644h7v7.8h-7z"/><path fill="#7ab6e4" stroke="#7ab6e4" d="M1840.22 647.67h7v4.13h-7z"/><path fill="#fff" d="M1845 649.54h7v7.8h-7z"/><path fill="#7ab6e4" stroke="#7ab6e4" d="M1845 653.21h7v4.13h-7z"/><path fill="#fff" d="M1855.07 653.06h7v7.8h-7z"/><path fill="#7ab6e4" stroke="#7ab6e4" d="M1855.07 656.73h7v4.13h-7z"/><path fill="#fff" d="M1840.47 658.15h7v7.8h-7z"/><path fill="#7ab6e4" stroke="#7ab6e4" d="M1840.47 661.82h7v4.13h-7z"/><path fill="#fff" d="M1855.07 663.19h7v7.8h-7z"/><path fill="#7ab6e4" stroke="#7ab6e4" d="M1855.07 666.85h7v4.13h-7z"/><path fill="#fff" d="M1857.59 676.53h7v7.8h-7z"/><path fill="#7ab6e4" stroke="#7ab6e4" d="M1857.59 680.19h7v4.13h-7z"/><path fill="#fff" d="M1862.62 681.56h7v7.8h-7z"/><path fill="#7ab6e4" stroke="#7ab6e4" d="M1862.62 685.23h7v4.13h-7z"/><path fill="#fff" d="M1855.57 706.73h7v7.8h-7z"/><path fill="#7ab6e4" stroke="#7ab6e4" d="M1855.57 710.4h7v4.13h-7z"/><path fill="#fff" d="M1864.63 716.8h7v7.8h-7z"/><path fill="#7ab6e4" stroke="#7ab6e4" d="M1864.63 720.47h7v4.13h-7z"/><path fill="#fff" d="M1857.59 738.19h7v7.8h-7z"/><path fill="#7ab6e4" stroke="#7ab6e4" d="M1857.59 741.86h7v4.13h-7z"/><path fill="#fff" d="M1863.12 747h7v7.8h-7z"/><path fill="#7ab6e4" stroke="#7ab6e4" d="M1863.12 750.67h7v4.13h-7z"/><path fill="#fff" d="M1856.58 754.56h7v7.8h-7z"/><path fill="#7ab6e4" stroke="#7ab6e4" d="M1856.58 758.22h7v4.13h-7z"/><path fill="#fff" d="M1864.63 760.85h7v7.8h-7z"/><path fill="#7ab6e4" stroke="#7ab6e4" d="M1864.63 764.51h7v4.13h-7z"/><path fill="#fff" d="M1857.59 791.05h7v7.8h-7z"/><path fill="#7ab6e4" stroke="#7ab6e4" d="M1857.59 794.72h7v4.13h-7z"/></g>
<g stroke="#f77f7f" stroke-width="0.75"><path fill="#fff" d="M1857.59 799.09h7v7.8h-7z"/><path fill="#f77f7f" stroke="#f77f7f" d="M1857.59 799.09h7v3.67h-7z"/><path fill="#fff" d="M1860.61 794.39h7v7.8h-7z"/><path fill="#f77f7f" stroke="#f77f7f" d="M1860.61 794.39h7v3.67h-7z"/><path fill="#fff" d="M1858.85 789.68h7v7.8h-7z"/><path fill="#f77f7f" stroke="#f77f7f" d="M1858.85 789.68h7v3.67h-7z"/><path fill="#fff" d="M1859.6 784.97h7v7.8h-7z"/><path fill="#f77f7f" stroke="#f77f7f" d="M1859.6 784.97h7v3.67h-7z"/><path fill="#fff" d="M1861.36 780.26h7v7.8h-7z"/><path fill="#f77f7f" stroke="#f77f7f" d="M1861.36 780.26h7v3.67h-7z"/><path fill="#fff" d="M1862.12 775.56h7v7.8h-7z"/><path fill="#f77f7f" stroke="#f77f7f" d="M1862.12 775.56h7v3.67h-7z"/><path fill="#fff" d="M1860.1 770.85h7v7.8h-7z"/><path fill="#f77f7f" stroke="#f77f7f" d="M1860.1 770.85h7v3.67h-7z"/><path fill="#fff" d="M1857.59 766.14h7v7.8h-7z"/><path fill="#f77f7f" stroke="#f77f7f" d="M1857.59 766.14h7v3.67h-7z"/><path fill="#fff" d="M1860.1 761.44h7v7.8h-7z"/><path fill="#f77f7f" stroke="#f77f7f" d="M1860.1 761.44h7v3.67h-7z"/><path fill="#fff" d="M1858.85 756.73h7v7.8h-7z"/><path fill="#f77f7f" stroke="#f77f7f" d="M1858.85 756.73h7v3.67h-7z"/><path fill="#fff" d="M1860.61 752.02h7v7.8h-7z"/><path fill="#f77f7f" stroke="#f77f7f" d="M1860.61 752.02h7v3.67h-7z"/><path fill="#fff" d="M1861.36 747.31h7v7.8h-7z"/><path fill="#f77f7f" stroke="#f77f7f" d="M1861.36 747.31h7v3.67h-7z"/><path fill="#fff" d="M1860.61 742.61h7v7.8h-7z"/><path fill="#f77f7f" stroke="#f77f7f" d="M1860.61 742.61h7v3.67h-7z"/><path fill="#fff" d="M1861.36 737.9h7v7.8h-7z"/><path fill="#f77f7f" stroke="#f77f7f" d="M1861.36 737.9h7v3.67h-7z"/><path fill="#fff" d="M1860.61 733.19h7v7.8h-7z"/><path fill="#f77f7f" stroke="#f77f7f" d="M1860.61 733.19h7v3.67h-7z"/><path fill="#fff" d="M1861.36 728.49h7v7.8h-7z"/><path fill="#f77f7f" stroke="#f77f7f" d="M1861.36 728.49h7v3.67h-7z"/><path fill="#fff" d="M1860.61 723.78h7v7.8h-7z"/><path fill="#f77f7f" stroke="#f77f7f" d="M1860.61 723.78h7v3.67h-7z"/><path fill="#fff" d="M1859.6 719.07h7v7.8h-7z"/><path fill="#f77f7f" stroke="#f77f7f" d="M1859.6 719.07h7v3.67h-7z"/><path fill="#fff" d="M1862.62 714.36h7v7.8h-7z"/><path fill="#f77f7f" stroke="#f77f7f" d="M1862.62 714.36h7v3.67h-7z"/><path fill="#fff" d="M1860.61 709.66h7v7.8h-7z"/><path fill="#f77f7f" stroke="#f77f7f" d="M1860.61 709.66h7v3.67h-7z"/><path fill="#fff" d="M1857.59 704.95h7v7.8h-7z"/><path fill="#f77f7f" stroke="#f77f7f" d="M1857.59 704.95h7v3.67h-7z"/><path fill="#fff" d="M1858.85 700.24h7v7.8h-7z"/><path fill="#f77f7f" stroke="#f77f7f" d="M1858.85 700.24h7v3.67h-7z"/><path fill="#fff" d="M1860.1 695.54h7v7.8h-7z"/><path fill="#f77f7f" stroke="#f77f7f" d="M1860.1 695.54h7v3.67h-7z"/><path fill="#fff" d="M1860.61 690.83h7v7.8h-7z"/><path fill="#f77f7f" stroke="#f77f7f" d="M1860.61 690.83h7v3.67h-7z"/><path fill="#fff" d="M1861.36 686.12h7v7.8h-7z"/><path fill="#f77f7f" stroke="#f77f7f" d="M1861.36 686.12h7v3.67h-7z"/><path fill="#fff" d="M1864.63 681.41h7v7.8h-7z"/><path fill="#f77f7f" stroke="#f77f7f" d="M1864.63 681.41h7v3.67h-7z"/><path fill="#fff" d="M1858.85 676.71h7v7.8h-7z"/><path fill="#f77f7f" stroke="#f77f7f" d="M1858.85 676.71h7v3.67h-7z"/><path fill="#fff" d="M1857.59 672h7v7.8h-7z"/><path fill="#f77f7f" stroke="#f77f7f" d="M1857.59 672h7v3.67h-7z"/><path fill="#fff" d="M1861.36 667.29h7v7.8h-7z"/><path fill="#f77f7f" stroke="#f77f7f" d="M1861.36 667.29h7v3.67h-7z"/><path fill="#fff" d="M1864.63 662.59h7v7.8h-7z"/><path fill="#f77f7f" stroke="#f77f7f" d="M1864.63 662.59h7v3.67h-7z"/><path fill="#fff" d="M1863.88 657.88h7v7.8h-7z"/><path fill="#f77f7f" stroke="#f77f7f" d="M1863.88 657.88h7v3.67h-7z"/><path fill="#fff" d="M1857.59 653.17h7v7.8h-7z"/><path fill="#f77f7f" stroke="#f77f7f" d="M1857.59 653.17h7v3.67h-7z"/><path fill="#fff" d="M1865.64 648.46h7v7.8h-7z"/><path fill="#f77f7f" stroke="#f77f7f" d="M1865.64 648.46h7v3.67h-7z"/><path fill="#fff" d="M1860.61 643.76h7v7.8h-7z"/><path fill="#f77f7f" stroke="#f77f7f" d="M1860.61 643.76h7v3.67h-7z"/><path fill="#fff" d="M1864.63 639.05h7v7.8h-7z"/><path fill="#f77f7f" stroke="#f77f7f" d="M1864.63 639.05h7v3.67h-7z"/><path fill="#fff" d="M1858.85 634.34h7v7.8h-7z"/><path fill="#f77f7f" stroke="#f77f7f" d="M1858.85 634.34h7v3.67h-7z"/><path fill="#fff" d="M1860.61 629.64h7v7.8h-7z"/><path fill="#f77f7f" stroke="#f77f7f" d="M1860.61 629.64h7v3.67h-7z"/><path fill="#fff" d="M1861.36 624.93h7v7.8h-7z"/><path fill="#f77f7f" stroke="#f77f7f" d="M1861.36 624.93h7v3.67h-7z"/><path fill="#fff" d="M1859.6 620.22h7v7.8h-7z"/><path fill="#f77f7f" stroke="#f77f7f" d="M1859.6 620.22h7v3.67h-7z"/><path fill="#fff" d="M1857.59 615.51h7v7.8h-7z"/><path fill="#f77f7f" stroke="#f77f7f" d="M1857.59 615.51h7v3.67h-7z"/><path fill="#fff" d="M1847.77 610.81h7v7.8h-7z"/><path fill="#f77f7f" stroke="#f77f7f" d="M1847.77 610.81h7v3.67h-7z"/><path fill="#fff" d="M1849.53 606.1h7v7.8h-7z"/><path fill="#f77f7f" stroke="#f77f7f" d="M1849.53 606.1h7v3.67h-7z"/><path fill="#fff" d="M1861.87 601.39h7v7.8h-7z"/><path fill="#f77f7f" stroke="#f77f7f" d="M1861.87 601.39h7v3.67h-7z"/><path fill="#fff" d="M1857.84 596.69h7v7.8h-7z"/><path fill="#f77f7f" stroke="#f77f7f" d="M1857.84 596.69h7v3.67h-7z"/><path fill="#fff" d="M1857.08 591.98h7v7.8h-7z"/><path fill="#f77f7f" stroke="#f77f7f" d="M1857.08 591.98h7v3.67h-7z"/><path fill="#fff" d="M1857.59 587.27h7v7.8h-7z"/><path fill="#f77f7f" stroke="#f77f7f" d="M1857.59 587.27h7v3.67h-7z"/><path fill="#fff" d="M1853.81 582.56h7v7.8h-7z"/><path fill="#f77f7f" stroke="#f77f7f" d="M1853.81 582.56h7v3.67h-7z"/><path fill="#fff" d="M1867.66 577.86h7v7.8h-7z"/><path fill="#f77f7f" stroke="#f77f7f" d="M1867.66 577.86h7v3.67h-7z"/><path fill="#fff" d="M1850.54 573.15h7v7.8h-7z"/><path fill="#f77f7f" stroke="#f77f7f" d="M1850.54 573.15h7v3.67h-7z"/><path fill="#fff" d="M1849.53 568.44h7v7.8h-7z"/><path fill="#f77f7f" stroke="#f77f7f" d="M1849.53 568.44h7v3.67h-7z"/><path fill="#fff" d="M1860.1 563.74h7v7.8h-7z"/><path fill="#f77f7f" stroke="#f77f7f" d="M1860.1 563.74h7v3.67h-7z"/><path fill="#fff" d="M1860.36 559.03h7v7.8h-7z"/><path fill="#f77f7f" stroke="#f77f7f" d="M1860.36 559.03h7v3.67h-7z"/><path fill="#fff" d="M1860.1 554.32h7v7.8h-7z"/><path fill="#f77f7f" stroke="#f77f7f" d="M1860.1 554.32h7v3.67h-7z"/><path fill="#fff" d="M1859.1 549.61h7v7.8h-7z"/><path fill="#f77f7f" stroke="#f77f7f" d="M1859.1 549.61h7v3.67h-7z"/><path fill="#fff" d="M1861.36 544.91h7v7.8h-7z"/><path fill="#f77f7f" stroke="#f77f7f" d="M1861.36 544.91h7v3.67h-7z"/><path fill="#fff" d="M1862.37 540.2h7v7.8h-7z"/><path fill="#f77f7f" stroke="#f77f7f" d="M1862.37 540.2h7v3.67h-7z"/><path fill="#fff" d="M1861.87 535.49h7v7.8h-7z"/><path fill="#f77f7f" stroke="#f77f7f" d="M1861.87 535.49h7v3.67h-7z"/><path fill="#fff" d="M1861.36 530.79h7v7.8h-7z"/><path fill="#f77f7f" stroke="#f77f7f" d="M1861.36 530.79h7v3.67h-7z"/><path fill="#fff" d="M1860.86 526.08h7v7.8h-7z"/><path fill="#f77f7f" stroke="#f77f7f" d="M1860.86 526.08h7v3.67h-7z"/><path fill="#fff" d="M1860.61 521.37h7v7.8h-7z"/><path fill="#f77f7f" stroke="#f77f7f" d="M1860.61 521.37h7v3.67h-7z"/><path fill="#fff" d="M1860.86 516.66h7v7.8h-7z"/><path fill="#f77f7f" stroke="#f77f7f" d="M1860.86 516.66h7v3.67h-7z"/><path fill="#fff" d="M1860.36 511.96h7v7.8h-7z"/><path fill="#f77f7f" stroke="#f77f7f" d="M1860.36 511.96h7v3.67h-7z"/><path fill="#fff" d="M1860.61 507.25h7v7.8h-7z"/><path fill="#f77f7f" stroke="#f77f7f" d="M1860.61 507.25h7v3.67h-7z"/><path fill="#fff" d="M1861.11 502.54h7v7.8h-7z"/><path fill="#f77f7f" stroke="#f77f7f" d="M1861.11 502.54h7v3.67h-7z"/><path fill="#fff" d="M1861.36 497.84h7v7.8h-7z"/><path fill="#f77f7f" stroke="#f77f7f" d="M1861.36 497.84h7v3.67h-7z"/><path fill="#fff" d="M1862.12 493.13h7v7.8h-7z"/><path fill="#f77f7f" stroke="#f77f7f" d="M1862.12 493.13h7v3.67h-7z"/><path fill="#fff" d="M1861.36 488.42h7v7.8h-7z"/><path fill="#f77f7f" stroke="#f77f7f" d="M1861.36 488.42h7v3.67h-7z"/><path fill="#fff" d="M1859.6 483.71h7v7.8h-7z"/><path fill="#f77f7f" stroke="#f77f7f" d="M1859.6 483.71h7v3.67h-7z"/><path fill="#fff" d="M1860.1 479.01h7v7.8h-7z"/><path fill="#f77f7f" stroke="#f77f7f" d="M1860.1 479.01h7v3.67h-7z"/><path fill="#fff" d="M1860.61 474.3h7v7.8h-7z"/><path fill="#f77f7f" stroke="#f77f7f" d="M1860.61 474.3h7v3.67h-7z"/></g>
</g>
<rect x="1738.3" y="478.5" width="192" height="329.5" fill="none" stroke="#111" stroke-width="1.3"/>
<path d="M1802.3 808v-5.5M1866.3 808v-5.5" stroke="#333" stroke-width="1.3" fill="none"/>
<path d="M1770.3 808v-3M1834.3 808v-3M1898.3 808v-3" stroke="#333" stroke-width="1.3" fill="none"/>
<path d="M1930.3 760.93h-5.5M1930.3 713.86h-5.5M1930.3 666.79h-5.5M1930.3 619.71h-5.5M1930.3 572.64h-5.5M1930.3 525.57h-5.5" stroke="#333" stroke-width="1.3" fill="none"/>
<path d="M1930.3 784.46h-3M1930.3 737.39h-3M1930.3 690.32h-3M1930.3 643.25h-3M1930.3 596.18h-3M1930.3 549.11h-3M1930.3 502.04h-3" stroke="#333" stroke-width="1.3" fill="none"/>
<text x="1749.1" y="832.5" font-size="19" text-anchor="middle">90</text>
<text x="1802.3" y="832.5" font-size="19" text-anchor="middle">95</text>
<text x="1866.3" y="832.5" font-size="19" text-anchor="middle">100</text>
<text x="1919.8" y="832.5" font-size="19" text-anchor="middle">105</text>
<text x="1936.5" y="814.8" font-size="19">0</text>
<text x="1936.5" y="767.73" font-size="19">10</text>
<text x="1936.5" y="720.66" font-size="19">20</text>
<text x="1936.5" y="673.59" font-size="19">30</text>
<text x="1936.5" y="626.51" font-size="19">40</text>
<text x="1936.5" y="579.44" font-size="19">50</text>
<text x="1936.5" y="532.37" font-size="19">60</text>
<text x="1936.5" y="485.3" font-size="19">70</text>
<text x="1858.5" y="869.5" font-size="25.5" text-anchor="middle">Coulombic efficiency (%)</text>
<text x="1993.5" y="642.5" font-size="26" text-anchor="middle" transform="rotate(-90 1993.5 642.5)">Cycle number (n)</text>
</g>
</svg>
</body>
</html>
